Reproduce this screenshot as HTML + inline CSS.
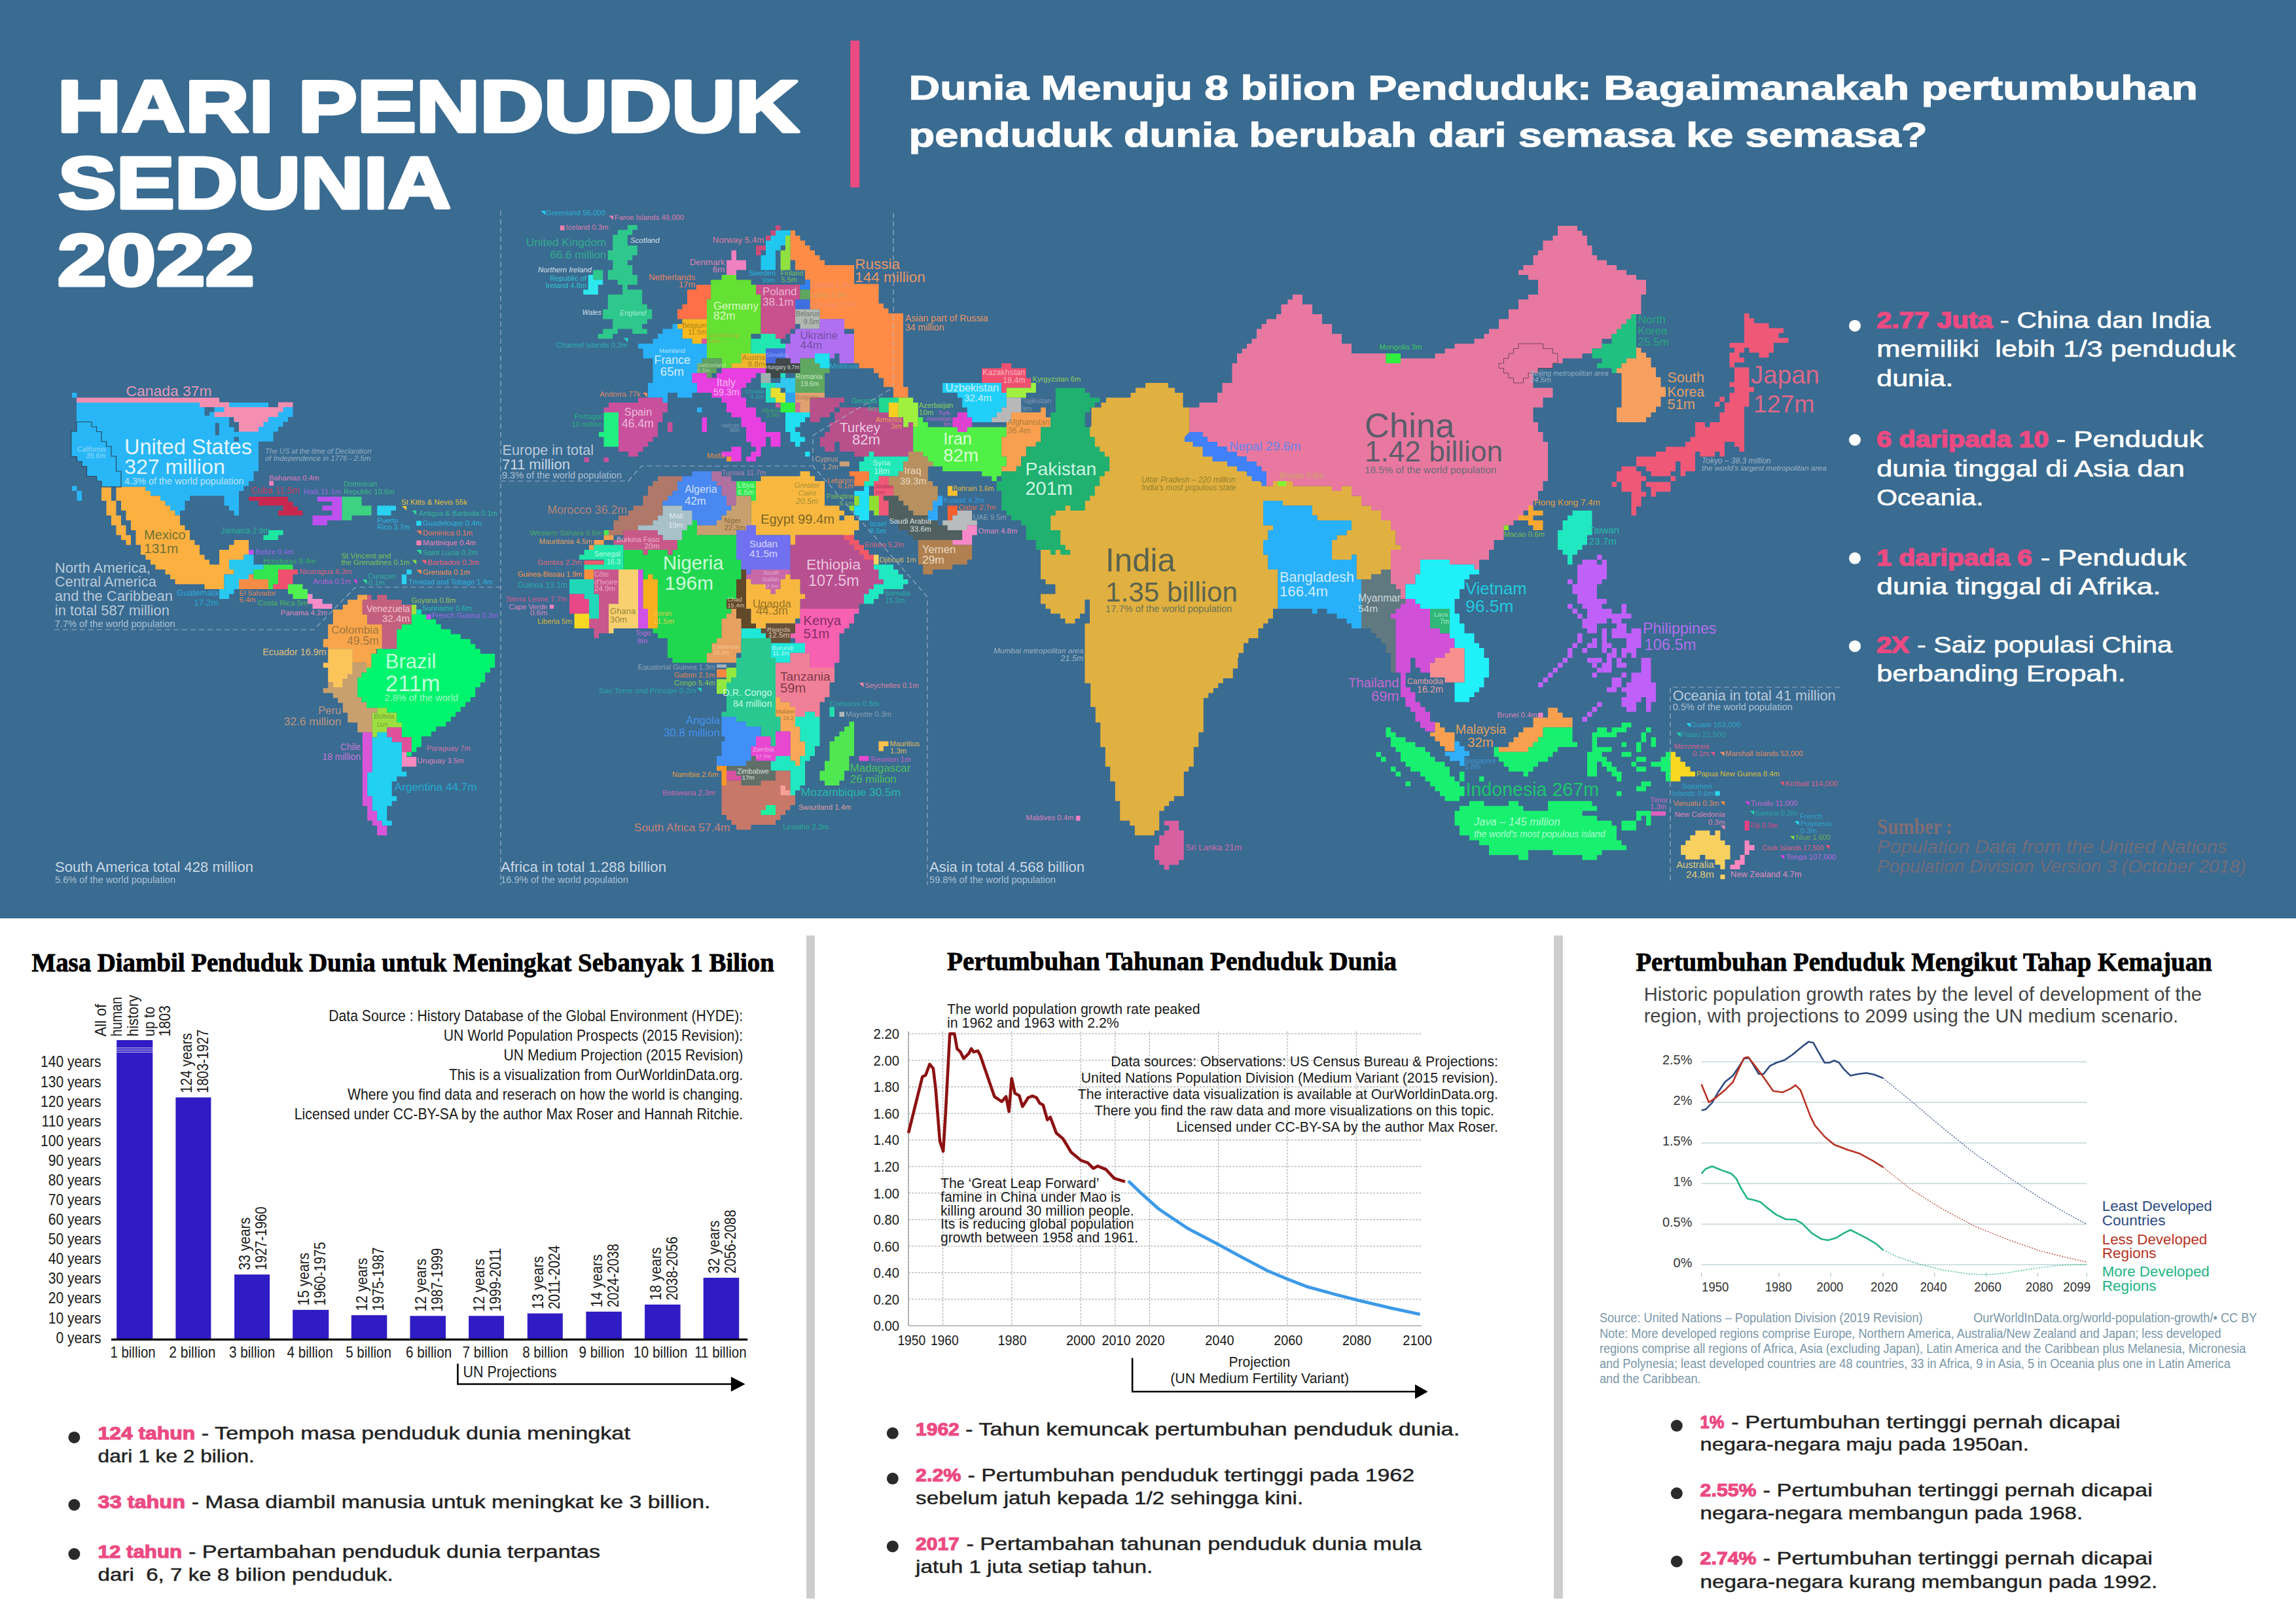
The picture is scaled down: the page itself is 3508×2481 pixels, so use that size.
<!DOCTYPE html>
<html><head><meta charset="utf-8"><title>Hari Penduduk Sedunia 2022</title>
<style>html,body{margin:0;padding:0;background:#fff}svg{display:block}text{white-space:pre}</style></head>
<body><svg width="3508" height="2481" viewBox="0 0 3508 2481">
<rect x="0" y="0" width="3508" height="2481" fill="#ffffff"/>
<rect x="0" y="0" width="3508" height="1403" fill="#3a6b91"/>
<polygon points="117.0,615.0 410.0,615.0 410.0,622.0 447.5,622.0 447.5,637.0 440.0,637.0 440.0,644.5 432.5,644.5 432.5,652.0 425.0,652.0 425.0,659.5 417.5,659.5 417.5,674.5 395.0,674.5 395.0,720.0 387.5,720.0 387.5,735.0 380.0,735.0 380.0,742.5 372.5,742.5 372.5,750.0 365.0,750.0 365.0,787.5 357.5,787.5 357.5,780.0 350.0,780.0 350.0,772.5 342.5,772.5 342.5,757.5 290.0,757.5 290.0,765.0 282.5,765.0 282.5,780.0 275.0,780.0 275.0,787.5 267.5,787.5 267.5,780.0 260.0,780.0 260.0,772.5 252.5,772.5 252.5,765.0 245.0,765.0 245.0,757.5 230.0,757.5 230.0,750.0 222.5,750.0 222.5,743.8 155.0,743.8 155.0,735.0 147.5,735.0 147.5,727.5 132.5,727.5 132.5,712.5 125.0,712.5 125.0,705.0 117.5,705.0 117.5,697.5 108.8,697.5 108.8,658.8 117.0,658.8" fill="#29b6f6"/>
<polygon points="328.8,646.2 335.0,646.2 335.0,665.0 328.8,665.0" fill="#3a6b91"/>
<polygon points="350.0,637.5 357.5,637.5 357.5,645.0 365.0,645.0 365.0,660.0 357.5,660.0 357.5,652.5 350.0,652.5" fill="#3a6b91"/>
<polygon points="357.5,667.5 365.0,667.5 365.0,674.5 357.5,674.5" fill="#3a6b91"/>
<polygon points="312.5,622.0 327.5,622.0 327.5,629.5 320.0,629.5 320.0,635.0 312.5,635.0" fill="#3a6b91"/>
<polygon points="110.0,600.0 117.5,600.0 117.5,607.5 110.0,607.5" fill="#29b6f6"/>
<polygon points="110.0,742.5 117.5,742.5 117.5,750.0 125.0,750.0 125.0,765.0 117.5,765.0 117.5,750.0 110.0,750.0" fill="#29b6f6"/>
<polygon points="117.0,607.5 335.0,607.5 335.0,614.5 350.0,614.5 350.0,622.0 402.5,622.0 425.0,622.0 425.0,614.5 447.5,614.5 447.5,622.0 432.5,622.0 432.5,629.5 425.0,629.5 425.0,637.0 410.0,637.0 410.0,644.5 402.5,644.5 402.5,652.0 395.0,652.0 395.0,659.5 365.0,659.5 365.0,644.5 357.5,644.5 357.5,637.0 327.5,637.0 327.5,629.5 342.5,629.5 342.5,622.0 305.0,622.0 305.0,615.0 117.0,615.0" fill="#f48fb1"/>
<polygon points="177.5,743.8 222.5,743.8 222.5,750.0 230.0,750.0 230.0,757.5 245.0,757.5 245.0,765.0 252.5,765.0 252.5,772.5 260.0,772.5 260.0,780.0 267.5,780.0 267.5,787.5 275.0,787.5 275.0,802.5 282.5,802.5 282.5,810.0 290.0,810.0 290.0,825.0 297.5,825.0 297.5,832.5 305.0,832.5 305.0,847.5 312.5,847.5 312.5,855.0 320.0,855.0 320.0,862.5 335.0,862.5 335.0,840.0 350.0,840.0 350.0,832.5 357.5,832.5 357.5,825.0 380.0,825.0 380.0,847.5 372.5,847.5 372.5,855.0 350.0,855.0 350.0,870.0 357.5,870.0 357.5,877.5 342.5,877.5 342.5,900.0 312.5,900.0 312.5,892.5 267.5,892.5 267.5,885.0 260.0,885.0 260.0,877.5 252.5,877.5 252.5,870.0 237.5,870.0 237.5,862.5 230.0,862.5 230.0,855.0 222.5,855.0 222.5,847.5 215.0,847.5 215.0,832.5 207.5,832.5 207.5,810.0 200.0,810.0 200.0,795.0 192.5,795.0 192.5,780.0 185.0,780.0 185.0,765.0 177.5,765.0" fill="#fbb040"/>
<polygon points="155.0,743.8 170.0,743.8 170.0,765.0 177.5,765.0 177.5,787.5 185.0,787.5 185.0,802.5 192.5,802.5 192.5,817.5 200.0,817.5 200.0,832.5 192.5,832.5 192.5,825.0 185.0,825.0 185.0,817.5 177.5,817.5 177.5,802.5 170.0,802.5 170.0,787.5 162.5,787.5 162.5,765.0 155.0,765.0" fill="#fbb040"/>
<polygon points="411.2,735.0 418.0,735.0 418.0,742.0 411.2,742.0" fill="#f080c0"/>
<polygon points="380.0,758.8 440.0,758.8 440.0,766.2 447.5,766.2 447.5,773.8 455.0,773.8 455.0,780.0 462.5,780.0 462.5,787.5 425.0,787.5 425.0,780.0 432.5,780.0 432.5,772.5 395.0,772.5 395.0,765.0 380.0,765.0" fill="#c8284e"/>
<polygon points="485.0,758.8 522.5,758.8 522.5,795.0 500.0,795.0 500.0,802.5 477.5,802.5 477.5,787.5 507.5,787.5 507.5,780.0 492.5,780.0 492.5,772.5 507.5,772.5 507.5,766.2 485.0,766.2" fill="#be50f0"/>
<polygon points="522.5,758.8 552.5,758.8 552.5,772.5 567.5,772.5 567.5,787.5 537.5,787.5 537.5,795.0 522.5,795.0" fill="#3cd282"/>
<polygon points="576.2,772.5 605.0,772.5 605.0,780.0 597.5,780.0 597.5,787.5 576.2,787.5" fill="#28d2f0"/>
<polygon points="410.0,810.0 432.5,810.0 432.5,817.5 425.0,817.5 425.0,825.0 402.5,825.0 402.5,817.5 410.0,817.5" fill="#1ee6a0"/>
<polygon points="380.0,840.0 387.5,840.0 387.5,847.5 380.0,847.5" fill="#be50f0"/>
<polygon points="372.5,847.5 387.5,847.5 387.5,862.5 402.5,862.5 402.5,870.0 387.5,870.0 387.5,877.5 380.0,877.5 380.0,885.0 365.0,885.0 365.0,900.0 357.5,900.0 357.5,907.5 350.0,907.5 350.0,915.0 335.0,915.0 335.0,900.0 342.5,900.0 342.5,877.5 357.5,877.5 357.5,870.0 350.0,870.0 350.0,855.0 372.5,855.0" fill="#28c8f0"/>
<polygon points="402.5,862.5 447.5,862.5 447.5,870.0 425.0,870.0 425.0,892.5 417.5,892.5 417.5,900.0 410.0,900.0 410.0,885.0 387.5,885.0 387.5,870.0 402.5,870.0" fill="#32e650"/>
<polygon points="380.0,877.5 387.5,877.5 387.5,885.0 410.0,885.0 410.0,900.0 365.0,900.0 365.0,885.0 380.0,885.0" fill="#f58c46"/>
<polygon points="425.0,870.0 455.0,870.0 455.0,877.5 447.5,877.5 447.5,892.5 440.0,892.5 440.0,900.0 417.5,900.0 417.5,892.5 425.0,892.5" fill="#f0506e"/>
<polygon points="440.0,892.5 462.5,892.5 462.5,900.0 470.0,900.0 470.0,915.0 447.5,915.0 447.5,907.5 440.0,907.5" fill="#50f050"/>
<polygon points="470.0,907.5 477.5,907.5 477.5,915.0 492.5,915.0 492.5,922.5 507.5,922.5 507.5,930.0 477.5,930.0 477.5,922.5 470.0,922.5" fill="#f58cc8"/>
<polygon points="613.8,877.5 621.2,877.5 621.2,892.5 613.8,892.5" fill="#28d2f0"/>
<polygon points="621.2,870.0 628.8,870.0 628.8,877.5 621.2,877.5" fill="#28d2f0"/>
<polygon points="546.2,908.8 561.2,908.8 561.2,916.2 553.8,916.2 553.8,938.8 561.2,938.8 561.2,953.8 583.8,953.8 583.8,991.2 575.0,991.2 575.0,998.8 567.5,998.8 567.5,1020.0 560.0,1020.0 560.0,1012.5 538.8,1012.5 538.8,991.2 501.2,991.2 501.2,988.8 493.8,988.8 493.8,976.2 501.2,976.2 501.2,953.8 508.8,953.8 508.8,931.2 523.8,931.2 523.8,923.8 531.2,923.8 531.2,916.2 546.2,916.2" fill="#f9a54b"/>
<polygon points="501.2,991.2 538.8,991.2 538.8,1030.0 531.2,1030.0 531.2,1037.5 523.8,1037.5 523.8,1050.0 508.8,1050.0 508.8,1042.5 501.2,1042.5 501.2,1020.0 493.8,1020.0 493.8,1012.5 501.2,1012.5" fill="#fcc55a"/>
<polygon points="538.8,1012.5 560.0,1012.5 560.0,1027.5 552.5,1027.5 552.5,1035.0 546.2,1035.0 546.2,1065.0 552.5,1065.0 552.5,1072.5 560.0,1072.5 560.0,1081.2 576.2,1081.2 576.2,1088.8 568.8,1088.8 568.8,1118.8 546.2,1118.8 546.2,1103.8 531.2,1103.8 531.2,1088.8 523.8,1088.8 523.8,1073.8 516.2,1073.8 516.2,1066.2 508.8,1066.2 508.8,1058.8 493.8,1058.8 493.8,1051.2 501.2,1051.2 501.2,1042.5 508.8,1042.5 508.8,1050.0 523.8,1050.0 523.8,1037.5 531.2,1037.5 531.2,1030.0 538.8,1030.0" fill="#c8a06e"/>
<polygon points="628.8,938.8 651.2,938.8 651.2,946.2 666.2,946.2 666.2,953.8 673.8,953.8 673.8,961.2 688.8,961.2 688.8,968.8 703.8,968.8 703.8,976.2 718.8,976.2 718.8,983.8 726.2,983.8 726.2,991.2 733.8,991.2 733.8,998.8 756.2,998.8 756.2,1020.0 748.8,1020.0 748.8,1027.5 741.2,1027.5 741.2,1042.5 733.8,1042.5 733.8,1050.0 726.2,1050.0 726.2,1065.0 718.8,1065.0 718.8,1072.5 711.2,1072.5 711.2,1080.0 703.8,1080.0 703.8,1087.5 696.2,1087.5 696.2,1095.0 688.8,1095.0 688.8,1102.5 681.2,1102.5 681.2,1110.0 666.2,1110.0 666.2,1117.5 658.8,1117.5 658.8,1125.0 643.8,1125.0 643.8,1141.2 636.2,1141.2 636.2,1148.8 628.8,1148.8 628.8,1155.0 621.2,1155.0 621.2,1148.8 628.8,1148.8 628.8,1126.2 613.8,1126.2 613.8,1111.2 606.2,1111.2 606.2,1088.8 591.2,1088.8 591.2,1081.2 560.0,1081.2 560.0,1072.5 552.5,1072.5 552.5,1065.0 546.2,1065.0 546.2,1035.0 552.5,1035.0 552.5,1027.5 560.0,1027.5 560.0,1020.0 567.5,1020.0 567.5,998.8 576.2,998.8 576.2,991.2 606.2,991.2 606.2,961.2 613.8,961.2 613.8,953.8 628.8,953.8" fill="#00f56e"/>
<polygon points="561.2,908.8 567.5,908.8 567.5,916.2 576.2,916.2 576.2,908.8 591.2,908.8 591.2,916.2 613.8,916.2 613.8,923.8 628.8,923.8 628.8,953.8 613.8,953.8 613.8,961.2 606.2,961.2 606.2,991.2 583.8,991.2 583.8,953.8 561.2,953.8 561.2,938.8 553.8,938.8 553.8,916.2 561.2,916.2" fill="#c4607f"/>
<polygon points="628.8,923.8 636.2,923.8 636.2,938.8 628.8,938.8" fill="#a0e040"/>
<polygon points="636.2,931.2 643.8,931.2 643.8,938.8 636.2,938.8" fill="#00e6b4"/>
<polygon points="651.2,938.8 658.8,938.8 658.8,946.2 651.2,946.2" fill="#be50f0"/>
<polygon points="576.2,1081.2 591.2,1081.2 591.2,1088.8 606.2,1088.8 606.2,1103.8 613.8,1103.8 613.8,1111.2 591.2,1111.2 591.2,1118.8 576.2,1118.8 576.2,1126.2 568.8,1126.2 568.8,1088.8 576.2,1088.8" fill="#9be040"/>
<polygon points="591.2,1111.2 613.8,1111.2 613.8,1126.2 628.8,1126.2 628.8,1148.8 613.8,1148.8 613.8,1133.8 598.8,1133.8 598.8,1126.2 591.2,1126.2" fill="#e0509a"/>
<polygon points="613.8,1148.8 621.2,1148.8 621.2,1156.2 636.2,1156.2 636.2,1171.2 613.8,1171.2" fill="#f48ac0"/>
<polygon points="553.8,1118.8 568.8,1118.8 568.8,1180.0 561.2,1180.0 561.2,1216.2 568.8,1216.2 568.8,1238.8 576.2,1238.8 576.2,1253.8 583.8,1253.8 583.8,1261.2 591.2,1261.2 591.2,1276.2 576.2,1276.2 576.2,1261.2 568.8,1261.2 568.8,1253.8 561.2,1253.8 561.2,1231.2 553.8,1231.2" fill="#d855d8"/>
<polygon points="568.8,1126.2 576.2,1126.2 576.2,1118.8 591.2,1118.8 591.2,1126.2 598.8,1126.2 598.8,1133.8 613.8,1133.8 613.8,1178.8 621.2,1178.8 621.2,1186.2 606.2,1186.2 606.2,1193.8 598.8,1193.8 598.8,1216.2 606.2,1216.2 606.2,1223.8 598.8,1223.8 598.8,1231.2 591.2,1231.2 591.2,1253.8 598.8,1253.8 598.8,1261.2 583.8,1261.2 583.8,1253.8 576.2,1253.8 576.2,1238.8 568.8,1238.8 568.8,1216.2 561.2,1216.2 561.2,1180.0 568.8,1180.0" fill="#22d0f0"/>
<polygon points="1207.5,352.0 1215.0,352.0 1215.0,360.0 1222.5,360.0 1222.5,367.5 1230.0,367.5 1230.0,375.0 1237.5,375.0 1237.5,382.5 1245.0,382.5 1245.0,390.0 1252.5,390.0 1252.5,397.5 1260.0,397.5 1260.0,405.0 1305.0,405.0 1305.0,433.8 1342.5,433.8 1342.5,463.8 1350.0,463.8 1350.0,471.2 1357.5,471.2 1357.5,478.8 1380.0,478.8 1380.0,591.2 1387.5,591.2 1387.5,607.5 1365.0,607.5 1365.0,591.2 1350.0,591.2 1350.0,577.5 1342.5,577.5 1342.5,570.0 1335.0,570.0 1335.0,562.5 1312.5,562.5 1312.5,555.0 1305.0,555.0 1305.0,502.5 1290.0,502.5 1290.0,487.5 1252.5,487.5 1252.5,472.5 1237.5,472.5 1237.5,427.5 1230.0,427.5 1230.0,412.5 1215.0,412.5 1215.0,397.5 1207.5,397.5" fill="#ff8c46"/>
<polygon points="958.8,343.8 973.8,343.8 973.8,351.2 966.2,351.2 966.2,358.8 958.8,358.8 958.8,375.0 973.8,375.0 973.8,390.0 966.2,390.0 966.2,397.5 958.8,397.5 958.8,405.0 966.2,405.0 966.2,420.0 973.8,420.0 973.8,435.0 958.8,435.0 958.8,442.5 981.2,442.5 981.2,465.0 988.8,465.0 988.8,472.5 996.2,472.5 996.2,487.5 988.8,487.5 988.8,495.0 981.2,495.0 981.2,502.5 988.8,502.5 988.8,510.0 966.2,510.0 966.2,502.5 943.8,502.5 943.8,510.0 936.2,510.0 936.2,517.5 913.8,517.5 913.8,510.0 921.2,510.0 921.2,502.5 936.2,502.5 936.2,487.5 921.2,487.5 921.2,472.5 928.8,472.5 928.8,450.0 951.2,450.0 951.2,435.0 943.8,435.0 943.8,427.5 928.8,427.5 928.8,412.5 936.2,412.5 936.2,397.5 928.8,397.5 928.8,382.5 936.2,382.5 936.2,358.8 943.8,358.8 943.8,351.2 958.8,351.2" fill="#2ec88c"/>
<polygon points="906.2,412.5 921.2,412.5 921.2,427.5 906.2,427.5" fill="#2ec88c"/>
<polygon points="898.8,420.0 906.2,420.0 906.2,427.5 921.2,427.5 921.2,435.0 913.8,435.0 913.8,450.0 891.2,450.0 891.2,442.5 898.8,442.5" fill="#2ee8f0"/>
<polygon points="855.8,344.5 862.5,344.5 862.5,351.8 855.8,351.8" fill="#f080b0"/>
<polygon points="1185.0,344.5 1192.5,344.5 1192.5,352.0 1185.0,352.0 1185.0,360.0 1177.5,360.0 1177.5,367.5 1170.0,367.5 1170.0,382.5 1162.5,382.5 1162.5,390.0 1155.0,390.0 1155.0,375.0 1170.0,375.0 1170.0,360.0 1177.5,360.0 1177.5,352.0 1185.0,352.0" fill="#cc4a78"/>
<polygon points="1192.5,352.0 1207.5,352.0 1207.5,360.0 1200.0,360.0 1200.0,375.0 1192.5,375.0 1192.5,382.5 1185.0,382.5 1185.0,412.5 1162.5,412.5 1162.5,390.0 1170.0,390.0 1170.0,367.5 1177.5,367.5 1177.5,360.0 1185.0,360.0 1185.0,352.0" fill="#20c8f0"/>
<polygon points="1200.0,360.0 1207.5,360.0 1207.5,412.5 1192.5,412.5 1192.5,382.5 1200.0,382.5" fill="#90e040"/>
<polygon points="1117.5,382.5 1125.0,382.5 1125.0,397.5 1140.0,397.5 1140.0,412.5 1125.0,412.5 1125.0,420.0 1110.0,420.0 1110.0,397.5 1117.5,397.5" fill="#f080c0"/>
<polygon points="1063.8,435.0 1086.2,435.0 1086.2,457.5 1080.0,457.5 1080.0,487.5 1035.0,487.5 1035.0,472.5 1042.5,472.5 1042.5,465.0 1050.0,465.0 1050.0,442.5 1063.8,442.5" fill="#ff7048"/>
<polygon points="1042.5,487.5 1080.0,487.5 1080.0,517.5 1072.5,517.5 1072.5,525.0 1057.5,525.0 1057.5,517.5 1042.5,517.5 1042.5,502.5 1035.0,502.5 1035.0,495.0 1042.5,495.0" fill="#f8b820"/>
<polygon points="1102.5,420.0 1125.0,420.0 1125.0,427.5 1147.5,427.5 1147.5,435.0 1155.0,435.0 1155.0,450.0 1162.5,450.0 1162.5,510.0 1147.5,510.0 1147.5,540.0 1132.5,540.0 1132.5,555.0 1117.5,555.0 1117.5,562.5 1102.5,562.5 1102.5,547.5 1080.0,547.5 1080.0,457.5 1086.2,457.5 1086.2,427.5 1102.5,427.5" fill="#64e132"/>
<polygon points="1072.5,517.5 1080.0,517.5 1080.0,525.0 1072.5,525.0" fill="#e0509a"/>
<polygon points="1155.0,435.0 1222.5,435.0 1222.5,472.5 1215.0,472.5 1215.0,502.5 1207.5,502.5 1207.5,510.0 1200.0,510.0 1200.0,517.5 1185.0,517.5 1185.0,510.0 1162.5,510.0 1162.5,450.0 1155.0,450.0" fill="#c8508c"/>
<polygon points="1230.0,427.5 1237.5,427.5 1237.5,442.5 1222.5,442.5 1222.5,435.0 1230.0,435.0" fill="#3080f0"/>
<polygon points="1222.5,442.5 1237.5,442.5 1237.5,457.5 1222.5,457.5" fill="#60a860"/>
<polygon points="1215.0,457.5 1237.5,457.5 1237.5,472.5 1215.0,472.5" fill="#4070e0"/>
<polygon points="1215.0,472.5 1252.5,472.5 1252.5,487.5 1260.0,487.5 1260.0,495.0 1252.5,495.0 1252.5,502.5 1222.5,502.5 1222.5,495.0 1215.0,495.0" fill="#b0b8b0"/>
<polygon points="1252.5,487.5 1290.0,487.5 1290.0,510.0 1305.0,510.0 1305.0,555.0 1282.5,555.0 1282.5,540.0 1275.0,540.0 1275.0,547.5 1267.5,547.5 1267.5,540.0 1245.0,540.0 1245.0,547.5 1222.5,547.5 1222.5,555.0 1207.5,555.0 1207.5,547.5 1200.0,547.5 1200.0,525.0 1207.5,525.0 1207.5,510.0 1215.0,510.0 1215.0,502.5 1252.5,502.5" fill="#b070f0"/>
<polygon points="1162.5,510.0 1185.0,510.0 1185.0,517.5 1192.5,517.5 1192.5,525.0 1200.0,525.0 1200.0,532.5 1170.0,532.5 1170.0,540.0 1147.5,540.0 1147.5,517.5 1162.5,517.5" fill="#20e8b0"/>
<polygon points="1170.0,532.5 1200.0,532.5 1200.0,547.5 1185.0,547.5 1185.0,555.0 1170.0,555.0" fill="#4868e0"/>
<polygon points="1132.5,540.0 1170.0,540.0 1170.0,562.5 1117.5,562.5 1117.5,555.0 1132.5,555.0" fill="#f0b830"/>
<polygon points="1185.0,547.5 1207.5,547.5 1207.5,555.0 1222.5,555.0 1222.5,570.0 1192.5,570.0 1192.5,577.5 1177.5,577.5 1177.5,570.0 1170.0,570.0 1170.0,555.0 1185.0,555.0" fill="#404848"/>
<polygon points="1072.5,547.5 1102.5,547.5 1102.5,562.5 1095.0,562.5 1095.0,570.0 1087.5,570.0 1087.5,577.5 1080.0,577.5 1080.0,570.0 1065.0,570.0 1065.0,555.0 1072.5,555.0" fill="#60a060"/>
<polygon points="1027.5,495.0 1035.0,495.0 1035.0,502.5 1042.5,502.5 1042.5,517.5 1057.5,517.5 1057.5,525.0 1080.0,525.0 1080.0,547.5 1072.5,547.5 1072.5,555.0 1065.0,555.0 1065.0,570.0 1057.5,570.0 1057.5,585.0 1065.0,585.0 1065.0,600.0 1057.5,600.0 1057.5,607.5 1035.0,607.5 1035.0,600.0 1020.0,600.0 1020.0,615.0 1012.5,615.0 1012.5,607.5 990.0,607.5 990.0,585.0 997.5,585.0 997.5,547.5 982.5,547.5 982.5,532.5 975.0,532.5 975.0,525.0 997.5,525.0 997.5,517.5 1005.0,517.5 1005.0,510.0 1012.5,510.0 1012.5,502.5 1027.5,502.5" fill="#28b0f8"/>
<polygon points="1102.5,562.5 1170.0,562.5 1170.0,570.0 1155.0,570.0 1155.0,577.5 1147.5,577.5 1147.5,585.0 1140.0,585.0 1140.0,592.5 1132.5,592.5 1132.5,607.5 1140.0,607.5 1140.0,622.5 1155.0,622.5 1155.0,637.5 1162.5,637.5 1162.5,645.0 1170.0,645.0 1170.0,660.0 1192.5,660.0 1192.5,682.5 1177.5,682.5 1177.5,667.5 1170.0,667.5 1170.0,682.5 1162.5,682.5 1162.5,697.5 1155.0,697.5 1155.0,705.0 1140.0,705.0 1140.0,697.5 1147.5,697.5 1147.5,690.0 1155.0,690.0 1155.0,682.5 1147.5,682.5 1147.5,675.0 1140.0,675.0 1140.0,652.5 1132.5,652.5 1132.5,637.5 1117.5,637.5 1117.5,630.0 1110.0,630.0 1110.0,615.0 1102.5,615.0 1102.5,607.5 1087.5,607.5 1087.5,600.0 1065.0,600.0 1065.0,585.0 1057.5,585.0 1057.5,570.0 1080.0,570.0 1080.0,577.5 1095.0,577.5 1095.0,570.0 1102.5,570.0" fill="#e840e0"/>
<polygon points="1117.5,682.5 1132.5,682.5 1132.5,705.0 1117.5,705.0 1117.5,697.5 1102.5,697.5 1102.5,690.0 1117.5,690.0" fill="#e840e0"/>
<polygon points="1072.5,637.5 1080.0,637.5 1080.0,660.0 1072.5,660.0" fill="#e840e0"/>
<polygon points="1065.0,622.5 1072.5,622.5 1072.5,630.0 1065.0,630.0" fill="#28b0f8"/>
<polygon points="975.0,607.5 1012.5,607.5 1012.5,615.0 1020.0,615.0 1020.0,630.0 1012.5,630.0 1012.5,645.0 1005.0,645.0 1005.0,667.5 997.5,667.5 997.5,675.0 990.0,675.0 990.0,682.5 982.5,682.5 982.5,690.0 975.0,690.0 975.0,697.5 960.0,697.5 960.0,690.0 945.0,690.0 945.0,630.0 922.5,630.0 922.5,622.5 930.0,622.5 930.0,615.0 975.0,615.0" fill="#c8509c"/>
<polygon points="1020.0,645.0 1027.5,645.0 1027.5,660.0 1020.0,660.0" fill="#c8509c"/>
<polygon points="892.5,698.8 900.0,698.8 900.0,706.0 892.5,706.0" fill="#c8509c"/>
<polygon points="922.5,698.8 930.0,698.8 930.0,706.0 922.5,706.0" fill="#c8509c"/>
<polygon points="922.5,630.0 945.0,630.0 945.0,682.5 922.5,682.5 922.5,667.5 915.0,667.5 915.0,660.0 922.5,660.0" fill="#20f080"/>
<polygon points="1222.5,547.5 1245.0,547.5 1245.0,555.0 1252.5,555.0 1252.5,562.5 1267.5,562.5 1267.5,570.0 1260.0,570.0 1260.0,600.0 1215.0,600.0 1215.0,570.0 1222.5,570.0" fill="#60a860"/>
<polygon points="1245.0,540.0 1267.5,540.0 1267.5,562.5 1252.5,562.5 1252.5,555.0 1245.0,555.0" fill="#20e0f0"/>
<polygon points="1215.0,600.0 1260.0,600.0 1260.0,607.5 1237.5,607.5 1237.5,630.0 1215.0,630.0" fill="#e0a070"/>
<polygon points="1162.5,570.0 1177.5,570.0 1177.5,585.0 1162.5,585.0" fill="#a0b0b0"/>
<polygon points="1162.5,585.0 1185.0,585.0 1185.0,592.5 1177.5,592.5 1177.5,607.5 1185.0,607.5 1185.0,615.0 1170.0,615.0 1170.0,592.5 1162.5,592.5" fill="#20e0c0"/>
<polygon points="1192.5,570.0 1200.0,570.0 1200.0,577.5 1192.5,577.5" fill="#20e0c0"/>
<polygon points="1192.5,577.5 1215.0,577.5 1215.0,600.0 1200.0,600.0 1200.0,592.5 1185.0,592.5 1185.0,585.0 1192.5,585.0" fill="#30c8f0"/>
<polygon points="1177.5,592.5 1192.5,592.5 1192.5,600.0 1200.0,600.0 1200.0,615.0 1185.0,615.0 1185.0,607.5 1177.5,607.5" fill="#e8e030"/>
<polygon points="1200.0,600.0 1215.0,600.0 1215.0,615.0 1200.0,615.0" fill="#30a0f0"/>
<polygon points="1192.5,615.0 1215.0,615.0 1215.0,630.0 1192.5,630.0" fill="#30f040"/>
<polygon points="1185.0,616.2 1192.5,616.2 1192.5,622.5 1185.0,622.5" fill="#d05898"/>
<polygon points="1215.0,615.0 1222.5,615.0 1222.5,630.0 1215.0,630.0" fill="#d06898"/>
<polygon points="1200.0,630.0 1237.5,630.0 1237.5,637.5 1230.0,637.5 1230.0,645.0 1222.5,645.0 1222.5,652.5 1215.0,652.5 1215.0,660.0 1222.5,660.0 1222.5,667.5 1230.0,667.5 1230.0,675.0 1222.5,675.0 1222.5,682.5 1215.0,682.5 1215.0,675.0 1207.5,675.0 1207.5,660.0 1200.0,660.0" fill="#20e0f0"/>
<polygon points="1230.0,690.0 1237.5,690.0 1237.5,697.5 1230.0,697.5" fill="#20e0f0"/>
<polygon points="1110.0,697.5 1117.5,697.5 1117.5,705.0 1110.0,705.0" fill="#f89040"/>
<polygon points="1237.8,607.5 1290.2,607.5 1290.2,615.0 1282.8,615.0 1282.8,622.5 1275.2,622.5 1275.2,630.0 1267.8,630.0 1267.8,637.5 1252.8,637.5 1252.8,645.0 1237.8,645.0" fill="#b8508c"/>
<polygon points="1282.8,622.5 1357.8,622.5 1357.8,637.5 1380.2,637.5 1380.2,652.5 1387.8,652.5 1387.8,645.0 1395.2,645.0 1395.2,690.0 1387.8,690.0 1387.8,697.5 1335.2,697.5 1335.2,690.0 1327.8,690.0 1327.8,697.5 1305.2,697.5 1305.2,690.0 1282.8,690.0 1282.8,675.0 1275.2,675.0 1275.2,690.0 1260.2,690.0 1260.2,682.5 1252.8,682.5 1252.8,667.5 1260.2,667.5 1260.2,660.0 1267.8,660.0 1267.8,645.0 1275.2,645.0 1275.2,630.0 1282.8,630.0" fill="#b8508c"/>
<polygon points="1342.8,607.5 1372.8,607.5 1372.8,615.0 1357.8,615.0 1357.8,630.0 1342.8,630.0" fill="#20d890"/>
<polygon points="1357.8,615.0 1372.8,615.0 1372.8,637.5 1357.8,637.5" fill="#f8d020"/>
<polygon points="1372.8,607.5 1395.2,607.5 1395.2,615.0 1402.8,615.0 1402.8,652.5 1395.2,652.5 1395.2,645.0 1387.8,645.0 1387.8,652.5 1380.2,652.5 1380.2,637.5 1372.8,637.5" fill="#a0f040"/>
<polygon points="1395.2,652.5 1402.8,652.5 1402.8,637.5 1410.2,637.5 1410.2,645.0 1417.8,645.0 1417.8,652.5 1537.8,652.5 1537.8,667.5 1530.2,667.5 1530.2,697.5 1537.8,697.5 1537.8,712.5 1530.2,712.5 1530.2,727.5 1522.8,727.5 1522.8,735.0 1515.2,735.0 1515.2,727.5 1500.2,727.5 1500.2,720.0 1440.2,720.0 1440.2,712.5 1425.2,712.5 1425.2,705.0 1417.8,705.0 1417.8,697.5 1410.2,697.5 1410.2,690.0 1395.2,690.0" fill="#50f046"/>
<polygon points="1462.8,630.0 1477.8,630.0 1477.8,637.5 1485.2,637.5 1485.2,652.5 1477.8,652.5 1477.8,660.0 1462.8,660.0 1462.8,652.5 1455.2,652.5 1455.2,637.5 1462.8,637.5" fill="#e040d0"/>
<polygon points="1440.2,585.0 1530.2,585.0 1530.2,600.0 1537.8,600.0 1537.8,622.5 1530.2,622.5 1530.2,630.0 1522.8,630.0 1522.8,637.5 1515.2,637.5 1515.2,645.0 1485.2,645.0 1485.2,637.5 1477.8,637.5 1477.8,622.5 1470.2,622.5 1470.2,607.5 1462.8,607.5 1462.8,600.0 1440.2,600.0" fill="#20d0f8"/>
<polygon points="1530.2,555.0 1545.2,555.0 1545.2,562.5 1567.8,562.5 1567.8,577.5 1575.2,577.5 1575.2,592.5 1537.8,592.5 1537.8,600.0 1530.2,600.0 1530.2,585.0 1500.2,585.0 1500.2,562.5 1530.2,562.5" fill="#f05070"/>
<polygon points="1575.2,585.0 1582.8,585.0 1582.8,600.0 1567.8,600.0 1567.8,607.5 1537.8,607.5 1537.8,592.5 1575.2,592.5" fill="#a0f040"/>
<polygon points="1537.8,607.5 1560.2,607.5 1560.2,630.0 1545.2,630.0 1545.2,645.0 1515.2,645.0 1515.2,637.5 1522.8,637.5 1522.8,630.0 1530.2,630.0 1530.2,622.5 1537.8,622.5" fill="#b8b8b8"/>
<polygon points="1545.2,630.0 1590.2,630.0 1590.2,622.5 1597.8,622.5 1597.8,637.5 1605.2,637.5 1605.2,652.5 1590.2,652.5 1590.2,675.0 1582.8,675.0 1582.8,682.5 1567.8,682.5 1567.8,697.5 1560.2,697.5 1560.2,712.5 1552.8,712.5 1552.8,720.0 1530.2,720.0 1530.2,712.5 1537.8,712.5 1537.8,697.5 1530.2,697.5 1530.2,667.5 1537.8,667.5 1537.8,645.0 1545.2,645.0" fill="#f8a050"/>
<polygon points="1327.8,690.0 1335.2,690.0 1335.2,697.5 1387.8,697.5 1387.8,705.0 1380.2,705.0 1380.2,720.0 1372.8,720.0 1372.8,727.5 1342.8,727.5 1342.8,735.0 1335.2,735.0 1335.2,742.5 1320.2,742.5 1320.2,735.0 1327.8,735.0 1327.8,720.0 1312.8,720.0 1312.8,705.0 1320.2,705.0 1320.2,697.5 1327.8,697.5" fill="#20e8b8"/>
<polygon points="1387.8,690.0 1410.2,690.0 1410.2,697.5 1417.8,697.5 1417.8,705.0 1425.2,705.0 1425.2,712.5 1417.8,712.5 1417.8,735.0 1425.2,735.0 1425.2,742.5 1432.8,742.5 1432.8,765.0 1425.2,765.0 1425.2,780.0 1417.8,780.0 1417.8,787.5 1395.2,787.5 1395.2,780.0 1387.8,780.0 1387.8,772.5 1380.2,772.5 1380.2,765.0 1372.8,765.0 1372.8,757.5 1365.2,757.5 1365.2,742.5 1357.8,742.5 1357.8,727.5 1372.8,727.5 1372.8,720.0 1380.2,720.0 1380.2,705.0 1387.8,705.0" fill="#b89060"/>
<polygon points="1297.8,720.0 1327.8,720.0 1327.8,735.0 1320.2,735.0 1320.2,742.5 1305.2,742.5 1305.2,727.5 1297.8,727.5" fill="#f88040"/>
<polygon points="1342.8,727.5 1357.8,727.5 1357.8,742.5 1365.2,742.5 1365.2,757.5 1350.2,757.5 1350.2,765.0 1357.8,765.0 1357.8,787.5 1342.8,787.5 1342.8,765.0 1335.2,765.0 1335.2,735.0 1342.8,735.0" fill="#f05878"/>
<polygon points="1327.8,757.5 1342.8,757.5 1342.8,787.5 1335.2,787.5 1335.2,780.0 1327.8,780.0" fill="#90e030"/>
<polygon points="1305.2,757.5 1312.8,757.5 1312.8,772.5 1305.2,772.5 1305.2,780.0 1297.8,780.0 1297.8,772.5 1305.2,772.5" fill="#90e030"/>
<polygon points="1305.2,750.0 1320.2,750.0 1320.2,742.5 1327.8,742.5 1327.8,795.0 1312.8,795.0 1312.8,787.5 1305.2,787.5 1305.2,772.5 1312.8,772.5 1312.8,757.5 1305.2,757.5" fill="#20e0f8"/>
<polygon points="1350.2,757.5 1372.8,757.5 1372.8,765.0 1380.2,765.0 1380.2,772.5 1387.8,772.5 1387.8,780.0 1395.2,780.0 1395.2,787.5 1417.8,787.5 1417.8,795.0 1432.8,795.0 1432.8,802.5 1447.8,802.5 1447.8,810.0 1470.2,810.0 1470.2,825.0 1395.2,825.0 1395.2,817.5 1387.8,817.5 1387.8,810.0 1372.8,810.0 1372.8,795.0 1357.8,795.0 1357.8,765.0 1350.2,765.0" fill="#506060"/>
<polygon points="1432.8,757.5 1440.2,757.5 1440.2,772.5 1432.8,772.5 1432.8,795.0 1417.8,795.0 1417.8,780.0 1425.2,780.0 1425.2,765.0 1432.8,765.0" fill="#30a8f8"/>
<polygon points="1447.8,742.5 1455.2,742.5 1455.2,750.0 1462.8,750.0 1462.8,757.5 1447.8,757.5" fill="#f8c030"/>
<polygon points="1447.8,772.5 1462.8,772.5 1462.8,787.5 1455.2,787.5 1455.2,795.0 1447.8,795.0" fill="#f86030"/>
<polygon points="1462.8,780.0 1485.2,780.0 1485.2,795.0 1492.8,795.0 1492.8,802.5 1477.8,802.5 1477.8,810.0 1447.8,810.0 1447.8,802.5 1440.2,802.5 1440.2,795.0 1455.2,795.0 1455.2,787.5 1462.8,787.5" fill="#b8bcbc"/>
<polygon points="1477.8,802.5 1492.8,802.5 1492.8,817.5 1485.2,817.5 1485.2,832.5 1455.2,832.5 1455.2,825.0 1470.2,825.0 1470.2,810.0 1477.8,810.0" fill="#f888c8"/>
<polygon points="1402.8,825.0 1455.2,825.0 1455.2,832.5 1485.2,832.5 1485.2,855.0 1477.8,855.0 1477.8,862.5 1455.2,862.5 1455.2,870.0 1425.2,870.0 1425.2,877.5 1410.2,877.5 1410.2,862.5 1402.8,862.5" fill="#b08050"/>
<polygon points="1282.8,705.0 1297.8,705.0 1297.8,712.5 1282.8,712.5" fill="#c8a078"/>
<polygon points="1005.0,727.5 1042.5,727.5 1042.5,735.0 1035.0,735.0 1035.0,750.0 1027.5,750.0 1027.5,757.5 1020.0,757.5 1020.0,765.0 1012.5,765.0 1012.5,787.5 1005.0,787.5 1005.0,795.0 997.5,795.0 997.5,802.5 975.0,802.5 975.0,810.0 952.5,810.0 952.5,817.5 930.0,817.5 930.0,810.0 937.5,810.0 937.5,795.0 945.0,795.0 945.0,787.5 960.0,787.5 960.0,780.0 967.5,780.0 967.5,772.5 982.5,772.5 982.5,757.5 990.0,757.5 990.0,742.5 997.5,742.5 997.5,735.0 1005.0,735.0" fill="#b07868"/>
<polygon points="1057.5,720.0 1087.5,720.0 1087.5,735.0 1095.0,735.0 1095.0,742.5 1102.5,742.5 1102.5,757.5 1110.0,757.5 1110.0,772.5 1117.5,772.5 1117.5,780.0 1110.0,780.0 1110.0,787.5 1102.5,787.5 1102.5,795.0 1095.0,795.0 1095.0,802.5 1065.0,802.5 1065.0,795.0 1057.5,795.0 1057.5,780.0 1042.5,780.0 1042.5,772.5 1012.5,772.5 1012.5,765.0 1020.0,765.0 1020.0,757.5 1027.5,757.5 1027.5,750.0 1035.0,750.0 1035.0,735.0 1042.5,735.0 1042.5,727.5 1057.5,727.5" fill="#4888f0"/>
<polygon points="1087.5,720.0 1102.5,720.0 1102.5,727.5 1117.5,727.5 1117.5,735.0 1125.0,735.0 1125.0,772.5 1110.0,772.5 1110.0,757.5 1102.5,757.5 1102.5,742.5 1095.0,742.5 1095.0,735.0 1087.5,735.0" fill="#b070a0"/>
<polygon points="1125.0,735.0 1155.0,735.0 1155.0,765.0 1147.5,765.0 1147.5,757.5 1125.0,757.5" fill="#30e850"/>
<polygon points="1162.5,727.5 1222.5,727.5 1222.5,720.0 1237.5,720.0 1237.5,727.5 1245.0,727.5 1245.0,735.0 1260.0,735.0 1260.0,772.5 1282.5,772.5 1282.5,780.0 1290.0,780.0 1290.0,787.5 1305.0,787.5 1305.0,795.0 1312.5,795.0 1312.5,810.0 1305.0,810.0 1305.0,817.5 1297.5,817.5 1297.5,825.0 1290.0,825.0 1290.0,817.5 1215.0,817.5 1215.0,832.5 1207.5,832.5 1207.5,817.5 1155.0,817.5 1155.0,802.5 1147.5,802.5 1147.5,765.0 1155.0,765.0 1155.0,735.0 1162.5,735.0" fill="#f8b840"/>
<polygon points="1282.5,787.5 1290.0,787.5 1290.0,795.0 1282.5,795.0" fill="#3a6b91"/>
<polygon points="1012.5,772.5 1042.5,772.5 1042.5,780.0 1057.5,780.0 1057.5,795.0 1065.0,795.0 1065.0,802.5 1050.0,802.5 1050.0,810.0 1042.5,810.0 1042.5,825.0 1012.5,825.0 1012.5,817.5 1005.0,817.5 1005.0,810.0 975.0,810.0 975.0,802.5 997.5,802.5 997.5,795.0 1005.0,795.0 1005.0,787.5 1012.5,787.5" fill="#a8c0c8"/>
<polygon points="1125.0,757.5 1147.5,757.5 1147.5,802.5 1155.0,802.5 1155.0,810.0 1125.0,810.0 1125.0,817.5 1065.0,817.5 1065.0,802.5 1095.0,802.5 1095.0,795.0 1102.5,795.0 1102.5,787.5 1110.0,787.5 1110.0,780.0 1117.5,780.0 1117.5,772.5 1125.0,772.5" fill="#c8a070"/>
<polygon points="1050.0,802.5 1057.5,802.5 1057.5,795.0 1065.0,795.0 1065.0,817.5 1125.0,817.5 1125.0,855.0 1132.5,855.0 1132.5,885.0 1125.0,885.0 1125.0,915.0 1110.0,915.0 1110.0,930.0 1117.5,930.0 1117.5,937.5 1110.0,937.5 1110.0,945.0 1102.5,945.0 1102.5,975.0 1095.0,975.0 1095.0,982.5 1087.5,982.5 1087.5,997.5 1080.0,997.5 1080.0,1012.5 1027.5,1012.5 1027.5,1005.0 1020.0,1005.0 1020.0,975.0 1005.0,975.0 1005.0,967.5 997.5,967.5 997.5,960.0 1005.0,960.0 1005.0,885.0 997.5,885.0 997.5,877.5 990.0,877.5 990.0,885.0 982.5,885.0 982.5,870.0 952.5,870.0 952.5,840.0 982.5,840.0 982.5,847.5 990.0,847.5 990.0,840.0 1020.0,840.0 1020.0,847.5 1027.5,847.5 1027.5,840.0 1035.0,840.0 1035.0,825.0 1042.5,825.0 1042.5,810.0 1050.0,810.0" fill="#20d850"/>
<polygon points="952.5,810.0 1005.0,810.0 1005.0,817.5 1012.5,817.5 1012.5,825.0 1035.0,825.0 1035.0,840.0 1027.5,840.0 1027.5,847.5 1020.0,847.5 1020.0,840.0 990.0,840.0 990.0,847.5 982.5,847.5 982.5,840.0 952.5,840.0 952.5,832.5 937.5,832.5 937.5,825.0 952.5,825.0" fill="#c85888"/>
<polygon points="930.0,817.5 937.5,817.5 937.5,825.0 922.5,825.0 922.5,832.5 907.5,832.5 907.5,840.0 900.0,840.0 900.0,832.5 907.5,832.5 907.5,825.0 922.5,825.0 922.5,817.5" fill="#f8a050"/>
<polygon points="922.5,810.0 930.0,810.0 930.0,817.5 922.5,817.5" fill="#50e850"/>
<polygon points="922.5,832.5 952.5,832.5 952.5,870.0 892.5,870.0 892.5,862.5 922.5,862.5 922.5,855.0 885.0,855.0 885.0,847.5 892.5,847.5 892.5,840.0 907.5,840.0 907.5,832.5" fill="#20e8a8"/>
<polygon points="892.5,856.2 922.5,856.2 922.5,862.5 892.5,862.5" fill="#f05868"/>
<polygon points="892.5,870.0 907.5,870.0 907.5,885.0 892.5,885.0" fill="#f89040"/>
<polygon points="870.0,885.0 907.5,885.0 907.5,907.5 915.0,907.5 915.0,945.0 900.0,945.0 900.0,915.0 892.5,915.0 892.5,907.5 870.0,907.5" fill="#20d8b8"/>
<polygon points="907.5,870.0 945.0,870.0 945.0,922.5 930.0,922.5 930.0,967.5 915.0,967.5 915.0,975.0 907.5,975.0 907.5,960.0 900.0,960.0 900.0,945.0 915.0,945.0 915.0,907.5 907.5,907.5" fill="#c8588c"/>
<polygon points="870.0,907.5 892.5,907.5 892.5,915.0 900.0,915.0 900.0,937.5 870.0,937.5" fill="#e84888"/>
<polygon points="877.5,937.5 900.0,937.5 900.0,960.0 877.5,960.0" fill="#f8d820"/>
<polygon points="945.0,870.0 975.0,870.0 975.0,960.0 937.5,960.0 937.5,967.5 930.0,967.5 930.0,922.5 945.0,922.5" fill="#f8d070"/>
<polygon points="975.0,870.0 982.5,870.0 982.5,930.0 990.0,930.0 990.0,960.0 975.0,960.0" fill="#d050e8"/>
<polygon points="990.0,877.5 997.5,877.5 997.5,885.0 1005.0,885.0 1005.0,960.0 990.0,960.0 990.0,930.0 982.5,930.0 982.5,885.0 990.0,885.0" fill="#f8b020"/>
<polygon points="840.0,923.8 846.2,923.8 846.2,930.0 840.0,930.0" fill="#f080c0"/>
<polygon points="1140.0,802.5 1155.0,802.5 1155.0,817.5 1207.5,817.5 1207.5,870.0 1147.5,870.0 1147.5,877.5 1140.0,877.5 1140.0,870.0 1132.5,870.0 1132.5,855.0 1125.0,855.0 1125.0,810.0 1140.0,810.0" fill="#7070f0"/>
<polygon points="1132.5,870.0 1140.0,870.0 1140.0,930.0 1147.5,930.0 1147.5,952.5 1155.0,952.5 1155.0,960.0 1132.5,960.0 1132.5,945.0 1125.0,945.0 1125.0,930.0 1110.0,930.0 1110.0,915.0 1125.0,915.0 1125.0,885.0 1132.5,885.0" fill="#604828"/>
<polygon points="1147.5,870.0 1207.5,870.0 1207.5,877.5 1200.0,877.5 1200.0,885.0 1192.5,885.0 1192.5,900.0 1185.0,900.0 1185.0,907.5 1177.5,907.5 1177.5,900.0 1170.0,900.0 1170.0,892.5 1147.5,892.5 1147.5,885.0 1140.0,885.0 1140.0,877.5 1147.5,877.5" fill="#c868a8"/>
<polygon points="1215.0,817.5 1290.0,817.5 1290.0,825.0 1297.5,825.0 1297.5,832.5 1305.0,832.5 1305.0,840.0 1312.5,840.0 1312.5,847.5 1320.0,847.5 1320.0,855.0 1335.0,855.0 1335.0,870.0 1342.5,870.0 1342.5,877.5 1350.0,877.5 1350.0,892.5 1342.5,892.5 1342.5,900.0 1335.0,900.0 1335.0,907.5 1327.5,907.5 1327.5,915.0 1320.0,915.0 1320.0,922.5 1312.5,922.5 1312.5,930.0 1222.5,930.0 1222.5,915.0 1230.0,915.0 1230.0,907.5 1222.5,907.5 1222.5,885.0 1207.5,885.0 1207.5,832.5 1215.0,832.5" fill="#b85090"/>
<polygon points="1290.0,817.5 1305.0,817.5 1305.0,825.0 1312.5,825.0 1312.5,832.5 1320.0,832.5 1320.0,840.0 1327.5,840.0 1327.5,847.5 1335.0,847.5 1335.0,855.0 1320.0,855.0 1320.0,847.5 1312.5,847.5 1312.5,840.0 1305.0,840.0 1305.0,832.5 1297.5,832.5 1297.5,825.0 1290.0,825.0" fill="#f05868"/>
<polygon points="1335.0,847.5 1342.5,847.5 1342.5,862.5 1335.0,862.5" fill="#f8d060"/>
<polygon points="1140.0,885.0 1147.5,885.0 1147.5,892.5 1170.0,892.5 1170.0,900.0 1177.5,900.0 1177.5,907.5 1185.0,907.5 1185.0,900.0 1192.5,900.0 1192.5,885.0 1200.0,885.0 1200.0,877.5 1207.5,877.5 1207.5,885.0 1222.5,885.0 1222.5,907.5 1230.0,907.5 1230.0,915.0 1222.5,915.0 1222.5,945.0 1215.0,945.0 1215.0,952.5 1170.0,952.5 1170.0,960.0 1155.0,960.0 1155.0,952.5 1147.5,952.5 1147.5,930.0 1140.0,930.0" fill="#f8b840"/>
<polygon points="1222.5,930.0 1312.5,930.0 1312.5,937.5 1305.0,937.5 1305.0,952.5 1297.5,952.5 1297.5,960.0 1290.0,960.0 1290.0,967.5 1282.5,967.5 1282.5,1012.5 1275.0,1012.5 1275.0,1020.0 1237.5,1020.0 1237.5,997.5 1230.0,997.5 1230.0,982.5 1215.0,982.5 1215.0,975.0 1207.5,975.0 1207.5,967.5 1215.0,967.5 1215.0,952.5 1222.5,952.5" fill="#f860b0"/>
<polygon points="1170.0,952.5 1215.0,952.5 1215.0,967.5 1207.5,967.5 1207.5,982.5 1170.0,982.5 1170.0,967.5 1162.5,967.5 1162.5,960.0 1170.0,960.0" fill="#685038"/>
<polygon points="1132.5,960.0 1162.5,960.0 1162.5,967.5 1170.0,967.5 1170.0,982.5 1230.0,982.5 1230.0,997.5 1207.5,997.5 1207.5,1012.5 1185.0,1012.5 1185.0,1005.0 1177.5,1005.0 1177.5,975.0 1132.5,975.0" fill="#20e8d8"/>
<polygon points="1117.5,930.0 1125.0,930.0 1125.0,945.0 1132.5,945.0 1132.5,997.5 1125.0,997.5 1125.0,1012.5 1080.0,1012.5 1080.0,997.5 1087.5,997.5 1087.5,982.5 1095.0,982.5 1095.0,975.0 1102.5,975.0 1102.5,945.0 1110.0,945.0 1110.0,937.5 1117.5,937.5" fill="#e8a060"/>
<polygon points="1095.0,1015.0 1110.0,1015.0 1110.0,1020.0 1095.0,1020.0" fill="#a0b0b8"/>
<polygon points="1095.0,1022.5 1110.0,1022.5 1110.0,1035.0 1095.0,1035.0" fill="#f88840"/>
<polygon points="1110.0,1020.0 1125.0,1020.0 1125.0,1035.0 1117.5,1035.0 1117.5,1045.0 1110.0,1045.0 1110.0,1060.0 1095.0,1060.0 1095.0,1037.5 1110.0,1037.5" fill="#90e840"/>
<polygon points="1132.5,975.0 1177.5,975.0 1177.5,1005.0 1185.0,1005.0 1185.0,1095.0 1192.5,1095.0 1192.5,1117.5 1185.0,1117.5 1185.0,1140.0 1177.5,1140.0 1177.5,1125.0 1162.5,1125.0 1162.5,1110.0 1140.0,1110.0 1140.0,1102.5 1125.0,1102.5 1125.0,1095.0 1102.5,1095.0 1102.5,1087.5 1110.0,1087.5 1110.0,1042.5 1117.5,1042.5 1117.5,1035.0 1125.0,1035.0 1125.0,1005.0 1132.5,1005.0" fill="#28c890"/>
<polygon points="1185.0,1012.5 1207.5,1012.5 1207.5,997.5 1237.5,997.5 1237.5,1020.0 1275.0,1020.0 1275.0,1042.5 1267.5,1042.5 1267.5,1065.0 1260.0,1065.0 1260.0,1072.5 1252.5,1072.5 1252.5,1095.0 1245.0,1095.0 1245.0,1087.5 1230.0,1087.5 1230.0,1095.0 1215.0,1095.0 1215.0,1080.0 1207.5,1080.0 1207.5,1072.5 1192.5,1072.5 1192.5,1065.0 1185.0,1065.0" fill="#f08098"/>
<polygon points="1185.0,1065.0 1192.5,1065.0 1192.5,1072.5 1207.5,1072.5 1207.5,1080.0 1215.0,1080.0 1215.0,1110.0 1222.5,1110.0 1222.5,1132.5 1230.0,1132.5 1230.0,1155.0 1222.5,1155.0 1222.5,1170.0 1215.0,1170.0 1215.0,1162.5 1207.5,1162.5 1207.5,1117.5 1192.5,1117.5 1192.5,1095.0 1185.0,1095.0" fill="#f8a858"/>
<polygon points="1230.0,1087.5 1245.0,1087.5 1245.0,1095.0 1252.5,1095.0 1252.5,1140.0 1245.0,1140.0 1245.0,1155.0 1237.5,1155.0 1237.5,1162.5 1230.0,1162.5 1230.0,1200.0 1222.5,1200.0 1222.5,1207.5 1215.0,1207.5 1215.0,1215.0 1207.5,1215.0 1207.5,1177.5 1177.5,1177.5 1177.5,1162.5 1185.0,1162.5 1185.0,1155.0 1207.5,1155.0 1207.5,1162.5 1215.0,1162.5 1215.0,1170.0 1222.5,1170.0 1222.5,1155.0 1230.0,1155.0 1230.0,1132.5 1222.5,1132.5 1222.5,1110.0 1215.0,1110.0 1215.0,1095.0 1230.0,1095.0" fill="#20e8c0"/>
<polygon points="1102.5,1095.0 1125.0,1095.0 1125.0,1102.5 1140.0,1102.5 1140.0,1110.0 1162.5,1110.0 1162.5,1125.0 1155.0,1125.0 1155.0,1140.0 1147.5,1140.0 1147.5,1155.0 1155.0,1155.0 1155.0,1162.5 1140.0,1162.5 1140.0,1170.0 1095.0,1170.0 1095.0,1155.0 1102.5,1155.0 1102.5,1132.5 1107.5,1132.5 1107.5,1125.0 1102.5,1125.0" fill="#4090f8"/>
<polygon points="1155.0,1125.0 1177.5,1125.0 1177.5,1140.0 1185.0,1140.0 1185.0,1117.5 1207.5,1117.5 1207.5,1155.0 1185.0,1155.0 1185.0,1162.5 1155.0,1162.5 1155.0,1155.0 1147.5,1155.0 1147.5,1140.0 1155.0,1140.0" fill="#e848d0"/>
<polygon points="1147.5,1155.0 1155.0,1155.0 1155.0,1162.5 1177.5,1162.5 1177.5,1177.5 1185.0,1177.5 1185.0,1192.5 1162.5,1192.5 1162.5,1200.0 1132.5,1200.0 1132.5,1185.0 1125.0,1185.0 1125.0,1177.5 1110.0,1177.5 1110.0,1170.0 1140.0,1170.0 1140.0,1162.5 1147.5,1162.5" fill="#607068"/>
<polygon points="1095.0,1170.0 1110.0,1170.0 1110.0,1200.0 1102.5,1200.0 1102.5,1177.5 1095.0,1177.5" fill="#f89828"/>
<polygon points="1110.0,1177.5 1125.0,1177.5 1125.0,1185.0 1132.5,1185.0 1132.5,1192.5 1110.0,1192.5" fill="#d850a0"/>
<polygon points="1102.5,1200.0 1110.0,1200.0 1110.0,1192.5 1132.5,1192.5 1132.5,1200.0 1162.5,1200.0 1162.5,1192.5 1185.0,1192.5 1185.0,1177.5 1207.5,1177.5 1207.5,1215.0 1215.0,1215.0 1215.0,1230.0 1207.5,1230.0 1207.5,1237.5 1200.0,1237.5 1200.0,1245.0 1192.5,1245.0 1192.5,1252.5 1185.0,1252.5 1185.0,1260.0 1147.5,1260.0 1147.5,1267.5 1125.0,1267.5 1125.0,1260.0 1117.5,1260.0 1117.5,1252.5 1110.0,1252.5 1110.0,1245.0 1102.5,1245.0" fill="#c87868"/>
<polygon points="1192.5,1200.0 1200.0,1200.0 1200.0,1207.5 1207.5,1207.5 1207.5,1215.0 1192.5,1215.0" fill="#f8a098"/>
<polygon points="1170.0,1230.0 1185.0,1230.0 1185.0,1245.0 1162.5,1245.0 1162.5,1237.5 1170.0,1237.5" fill="#20f0a0"/>
<polygon points="1297.5,1102.5 1305.0,1102.5 1305.0,1155.0 1297.5,1155.0 1297.5,1177.5 1290.0,1177.5 1290.0,1192.5 1282.5,1192.5 1282.5,1200.0 1260.0,1200.0 1260.0,1192.5 1252.5,1192.5 1252.5,1177.5 1260.0,1177.5 1260.0,1162.5 1267.5,1162.5 1267.5,1132.5 1275.0,1132.5 1275.0,1125.0 1282.5,1125.0 1282.5,1117.5 1290.0,1117.5 1290.0,1110.0 1297.5,1110.0" fill="#50e850"/>
<polygon points="1342.5,1132.5 1357.5,1132.5 1357.5,1140.0 1350.0,1140.0 1350.0,1147.5 1342.5,1147.5" fill="#f8c050"/>
<polygon points="1312.5,1155.0 1327.5,1155.0 1327.5,1162.5 1312.5,1162.5" fill="#e848d0"/>
<polygon points="1267.5,1080.0 1275.0,1080.0 1275.0,1095.0 1267.5,1095.0" fill="#20e0b0"/>
<polygon points="1282.5,1087.5 1290.0,1087.5 1290.0,1095.0 1282.5,1095.0" fill="#b0b8b8"/>
<polygon points="1335.0,862.5 1365.0,862.5 1365.0,870.0 1372.5,870.0 1372.5,877.5 1380.0,877.5 1380.0,885.0 1387.5,885.0 1387.5,892.5 1380.0,892.5 1380.0,900.0 1350.0,900.0 1350.0,907.5 1342.5,907.5 1342.5,915.0 1335.0,915.0 1335.0,922.5 1320.0,922.5 1320.0,907.5 1327.5,907.5 1327.5,900.0 1335.0,900.0 1335.0,892.5 1350.0,892.5 1350.0,885.0 1342.5,885.0 1342.5,870.0 1335.0,870.0" fill="#20e8c0"/>
<polygon points="1750.0,585.0 1785.0,585.0 1785.0,592.5 1795.0,592.5 1795.0,600.0 1807.5,600.0 1807.5,622.5 1817.5,622.5 1817.5,660.0 1935.0,742.5 1945.0,742.5 1945.0,735.0 1975.0,735.0 1975.0,742.5 2035.0,742.5 2035.0,750.0 2050.0,750.0 2050.0,742.5 2065.0,742.5 2065.0,757.5 2080.0,757.5 2080.0,772.5 2095.0,772.5 2095.0,780.0 2110.0,780.0 2110.0,795.0 2125.0,795.0 2125.0,810.0 2132.5,810.0 2132.5,832.5 2140.0,832.5 2140.0,840.0 2125.0,840.0 2125.0,870.0 2110.0,870.0 2110.0,877.5 2095.0,877.5 2095.0,885.0 2072.5,885.0 2072.5,847.5 2065.0,847.5 2065.0,855.0 2035.0,855.0 2035.0,825.0 2042.5,825.0 2042.5,817.5 2057.5,817.5 2057.5,810.0 2065.0,810.0 2065.0,795.0 2012.5,795.0 2012.5,787.5 2005.0,787.5 2005.0,772.5 1960.0,772.5 1960.0,765.0 1930.0,765.0 1930.0,802.5 1945.0,802.5 1945.0,810.0 1937.5,810.0 1937.5,825.0 1930.0,825.0 1930.0,847.5 1937.5,847.5 1937.5,870.0 1952.5,870.0 1952.5,930.0 1945.0,930.0 1945.0,945.0 1937.5,945.0 1937.5,952.5 1930.0,952.5 1930.0,960.0 1922.5,960.0 1922.5,975.0 1907.5,975.0 1907.5,982.5 1900.0,982.5 1900.0,997.5 1892.5,997.5 1892.5,1005.0 1657.5,1005.0 1657.5,952.5 1665.0,952.5 1665.0,916.0 1657.5,916.0 1657.5,937.5 1650.0,937.5 1650.0,945.0 1642.5,945.0 1642.5,952.5 1627.5,952.5 1627.5,945.0 1620.0,945.0 1620.0,937.5 1605.0,937.5 1605.0,930.0 1597.5,930.0 1597.5,922.5 1590.0,922.5 1590.0,907.5 1612.5,907.5 1612.5,892.5 1597.5,892.5 1597.5,885.0 1590.0,885.0 1590.0,840.0 1590.0,800.0 1635.0,700.0 1667.5,650.0 1667.5,622.5 1682.5,622.5 1682.5,615.0 1690.0,615.0 1690.0,607.5 1727.5,607.5 1727.5,600.0 1735.0,600.0 1735.0,592.5 1750.0,592.5" fill="#e0b040"/>
<polygon points="1657.5,998.0 1657.5,1043.8 1666.2,1043.8 1666.2,1080.0 1673.8,1080.0 1673.8,1103.8 1681.2,1103.8 1681.2,1141.2 1688.8,1141.2 1688.8,1171.2 1696.2,1171.2 1696.2,1193.8 1703.8,1193.8 1703.8,1223.8 1711.2,1223.8 1711.2,1253.8 1726.2,1253.8 1726.2,1261.2 1733.8,1261.2 1733.8,1276.2 1763.8,1276.2 1763.8,1268.8 1771.2,1268.8 1771.2,1238.8 1778.8,1238.8 1778.8,1231.2 1786.2,1231.2 1786.2,1223.8 1793.8,1223.8 1793.8,1216.2 1808.8,1216.2 1808.8,1178.8 1816.2,1178.8 1816.2,1171.2 1823.8,1171.2 1823.8,1141.2 1831.2,1141.2 1831.2,1118.8 1838.8,1118.8 1838.8,1066.2 1846.2,1066.2 1846.2,1058.8 1853.8,1058.8 1853.8,1051.2 1861.2,1051.2 1861.2,1043.8 1868.8,1043.8 1868.8,1036.2 1883.8,1036.2 1883.8,1021.2 1891.2,1021.2 1891.2,998.0" fill="#e0b040"/>
<polygon points="1778.8,1253.8 1801.2,1253.8 1801.2,1268.8 1808.8,1268.8 1808.8,1313.8 1801.2,1313.8 1801.2,1321.2 1786.2,1321.2 1786.2,1328.8 1778.8,1328.8 1778.8,1321.2 1771.2,1321.2 1771.2,1313.8 1763.8,1313.8 1763.8,1291.2 1771.2,1291.2 1771.2,1276.2 1778.8,1276.2 1778.8,1268.8 1786.2,1268.8 1786.2,1261.2 1778.8,1261.2" fill="#d860a0"/>
<polygon points="1643.8,1246.2 1650.5,1246.2 1650.5,1253.8 1643.8,1253.8" fill="#f080c0"/>
<polygon points="1612.8,592.5 1657.8,592.5 1657.8,600.0 1665.2,600.0 1665.2,607.5 1680.2,607.5 1680.2,615.0 1672.8,615.0 1672.8,622.5 1665.2,622.5 1665.2,630.0 1657.8,630.0 1657.8,652.5 1665.2,652.5 1665.2,667.5 1672.8,667.5 1672.8,682.5 1680.2,682.5 1680.2,690.0 1687.8,690.0 1687.8,697.5 1695.2,697.5 1695.2,720.0 1687.8,720.0 1687.8,727.5 1680.2,727.5 1680.2,742.5 1672.8,742.5 1672.8,757.5 1665.2,757.5 1665.2,765.0 1657.8,765.0 1657.8,780.0 1635.2,780.0 1635.2,772.5 1627.8,772.5 1627.8,780.0 1612.8,780.0 1612.8,787.5 1605.2,787.5 1605.2,810.0 1620.2,810.0 1620.2,832.5 1627.8,832.5 1627.8,840.0 1635.2,840.0 1635.2,847.5 1620.2,847.5 1620.2,840.0 1612.8,840.0 1612.8,847.5 1605.2,847.5 1605.2,840.0 1582.8,840.0 1582.8,825.0 1567.8,825.0 1567.8,802.5 1560.2,802.5 1560.2,795.0 1545.2,795.0 1545.2,787.5 1537.8,787.5 1537.8,780.0 1530.2,780.0 1530.2,750.0 1522.8,750.0 1522.8,735.0 1530.2,735.0 1530.2,720.0 1552.8,720.0 1552.8,712.5 1560.2,712.5 1560.2,697.5 1567.8,697.5 1567.8,682.5 1582.8,682.5 1582.8,675.0 1590.2,675.0 1590.2,652.5 1605.2,652.5 1605.2,630.0 1612.8,630.0" fill="#20b070"/>
<polygon points="1975.0,450.0 1990.0,450.0 1990.0,465.0 2005.0,465.0 2005.0,480.0 2020.0,480.0 2020.0,495.0 2035.0,495.0 2035.0,510.0 2050.0,510.0 2050.0,525.0 2065.0,525.0 2065.0,540.0 2117.5,540.0 2117.5,555.0 2140.0,555.0 2140.0,547.5 2192.5,547.5 2192.5,540.0 2207.5,540.0 2207.5,532.5 2222.5,532.5 2222.5,525.0 2252.5,525.0 2252.5,517.5 2267.5,517.5 2267.5,510.0 2275.0,510.0 2275.0,502.5 2290.0,502.5 2290.0,487.5 2305.0,487.5 2305.0,472.5 2320.0,472.5 2320.0,457.5 2335.0,457.5 2335.0,450.0 2350.0,450.0 2350.0,427.5 2335.0,427.5 2335.0,420.0 2320.0,420.0 2320.0,412.5 2327.5,412.5 2327.5,405.0 2342.5,405.0 2342.5,390.0 2350.0,390.0 2350.0,382.5 2357.5,382.5 2357.5,367.5 2372.5,367.5 2372.5,360.0 2380.0,360.0 2380.0,345.0 2410.0,345.0 2410.0,352.5 2417.5,352.5 2417.5,360.0 2425.0,360.0 2425.0,375.0 2432.5,375.0 2432.5,390.0 2440.0,390.0 2440.0,397.5 2455.0,397.5 2455.0,405.0 2470.0,405.0 2470.0,412.5 2485.0,412.5 2485.0,420.0 2500.0,420.0 2500.0,427.5 2515.0,427.5 2515.0,450.0 2507.5,450.0 2507.5,480.0 2492.5,480.0 2492.5,495.0 2477.5,495.0 2477.5,510.0 2462.5,510.0 2462.5,517.5 2447.5,517.5 2447.5,532.5 2432.5,532.5 2432.5,540.0 2417.5,540.0 2417.5,547.5 2387.5,547.5 2387.5,555.0 2372.5,555.0 2372.5,562.5 2350.0,562.5 2350.0,570.0 2342.5,570.0 2342.5,592.5 2372.5,592.5 2372.5,607.5 2357.5,607.5 2357.5,622.5 2342.5,622.5 2342.5,645.0 2350.0,645.0 2350.0,660.0 2357.5,660.0 2357.5,675.0 2365.0,675.0 2365.0,735.0 2357.5,735.0 2357.5,750.0 2350.0,750.0 2350.0,765.0 2342.5,765.0 2342.5,780.0 2327.5,780.0 2327.5,795.0 2312.5,795.0 2312.5,802.5 2297.5,802.5 2297.5,825.0 2282.5,825.0 2282.5,840.0 2275.0,840.0 2275.0,855.0 2260.0,855.0 2260.0,870.0 2252.5,870.0 2252.5,862.5 2215.0,862.5 2215.0,855.0 2170.0,855.0 2170.0,877.5 2162.5,877.5 2162.5,892.5 2147.5,892.5 2147.5,915.0 2140.0,915.0 2140.0,900.0 2132.5,900.0 2132.5,892.5 2125.0,892.5 2125.0,840.0 2140.0,840.0 2140.0,832.5 2132.5,832.5 2132.5,810.0 2125.0,810.0 2125.0,795.0 2110.0,795.0 2110.0,780.0 2095.0,780.0 2095.0,772.5 2080.0,772.5 2080.0,757.5 2065.0,757.5 2065.0,742.5 2050.0,742.5 2050.0,750.0 2035.0,750.0 2035.0,742.5 1975.0,742.5 1975.0,735.0 1945.0,735.0 1945.0,742.5 1935.0,742.5 1935.0,720.0 1927.5,720.0 1927.5,712.5 1920.0,712.5 1920.0,705.0 1905.0,705.0 1905.0,697.5 1890.0,697.5 1890.0,690.0 1875.0,690.0 1875.0,682.5 1860.0,682.5 1860.0,675.0 1845.0,675.0 1845.0,667.5 1837.5,667.5 1837.5,660.0 1817.5,660.0 1817.5,622.5 1832.5,622.5 1832.5,615.0 1860.0,615.0 1860.0,600.0 1867.5,600.0 1867.5,585.0 1882.5,585.0 1882.5,555.0 1890.0,555.0 1890.0,540.0 1897.5,540.0 1897.5,532.5 1905.0,532.5 1905.0,525.0 1912.5,525.0 1912.5,517.5 1920.0,517.5 1920.0,502.5 1927.5,502.5 1927.5,495.0 1935.0,495.0 1935.0,487.5 1950.0,487.5 1950.0,480.0 1957.5,480.0 1957.5,465.0 1967.5,465.0 1967.5,457.5 1975.0,457.5" fill="#e878a0"/>
<polygon points="2117.5,540.0 2140.0,540.0 2140.0,555.0 2117.5,555.0" fill="#30f040"/>
<polygon points="1952.5,735.0 1965.0,735.0 1965.0,742.5 1952.5,742.5" fill="#80f830"/>
<polygon points="1810.0,667.5 1817.5,660.0 1837.5,660.0 1837.5,667.5 1845.0,667.5 1845.0,675.0 1860.0,675.0 1860.0,682.5 1875.0,682.5 1875.0,690.0 1890.0,690.0 1890.0,697.5 1905.0,697.5 1905.0,705.0 1920.0,705.0 1920.0,712.5 1927.5,712.5 1927.5,720.0 1935.0,720.0 1935.0,742.5 1927.5,742.5 1927.5,735.0 1912.5,735.0 1912.5,727.5 1905.0,727.5 1905.0,720.0 1890.0,720.0 1890.0,712.5 1875.0,712.5 1875.0,705.0 1852.5,705.0 1852.5,697.5 1837.5,697.5 1837.5,682.5 1822.5,682.5 1822.5,675.0 1810.0,675.0" fill="#4080f8"/>
<polygon points="1930.0,765.0 1960.0,765.0 1960.0,772.5 2005.0,772.5 2005.0,787.5 2012.5,787.5 2012.5,795.0 2065.0,795.0 2065.0,810.0 2057.5,810.0 2057.5,817.5 2042.5,817.5 2042.5,825.0 2035.0,825.0 2035.0,855.0 2065.0,855.0 2065.0,847.5 2072.5,847.5 2072.5,885.0 2080.0,885.0 2080.0,960.0 2065.0,960.0 2065.0,952.5 2057.5,952.5 2057.5,945.0 2042.5,945.0 2042.5,937.5 2027.5,937.5 2027.5,930.0 2012.5,930.0 2012.5,937.5 2005.0,937.5 2005.0,930.0 1952.5,930.0 1952.5,870.0 1937.5,870.0 1937.5,847.5 1930.0,847.5 1930.0,825.0 1937.5,825.0 1937.5,810.0 1945.0,810.0 1945.0,802.5 1930.0,802.5" fill="#28b0f8"/>
<polygon points="2072.5,885.0 2095.0,885.0 2095.0,877.5 2110.0,877.5 2110.0,870.0 2125.0,870.0 2125.0,892.5 2132.5,892.5 2132.5,900.0 2140.0,900.0 2140.0,915.0 2147.5,915.0 2147.5,922.5 2140.0,922.5 2140.0,930.0 2132.5,930.0 2132.5,937.5 2125.0,937.5 2125.0,945.0 2132.5,945.0 2132.5,1027.5 2125.0,1027.5 2125.0,997.5 2117.5,997.5 2117.5,982.5 2110.0,982.5 2110.0,975.0 2102.5,975.0 2102.5,967.5 2095.0,967.5 2095.0,960.0 2080.0,960.0 2080.0,885.0" fill="#607880"/>
<polygon points="2147.5,915.0 2162.5,915.0 2162.5,922.5 2170.0,922.5 2170.0,930.0 2185.0,930.0 2185.0,960.0 2200.0,960.0 2200.0,967.5 2215.0,967.5 2215.0,975.0 2222.5,975.0 2222.5,990.0 2215.0,990.0 2215.0,997.5 2207.5,997.5 2207.5,1005.0 2192.5,1005.0 2192.5,1012.5 2185.0,1012.5 2185.0,1027.5 2170.0,1027.5 2170.0,1020.0 2162.5,1020.0 2162.5,1005.0 2155.0,1005.0 2155.0,1027.5 2147.5,1027.5 2147.5,1057.5 2155.0,1057.5 2155.0,1072.5 2162.5,1072.5 2162.5,1080.0 2170.0,1080.0 2170.0,1095.0 2177.5,1095.0 2177.5,1102.5 2185.0,1102.5 2185.0,1112.0 2170.0,1112.0 2170.0,1102.5 2162.5,1102.5 2162.5,1087.5 2155.0,1087.5 2155.0,1080.0 2147.5,1080.0 2147.5,1065.0 2140.0,1065.0 2140.0,1027.5 2132.5,1027.5 2132.5,945.0 2125.0,945.0 2125.0,937.5 2132.5,937.5 2132.5,930.0 2140.0,930.0 2140.0,922.5 2147.5,922.5" fill="#d050d8"/>
<polygon points="2185.0,930.0 2215.0,930.0 2215.0,967.5 2200.0,967.5 2200.0,960.0 2185.0,960.0" fill="#30b878"/>
<polygon points="2170.0,855.0 2215.0,855.0 2215.0,862.5 2252.5,862.5 2252.5,870.0 2260.0,870.0 2260.0,877.5 2245.0,877.5 2245.0,885.0 2237.5,885.0 2237.5,900.0 2230.0,900.0 2230.0,915.0 2222.5,915.0 2222.5,937.5 2230.0,937.5 2230.0,952.5 2237.5,952.5 2237.5,967.5 2252.5,967.5 2252.5,982.5 2260.0,982.5 2260.0,990.0 2267.5,990.0 2267.5,1005.0 2275.0,1005.0 2275.0,1035.0 2267.5,1035.0 2267.5,1050.0 2260.0,1050.0 2260.0,1057.5 2252.5,1057.5 2252.5,1065.0 2245.0,1065.0 2245.0,1072.5 2222.5,1072.5 2222.5,1042.5 2237.5,1042.5 2237.5,990.0 2222.5,990.0 2222.5,975.0 2215.0,975.0 2215.0,930.0 2170.0,930.0 2170.0,922.5 2162.5,922.5 2162.5,915.0 2147.5,915.0 2147.5,892.5 2162.5,892.5 2162.5,877.5 2170.0,877.5" fill="#20f0f8"/>
<polygon points="2215.0,990.0 2237.5,990.0 2237.5,1042.5 2207.5,1042.5 2207.5,1035.0 2185.0,1035.0 2185.0,1012.5 2192.5,1012.5 2192.5,1005.0 2207.5,1005.0 2207.5,997.5 2215.0,997.5" fill="#f89090"/>
<polygon points="2335.0,772.5 2342.5,772.5 2342.5,780.0 2357.5,780.0 2357.5,787.5 2342.5,787.5 2342.5,795.0 2357.5,795.0 2357.5,810.0 2342.5,810.0 2342.5,802.5 2335.0,802.5 2335.0,795.0 2320.0,795.0 2320.0,787.5 2335.0,787.5" fill="#f8a830"/>
<polygon points="2297.5,802.5 2305.0,802.5 2305.0,810.0 2297.5,810.0" fill="#90e030"/>
<polygon points="2402.5,780.0 2432.5,780.0 2432.5,817.5 2425.0,817.5 2425.0,832.5 2417.5,832.5 2417.5,840.0 2410.0,840.0 2410.0,847.5 2402.5,847.5 2402.5,862.5 2395.0,862.5 2395.0,847.5 2387.5,847.5 2387.5,840.0 2380.0,840.0 2380.0,810.0 2387.5,810.0 2387.5,795.0 2395.0,795.0 2395.0,787.5 2402.5,787.5" fill="#20e8c0"/>
<polygon points="2492.5,480.0 2500.0,480.0 2500.0,547.5 2485.0,547.5 2485.0,555.0 2477.5,555.0 2477.5,562.5 2470.0,562.5 2470.0,570.0 2462.5,570.0 2462.5,562.5 2440.0,562.5 2440.0,555.0 2447.5,555.0 2447.5,547.5 2432.5,547.5 2432.5,532.5 2447.5,532.5 2447.5,525.0 2462.5,525.0 2462.5,510.0 2470.0,510.0 2470.0,502.5 2477.5,502.5 2477.5,495.0 2485.0,495.0 2485.0,487.5 2492.5,487.5" fill="#20c080"/>
<polygon points="2500.0,531.2 2507.5,531.2 2507.5,538.8 2515.0,538.8 2515.0,546.2 2522.5,546.2 2522.5,561.2 2530.0,561.2 2530.0,576.2 2537.5,576.2 2537.5,591.2 2545.0,591.2 2545.0,606.2 2537.5,606.2 2537.5,621.2 2530.0,621.2 2530.0,630.0 2522.5,630.0 2522.5,637.5 2515.0,637.5 2515.0,645.0 2470.0,645.0 2470.0,622.5 2477.5,622.5 2477.5,570.0 2470.0,570.0 2470.0,562.5 2477.5,562.5 2477.5,555.0 2485.0,555.0 2485.0,547.5 2500.0,547.5" fill="#f8a060"/>
<polygon points="2665.0,478.8 2672.5,478.8 2672.5,486.2 2680.0,486.2 2680.0,493.8 2702.5,493.8 2702.5,501.2 2725.0,501.2 2725.0,508.8 2717.5,508.8 2717.5,516.2 2732.5,516.2 2732.5,523.8 2710.0,523.8 2710.0,538.8 2702.5,538.8 2702.5,546.2 2687.5,546.2 2687.5,538.8 2672.5,538.8 2672.5,531.2 2665.0,531.2 2665.0,538.8 2657.5,538.8 2657.5,546.2 2665.0,546.2 2665.0,553.8 2650.0,553.8 2650.0,561.2 2642.5,561.2 2642.5,538.8 2650.0,538.8 2650.0,531.2 2642.5,531.2 2642.5,523.8 2665.0,523.8" fill="#f05878"/>
<polygon points="2650.0,561.2 2672.5,561.2 2672.5,591.2 2680.0,591.2 2680.0,598.8 2672.5,598.8 2672.5,621.2 2665.0,621.2 2665.0,690.0 2657.5,690.0 2657.5,682.5 2650.0,682.5 2650.0,675.0 2635.0,675.0 2635.0,697.5 2627.5,697.5 2627.5,690.0 2620.0,690.0 2620.0,697.5 2597.5,697.5 2597.5,690.0 2590.0,690.0 2590.0,720.0 2575.0,720.0 2575.0,727.5 2567.5,727.5 2567.5,705.0 2560.0,705.0 2560.0,720.0 2552.5,720.0 2552.5,727.5 2522.5,727.5 2522.5,720.0 2515.0,720.0 2515.0,712.5 2500.0,712.5 2500.0,697.5 2530.0,697.5 2530.0,690.0 2545.0,690.0 2545.0,682.5 2575.0,682.5 2575.0,675.0 2582.5,675.0 2582.5,667.5 2590.0,667.5 2590.0,645.0 2605.0,645.0 2605.0,652.5 2612.5,652.5 2612.5,645.0 2627.5,645.0 2627.5,630.0 2635.0,630.0 2635.0,615.0 2642.5,615.0 2642.5,600.0 2650.0,600.0 2650.0,591.2 2642.5,591.2 2642.5,583.8 2650.0,583.8" fill="#f05878"/>
<polygon points="2627.5,606.2 2635.0,606.2 2635.0,613.8 2627.5,613.8" fill="#f05878"/>
<polygon points="2620.0,613.8 2627.5,613.8 2627.5,621.2 2620.0,621.2" fill="#f05878"/>
<polygon points="2515.0,736.2 2552.5,736.2 2552.5,727.5 2560.0,727.5 2560.0,735.0 2552.5,735.0 2552.5,751.2 2530.0,751.2 2530.0,758.8 2522.5,758.8 2522.5,743.8 2515.0,743.8" fill="#f05878"/>
<polygon points="2477.5,712.5 2500.0,712.5 2500.0,720.0 2507.5,720.0 2507.5,727.5 2515.0,727.5 2515.0,735.0 2507.5,735.0 2507.5,751.2 2515.0,751.2 2515.0,758.8 2507.5,758.8 2507.5,773.8 2500.0,773.8 2500.0,787.5 2492.5,787.5 2492.5,751.2 2477.5,751.2 2477.5,736.2 2470.0,736.2 2470.0,720.0 2477.5,720.0" fill="#f05878"/>
<polygon points="2462.5,736.2 2470.0,736.2 2470.0,743.8 2462.5,743.8" fill="#f05878"/>
<polygon points="2140.0,992.5 2155.0,992.5 2155.0,1027.5 2147.5,1027.5 2147.5,1050.0 2155.0,1050.0 2155.0,1057.5 2162.5,1057.5 2162.5,1072.5 2170.0,1072.5 2170.0,1080.0 2177.5,1080.0 2177.5,1087.5 2185.0,1087.5 2185.0,1102.5 2192.5,1102.5 2192.5,1117.5 2177.5,1117.5 2177.5,1110.0 2170.0,1110.0 2170.0,1087.5 2162.5,1087.5 2162.5,1080.0 2155.0,1080.0 2155.0,1072.5 2147.5,1072.5 2147.5,1065.0 2140.0,1065.0" fill="#d050d8"/>
<polygon points="2192.5,1103.8 2200.0,1103.8 2200.0,1111.2 2207.5,1111.2 2207.5,1118.8 2222.5,1118.8 2222.5,1147.5 2207.5,1147.5 2207.5,1140.0 2200.0,1140.0 2200.0,1132.5 2192.5,1132.5 2192.5,1125.0 2185.0,1125.0 2185.0,1118.8 2192.5,1118.8" fill="#f8a050"/>
<polygon points="2222.5,1132.5 2230.0,1132.5 2230.0,1140.0 2237.5,1140.0 2237.5,1147.5 2245.0,1147.5 2245.0,1155.0 2237.5,1155.0 2237.5,1170.0 2230.0,1170.0 2230.0,1162.5 2215.0,1162.5 2215.0,1155.0 2207.5,1155.0 2207.5,1148.8 2222.5,1148.8" fill="#30b0f8"/>
<polygon points="2365.0,1081.2 2380.0,1081.2 2380.0,1088.8 2387.5,1088.8 2387.5,1096.2 2402.5,1096.2 2402.5,1111.2 2357.5,1111.2 2357.5,1126.2 2350.0,1126.2 2350.0,1133.8 2342.5,1133.8 2342.5,1141.2 2335.0,1141.2 2335.0,1148.8 2290.0,1148.8 2290.0,1141.2 2305.0,1141.2 2305.0,1133.8 2312.5,1133.8 2312.5,1126.2 2320.0,1126.2 2320.0,1118.8 2327.5,1118.8 2327.5,1111.2 2342.5,1111.2 2342.5,1096.2 2365.0,1096.2" fill="#f8a050"/>
<polygon points="2350.0,1088.8 2357.5,1088.8 2357.5,1096.2 2350.0,1096.2" fill="#f080c0"/>
<polygon points="2117.5,1111.2 2125.0,1111.2 2125.0,1118.8 2132.5,1118.8 2132.5,1126.2 2147.5,1126.2 2147.5,1133.8 2162.5,1133.8 2162.5,1141.2 2177.5,1141.2 2177.5,1148.8 2185.0,1148.8 2185.0,1156.2 2192.5,1156.2 2192.5,1163.8 2207.5,1163.8 2207.5,1171.2 2215.0,1171.2 2215.0,1186.2 2222.5,1186.2 2222.5,1193.8 2230.0,1193.8 2230.0,1201.2 2237.5,1201.2 2237.5,1216.2 2230.0,1216.2 2230.0,1223.8 2207.5,1223.8 2207.5,1216.2 2200.0,1216.2 2200.0,1208.8 2192.5,1208.8 2192.5,1201.2 2185.0,1201.2 2185.0,1193.8 2177.5,1193.8 2177.5,1186.2 2170.0,1186.2 2170.0,1178.8 2155.0,1178.8 2155.0,1171.2 2147.5,1171.2 2147.5,1163.8 2140.0,1163.8 2140.0,1148.8 2132.5,1148.8 2132.5,1141.2 2125.0,1141.2 2125.0,1126.2 2117.5,1126.2" fill="#18f070"/>
<polygon points="2102.5,1148.8 2110.0,1148.8 2110.0,1156.2 2102.5,1156.2" fill="#18f070"/>
<polygon points="2110.0,1156.2 2117.5,1156.2 2117.5,1163.8 2110.0,1163.8" fill="#18f070"/>
<polygon points="2125.0,1171.2 2132.5,1171.2 2132.5,1178.8 2125.0,1178.8" fill="#18f070"/>
<polygon points="2132.5,1178.8 2140.0,1178.8 2140.0,1186.2 2132.5,1186.2" fill="#18f070"/>
<polygon points="2147.5,1193.8 2155.0,1193.8 2155.0,1201.2 2147.5,1201.2" fill="#18f070"/>
<polygon points="2230.0,1178.8 2237.5,1178.8 2237.5,1193.8 2230.0,1193.8" fill="#18f070"/>
<polygon points="2260.0,1186.2 2267.5,1186.2 2267.5,1193.8 2260.0,1193.8" fill="#18f070"/>
<polygon points="2357.5,1111.2 2402.5,1111.2 2402.5,1133.8 2410.0,1133.8 2410.0,1141.2 2380.0,1141.2 2380.0,1148.8 2372.5,1148.8 2372.5,1156.2 2365.0,1156.2 2365.0,1163.8 2350.0,1163.8 2350.0,1171.2 2342.5,1171.2 2342.5,1178.8 2335.0,1178.8 2335.0,1186.2 2327.5,1186.2 2327.5,1178.8 2305.0,1178.8 2305.0,1171.2 2297.5,1171.2 2297.5,1163.8 2290.0,1163.8 2290.0,1156.2 2282.5,1156.2 2282.5,1141.2 2290.0,1141.2 2290.0,1148.8 2335.0,1148.8 2335.0,1141.2 2342.5,1141.2 2342.5,1133.8 2350.0,1133.8 2350.0,1126.2 2357.5,1126.2" fill="#18f070"/>
<polygon points="2245.0,1223.8 2267.5,1223.8 2267.5,1231.2 2305.0,1231.2 2305.0,1223.8 2320.0,1223.8 2320.0,1231.2 2327.5,1231.2 2327.5,1238.8 2365.0,1238.8 2365.0,1223.8 2432.5,1223.8 2432.5,1231.2 2440.0,1231.2 2440.0,1238.8 2417.5,1238.8 2417.5,1246.2 2440.0,1246.2 2440.0,1253.8 2462.5,1253.8 2462.5,1261.2 2470.0,1261.2 2470.0,1283.8 2477.5,1283.8 2477.5,1291.2 2485.0,1291.2 2485.0,1298.8 2447.5,1298.8 2447.5,1306.2 2440.0,1306.2 2440.0,1313.8 2417.5,1313.8 2417.5,1306.2 2372.5,1306.2 2372.5,1298.8 2335.0,1298.8 2335.0,1313.8 2320.0,1313.8 2320.0,1306.2 2275.0,1306.2 2275.0,1291.2 2260.0,1291.2 2260.0,1283.8 2245.0,1283.8 2245.0,1276.2 2230.0,1276.2 2230.0,1261.2 2222.5,1261.2 2222.5,1238.8 2230.0,1238.8 2230.0,1231.2 2245.0,1231.2" fill="#18f070"/>
<polygon points="2440.0,1111.2 2455.0,1111.2 2455.0,1118.8 2462.5,1118.8 2462.5,1111.2 2477.5,1111.2 2477.5,1103.8 2492.5,1103.8 2492.5,1111.2 2485.0,1111.2 2485.0,1118.8 2470.0,1118.8 2470.0,1126.2 2440.0,1126.2 2440.0,1141.2 2462.5,1141.2 2462.5,1148.8 2447.5,1148.8 2447.5,1156.2 2455.0,1156.2 2455.0,1163.8 2462.5,1163.8 2462.5,1171.2 2470.0,1171.2 2470.0,1178.8 2477.5,1178.8 2477.5,1193.8 2470.0,1193.8 2470.0,1186.2 2462.5,1186.2 2462.5,1178.8 2455.0,1178.8 2455.0,1171.2 2447.5,1171.2 2447.5,1163.8 2440.0,1163.8 2440.0,1186.2 2425.0,1186.2 2425.0,1148.8 2432.5,1148.8 2432.5,1118.8 2440.0,1118.8" fill="#18f070"/>
<polygon points="2515.0,1111.2 2522.5,1111.2 2522.5,1118.8 2515.0,1118.8" fill="#18f070"/>
<polygon points="2507.5,1118.8 2515.0,1118.8 2515.0,1133.8 2507.5,1133.8" fill="#18f070"/>
<polygon points="2522.5,1126.2 2530.0,1126.2 2530.0,1141.2 2522.5,1141.2" fill="#18f070"/>
<polygon points="2477.5,1133.8 2485.0,1133.8 2485.0,1141.2 2477.5,1141.2" fill="#18f070"/>
<polygon points="2500.0,1133.8 2507.5,1133.8 2507.5,1148.8 2500.0,1148.8" fill="#18f070"/>
<polygon points="2477.5,1148.8 2492.5,1148.8 2492.5,1156.2 2477.5,1156.2" fill="#18f070"/>
<polygon points="2500.0,1156.2 2515.0,1156.2 2515.0,1163.8 2500.0,1163.8" fill="#18f070"/>
<polygon points="2492.5,1163.8 2500.0,1163.8 2500.0,1171.2 2492.5,1171.2" fill="#18f070"/>
<polygon points="2500.0,1171.2 2515.0,1171.2 2515.0,1178.8 2500.0,1178.8" fill="#18f070"/>
<polygon points="2507.5,1193.8 2522.5,1193.8 2522.5,1201.2 2507.5,1201.2" fill="#18f070"/>
<polygon points="2500.0,1201.2 2515.0,1201.2 2515.0,1208.8 2500.0,1208.8" fill="#18f070"/>
<polygon points="2470.0,1208.8 2477.5,1208.8 2477.5,1216.2 2470.0,1216.2" fill="#18f070"/>
<polygon points="2522.5,1163.8 2537.5,1163.8 2537.5,1156.2 2545.0,1156.2 2545.0,1148.8 2552.5,1148.8 2552.5,1193.8 2545.0,1193.8 2545.0,1178.8 2537.5,1178.8 2537.5,1171.2 2522.5,1171.2" fill="#18f070"/>
<polygon points="2477.5,1253.8 2500.0,1253.8 2500.0,1238.8 2522.5,1238.8 2522.5,1261.2 2515.0,1261.2 2515.0,1246.2 2507.5,1246.2 2507.5,1253.8 2500.0,1253.8 2500.0,1268.8 2477.5,1268.8" fill="#18f070"/>
<polygon points="2522.5,1239.5 2545.0,1239.5 2545.0,1246.2 2522.5,1246.2" fill="#e060c0"/>
<polygon points="2552.5,1148.8 2560.0,1148.8 2560.0,1156.2 2567.5,1156.2 2567.5,1163.8 2575.0,1163.8 2575.0,1171.2 2582.5,1171.2 2582.5,1178.8 2590.0,1178.8 2590.0,1186.2 2567.5,1186.2 2567.5,1193.8 2552.5,1193.8" fill="#f8d820"/>
<polygon points="2417.5,855.0 2440.0,855.0 2440.0,847.5 2447.5,847.5 2447.5,855.0 2455.0,855.0 2455.0,885.0 2447.5,885.0 2447.5,892.5 2440.0,892.5 2440.0,915.0 2455.0,915.0 2455.0,922.5 2447.5,922.5 2447.5,930.0 2462.5,930.0 2462.5,937.5 2477.5,937.5 2477.5,922.5 2485.0,922.5 2485.0,937.5 2492.5,937.5 2492.5,945.0 2477.5,945.0 2477.5,952.5 2485.0,952.5 2485.0,967.5 2492.5,967.5 2492.5,960.0 2507.5,960.0 2507.5,990.0 2500.0,990.0 2500.0,1005.0 2492.5,1005.0 2492.5,997.5 2485.0,997.5 2485.0,1005.0 2477.5,1005.0 2477.5,990.0 2485.0,990.0 2485.0,975.0 2462.5,975.0 2462.5,960.0 2470.0,960.0 2470.0,952.5 2462.5,952.5 2462.5,945.0 2455.0,945.0 2455.0,952.5 2440.0,952.5 2440.0,967.5 2425.0,967.5 2425.0,960.0 2417.5,960.0 2417.5,945.0 2425.0,945.0 2425.0,922.5 2410.0,922.5 2410.0,907.5 2402.5,907.5 2402.5,892.5 2410.0,892.5 2410.0,862.5 2417.5,862.5" fill="#c060f8"/>
<polygon points="2440.0,855.0 2447.5,855.0 2447.5,862.5 2440.0,862.5" fill="#3a6b91"/>
<polygon points="2395.0,885.0 2402.5,885.0 2402.5,892.5 2395.0,892.5" fill="#c060f8"/>
<polygon points="2395.0,922.5 2402.5,922.5 2402.5,930.0 2395.0,930.0" fill="#c060f8"/>
<polygon points="2402.5,930.0 2410.0,930.0 2410.0,937.5 2402.5,937.5" fill="#c060f8"/>
<polygon points="2410.0,937.5 2417.5,937.5 2417.5,945.0 2410.0,945.0" fill="#c060f8"/>
<polygon points="2417.5,922.5 2425.0,922.5 2425.0,930.0 2417.5,930.0" fill="#c060f8"/>
<polygon points="2447.5,960.0 2455.0,960.0 2455.0,975.0 2447.5,975.0" fill="#c060f8"/>
<polygon points="2432.5,975.0 2440.0,975.0 2440.0,990.0 2432.5,990.0" fill="#c060f8"/>
<polygon points="2447.5,975.0 2455.0,975.0 2455.0,997.5 2447.5,997.5" fill="#c060f8"/>
<polygon points="2455.0,982.5 2462.5,982.5 2462.5,990.0 2455.0,990.0" fill="#c060f8"/>
<polygon points="2462.5,990.0 2470.0,990.0 2470.0,1005.0 2462.5,1005.0" fill="#c060f8"/>
<polygon points="2455.0,997.5 2462.5,997.5 2462.5,1020.0 2455.0,1020.0" fill="#c060f8"/>
<polygon points="2440.0,1005.0 2447.5,1005.0 2447.5,1012.5 2440.0,1012.5" fill="#c060f8"/>
<polygon points="2425.0,1005.0 2440.0,1005.0 2440.0,1012.5 2425.0,1012.5" fill="#c060f8"/>
<polygon points="2432.5,1012.5 2440.0,1012.5 2440.0,1020.0 2432.5,1020.0" fill="#c060f8"/>
<polygon points="2447.5,1012.5 2462.5,1012.5 2462.5,1027.5 2447.5,1027.5" fill="#c060f8"/>
<polygon points="2440.0,1020.0 2447.5,1020.0 2447.5,1027.5 2440.0,1027.5" fill="#c060f8"/>
<polygon points="2470.0,1005.0 2477.5,1005.0 2477.5,1012.5 2470.0,1012.5" fill="#c060f8"/>
<polygon points="2470.0,1012.5 2485.0,1012.5 2485.0,1020.0 2470.0,1020.0" fill="#c060f8"/>
<polygon points="2432.5,1027.5 2440.0,1027.5 2440.0,1035.0 2432.5,1035.0" fill="#c060f8"/>
<polygon points="2477.5,1027.5 2485.0,1027.5 2485.0,1035.0 2477.5,1035.0" fill="#c060f8"/>
<polygon points="2417.5,990.0 2425.0,990.0 2425.0,997.5 2417.5,997.5" fill="#c060f8"/>
<polygon points="2425.0,982.5 2432.5,982.5 2432.5,990.0 2425.0,990.0" fill="#c060f8"/>
<polygon points="2410.0,967.5 2417.5,967.5 2417.5,982.5 2410.0,982.5" fill="#c060f8"/>
<polygon points="2402.5,982.5 2410.0,982.5 2410.0,990.0 2402.5,990.0" fill="#c060f8"/>
<polygon points="2395.0,990.0 2402.5,990.0 2402.5,1005.0 2395.0,1005.0" fill="#c060f8"/>
<polygon points="2387.5,1005.0 2395.0,1005.0 2395.0,1012.5 2387.5,1012.5" fill="#c060f8"/>
<polygon points="2380.0,1012.5 2387.5,1012.5 2387.5,1020.0 2380.0,1020.0" fill="#c060f8"/>
<polygon points="2372.5,1020.0 2380.0,1020.0 2380.0,1027.5 2372.5,1027.5" fill="#c060f8"/>
<polygon points="2365.0,1027.5 2372.5,1027.5 2372.5,1035.0 2365.0,1035.0" fill="#c060f8"/>
<polygon points="2357.5,1035.0 2365.0,1035.0 2365.0,1042.5 2357.5,1042.5" fill="#c060f8"/>
<polygon points="2350.0,1042.5 2357.5,1042.5 2357.5,1050.0 2350.0,1050.0" fill="#c060f8"/>
<polygon points="2507.5,1005.0 2522.5,1005.0 2522.5,1042.5 2530.0,1042.5 2530.0,1072.5 2522.5,1072.5 2522.5,1087.5 2515.0,1087.5 2515.0,1065.0 2507.5,1065.0 2507.5,1072.5 2500.0,1072.5 2500.0,1087.5 2485.0,1087.5 2485.0,1080.0 2477.5,1080.0 2477.5,1065.0 2485.0,1065.0 2485.0,1057.5 2477.5,1057.5 2477.5,1050.0 2485.0,1050.0 2485.0,1042.5 2492.5,1042.5 2492.5,1027.5 2507.5,1027.5" fill="#c060f8"/>
<polygon points="2462.5,1035.0 2477.5,1035.0 2477.5,1050.0 2470.0,1050.0 2470.0,1057.5 2455.0,1057.5 2455.0,1065.0 2447.5,1065.0 2447.5,1072.5 2440.0,1072.5 2440.0,1080.0 2432.5,1080.0 2432.5,1087.5 2425.0,1087.5 2425.0,1095.0 2417.5,1095.0 2417.5,1102.5 2425.0,1102.5 2425.0,1095.0 2432.5,1095.0 2432.5,1087.5 2440.0,1087.5 2440.0,1080.0 2447.5,1080.0 2447.5,1065.0 2455.0,1065.0 2455.0,1050.0 2462.5,1050.0" fill="#c060f8"/>
<polygon points="2590.3,1268.8 2612.4,1268.8 2612.4,1275.9 2620.4,1275.9 2620.4,1268.8 2628.4,1268.8 2628.4,1283.9 2635.5,1283.9 2635.5,1290.9 2643.5,1290.9 2643.5,1313.0 2635.5,1313.0 2635.5,1328.0 2628.4,1328.0 2628.4,1321.0 2620.4,1321.0 2620.4,1313.0 2605.4,1313.0 2605.4,1306.0 2597.3,1306.0 2597.3,1313.0 2575.3,1313.0 2575.3,1306.0 2568.2,1306.0 2568.2,1290.9 2575.3,1290.9 2575.3,1283.9 2582.3,1283.9 2582.3,1275.9 2590.3,1275.9" fill="#f8d060"/>
<polygon points="2628.4,1336.1 2635.5,1336.1 2635.5,1343.1 2628.4,1343.1" fill="#f8d060"/>
<polygon points="2665.6,1283.9 2672.6,1283.9 2672.6,1290.9 2680.6,1290.9 2680.6,1298.9 2672.6,1298.9 2672.6,1306.0 2665.6,1306.0 2665.6,1321.0 2658.6,1321.0 2658.6,1328.0 2643.5,1328.0 2643.5,1321.0 2650.5,1321.0 2650.5,1314.0 2658.6,1314.0 2658.6,1306.0 2665.6,1306.0" fill="#f888c0"/>
<polygon points="2665.6,1253.8 2672.6,1253.8 2672.6,1268.8 2665.6,1268.8" fill="#e84080"/>
<polygon points="2620.4,1208.6 2627.8,1208.6 2627.8,1215.6 2620.4,1215.6" fill="#28d8f0"/>
<path d="M765,322 V1352" stroke="#a8bac9" stroke-width="1.2" fill="none" stroke-dasharray="8 5" stroke-opacity="0.85"/>
<path d="M83,962 H480 L543,897 H765" stroke="#a8bac9" stroke-width="1.2" fill="none" stroke-dasharray="8 5" stroke-opacity="0.85"/>
<path d="M765,735 H960 L980,712 H1240" stroke="#a8bac9" stroke-width="1.2" fill="none" stroke-dasharray="8 5" stroke-opacity="0.85"/>
<path d="M1365,325 V592 L1242,665 V712 L1417,912 V1352" stroke="#a8bac9" stroke-width="1.2" fill="none" stroke-dasharray="8 5" stroke-opacity="0.85"/>
<path d="M2552,1345 V1050 H2812" stroke="#a8bac9" stroke-width="1.2" fill="none" stroke-dasharray="8 5" stroke-opacity="0.85"/>
<polyline points="117.0,644.5 140.0,644.5 140.0,652.0 147.5,652.0 147.5,659.5 155.0,659.5 155.0,674.5 162.5,674.5 162.5,682.0 170.0,682.0 170.0,697.0 177.5,697.0 177.5,720.0 185.0,720.0 185.0,743.8 155.0,743.8 155.0,735.0 147.5,735.0 147.5,727.5 132.5,727.5 132.5,712.5 125.0,712.5 125.0,705.0 117.5,705.0 117.5,697.5 108.8,697.5 108.8,658.8 117.0,658.8 117.0,644.5" stroke="#2a4a5e" stroke-width="1.2" fill="none"/>
<polyline points="2290.0,555.0 2297.5,555.0 2297.5,547.5 2305.0,547.5 2305.0,540.0 2312.5,540.0 2312.5,532.5 2320.0,532.5 2320.0,525.0 2357.5,525.0 2357.5,532.5 2372.5,532.5 2372.5,540.0 2380.0,540.0 2380.0,555.0 2372.5,555.0 2372.5,562.5 2350.0,562.5 2350.0,570.0 2335.0,570.0 2335.0,577.5 2327.5,577.5 2327.5,585.0 2312.5,585.0 2312.5,577.5 2305.0,577.5 2305.0,570.0 2297.5,570.0 2297.5,562.5 2290.0,562.5 2290.0,555.0" stroke="#5a3a4a" stroke-width="1" fill="none" stroke-opacity="0.8"/>
<polygon points="613.8,773.1 621.2,773.1 621.2,780.0" fill="#e8c040"/>
<polygon points="629.4,780.0 636.2,780.0 636.2,786.9" fill="#30d8a0"/>
<polygon points="636.2,810.6 643.8,810.6 643.8,817.5" fill="#f07860"/>
<polygon points="636.2,840.0 643.8,840.0 643.8,847.5" fill="#30d8a0"/>
<polygon points="629.4,855.6 636.2,855.6 636.2,862.5" fill="#88d848"/>
<polygon points="643.8,855.6 651.2,855.6 651.2,862.5" fill="#f0607e"/>
<polygon points="636.2,870.6 643.8,870.6 643.8,877.5" fill="#f59050"/>
<polygon points="540.0,885.6 545.6,885.6 545.6,892.5" fill="#e040e0"/>
<polygon points="553.8,885.6 560.6,885.6 560.6,892.5" fill="#30e0a0"/>
<rect x="636.2" y="795.6" width="7.5" height="7.5" fill="#28d8f0"/>
<rect x="636.2" y="825.6" width="7.5" height="7.5" fill="#f080b0"/>
<polygon points="826.2,322.0 833.2,322.0 833.2,328.8" fill="#28c8f0"/>
<polygon points="930.5,329.5 937.0,329.5 937.0,336.2" fill="#f080b0"/>
<polygon points="982.0,600.0 988.8,600.0 988.8,607.0" fill="#f58c60"/>
<polygon points="952.5,516.2 959.5,516.2 959.5,523.2" fill="#28d0c0"/>
<polygon points="2576.3,1104.7 2582.7,1104.7 2582.7,1111.3" fill="#28d8f0"/>
<polygon points="2561.2,1119.3 2567.8,1119.3 2567.8,1125.9" fill="#20d8a8"/>
<polygon points="2613.4,1148.8 2619.8,1148.8 2619.8,1155.4" fill="#e8508c"/>
<polygon points="2627.8,1148.8 2634.5,1148.8 2634.5,1155.4" fill="#f59060"/>
<polygon points="2719.4,1194.2 2725.8,1194.2 2725.8,1200.6" fill="#f0506e"/>
<polygon points="2628.4,1224.3 2635.1,1224.3 2635.1,1230.7" fill="#f59040"/>
<polygon points="2666.0,1224.3 2672.6,1224.3 2672.6,1230.7" fill="#e040e0"/>
<polygon points="2673.6,1238.7 2680.2,1238.7 2680.2,1245.1" fill="#20d8a8"/>
<polygon points="2741.8,1254.4 2748.5,1254.4 2748.5,1260.8" fill="#20e0f0"/>
<polygon points="2734.8,1276.9 2741.4,1276.9 2741.4,1283.3" fill="#80e040"/>
<polygon points="2789.0,1291.3 2795.4,1291.3 2795.4,1297.9" fill="#f0506e"/>
<polygon points="2719.8,1306.6 2726.2,1306.6 2726.2,1313.0" fill="#e040e0"/>
<polygon points="2628.8,1261.2 2635.5,1261.2 2635.5,1267.8" fill="#f088b8"/>
<polygon points="1312.5,1043.0 1319.5,1043.0 1319.5,1050.0" fill="#f088a8"/>
<polygon points="1065.0,1050.8 1072.0,1050.8 1072.0,1057.5" fill="#20d0b0"/>
<text x="192.5" y="605.0" font-family='"Liberation Sans", sans-serif' font-size="22.92" fill="#f8a0c0" textLength="131.2" lengthAdjust="spacingAndGlyphs" fill-opacity="0.9">Canada 37m</text>
<text x="190.0" y="693.8" font-family='"Liberation Sans", sans-serif' font-size="32.48" fill="#ffffff" textLength="195.0" lengthAdjust="spacingAndGlyphs" fill-opacity="0.9">United States</text>
<text x="190.0" y="723.8" font-family='"Liberation Sans", sans-serif' font-size="32.16" fill="#ffffff" textLength="153.8" lengthAdjust="spacingAndGlyphs" fill-opacity="0.9">327 million</text>
<text x="190.0" y="739.5" font-family='"Liberation Sans", sans-serif' font-size="14.46" fill="#cfeafa" textLength="182.5" lengthAdjust="spacingAndGlyphs" fill-opacity="0.9">4.3% of the world population</text>
<text x="118.0" y="689.5" font-family='"Liberation Sans", sans-serif' font-size="10.24" fill="#a8e0fa" font-style="italic" textLength="43.2" lengthAdjust="spacingAndGlyphs" fill-opacity="0.9">California</text>
<text x="131.2" y="700.0" font-family='"Liberation Sans", sans-serif' font-size="10.79" fill="#a8e0fa" font-style="italic" textLength="30.0" lengthAdjust="spacingAndGlyphs" fill-opacity="0.9">39.6m</text>
<text x="405.0" y="692.5" font-family='"Liberation Sans", sans-serif' font-size="10.99" fill="#9fb8cc" font-style="italic" textLength="162.5" lengthAdjust="spacingAndGlyphs" fill-opacity="0.9">The US at the time of Declaration</text>
<text x="405.0" y="703.8" font-family='"Liberation Sans", sans-serif' font-size="11.42" fill="#9fb8cc" font-style="italic" textLength="161.2" lengthAdjust="spacingAndGlyphs" fill-opacity="0.9">of Independence in 1776 - 2.5m</text>
<text x="411.2" y="733.8" font-family='"Liberation Sans", sans-serif' font-size="11.34" fill="#f080c0" textLength="76.2" lengthAdjust="spacingAndGlyphs" fill-opacity="0.9">Bahamas 0.4m</text>
<text x="383.8" y="753.8" font-family='"Liberation Sans", sans-serif' font-size="13.72" fill="#d83858" textLength="73.8" lengthAdjust="spacingAndGlyphs" fill-opacity="0.9">Cuba 11.5m</text>
<text x="463.8" y="754.5" font-family='"Liberation Sans", sans-serif' font-size="11.54" fill="#a868f0" textLength="57.5" lengthAdjust="spacingAndGlyphs" fill-opacity="0.9">Haiti 11.1m</text>
<text x="525.0" y="743.0" font-family='"Liberation Sans", sans-serif' font-size="10.85" fill="#3cd282" textLength="51.2" lengthAdjust="spacingAndGlyphs" fill-opacity="0.8">Dominican</text>
<text x="525.0" y="754.5" font-family='"Liberation Sans", sans-serif' font-size="11.15" fill="#3cd282" textLength="77.5" lengthAdjust="spacingAndGlyphs" fill-opacity="0.8">Republic 10.6m</text>
<text x="576.2" y="798.8" font-family='"Liberation Sans", sans-serif' font-size="11.03" fill="#28c8f0" textLength="32.5" lengthAdjust="spacingAndGlyphs" fill-opacity="0.85">Puerto</text>
<text x="576.2" y="808.8" font-family='"Liberation Sans", sans-serif' font-size="11.11" fill="#28c8f0" textLength="50.0" lengthAdjust="spacingAndGlyphs" fill-opacity="0.85">Rico 3.7m</text>
<text x="220.0" y="823.8" font-family='"Liberation Sans", sans-serif' font-size="20.13" fill="#5c6a34" textLength="63.8" lengthAdjust="spacingAndGlyphs" fill-opacity="0.9">Mexico</text>
<text x="220.0" y="845.0" font-family='"Liberation Sans", sans-serif' font-size="20.99" fill="#5c6a34" textLength="52.5" lengthAdjust="spacingAndGlyphs" fill-opacity="0.9">131m</text>
<text x="337.5" y="815.0" font-family='"Liberation Sans", sans-serif' font-size="12.05" fill="#1ec8a0" textLength="75.0" lengthAdjust="spacingAndGlyphs" fill-opacity="0.8">Jamaica 2.9m</text>
<text x="390.5" y="847.0" font-family='"Liberation Sans", sans-serif' font-size="11.15" fill="#a868f0" textLength="58.2" lengthAdjust="spacingAndGlyphs" fill-opacity="0.9">Belize 0.4m</text>
<text x="402.5" y="860.8" font-family='"Liberation Sans", sans-serif' font-size="11.70" fill="#32c850" textLength="80.0" lengthAdjust="spacingAndGlyphs" fill-opacity="0.8">Honduras 9.4m</text>
<text x="457.5" y="877.0" font-family='"Liberation Sans", sans-serif' font-size="11.33" fill="#f0607e" textLength="80.0" lengthAdjust="spacingAndGlyphs" fill-opacity="0.9">Nicaragua 6.3m</text>
<text x="478.0" y="892.0" font-family='"Liberation Sans", sans-serif' font-size="11.27" fill="#c860e0" textLength="58.2" lengthAdjust="spacingAndGlyphs" fill-opacity="0.9">Aruba 0.1m</text>
<text x="270.0" y="910.0" font-family='"Liberation Sans", sans-serif' font-size="13.03" fill="#28b8e8" textLength="63.8" lengthAdjust="spacingAndGlyphs" fill-opacity="0.85">Guatemala</text>
<text x="296.2" y="925.0" font-family='"Liberation Sans", sans-serif' font-size="13.49" fill="#28b8e8" textLength="37.5" lengthAdjust="spacingAndGlyphs" fill-opacity="0.85">17.2m</text>
<text x="365.5" y="909.5" font-family='"Liberation Sans", sans-serif' font-size="10.90" fill="#f58c56" textLength="55.8" lengthAdjust="spacingAndGlyphs" fill-opacity="0.9">El Salvador</text>
<text x="365.5" y="919.5" font-family='"Liberation Sans", sans-serif' font-size="11.25" fill="#f58c56" textLength="25.0" lengthAdjust="spacingAndGlyphs" fill-opacity="0.9">6.4m</text>
<text x="393.8" y="924.5" font-family='"Liberation Sans", sans-serif' font-size="11.63" fill="#50d050" textLength="76.2" lengthAdjust="spacingAndGlyphs" fill-opacity="0.8">Costa Rica 5m</text>
<text x="428.8" y="939.5" font-family='"Liberation Sans", sans-serif' font-size="11.44" fill="#f58cc8" textLength="71.2" lengthAdjust="spacingAndGlyphs" fill-opacity="0.9">Panama 4.2m</text>
<text x="521.2" y="853.0" font-family='"Liberation Sans", sans-serif' font-size="11.76" fill="#88d848" textLength="76.2" lengthAdjust="spacingAndGlyphs" fill-opacity="0.85">St Vincent and</text>
<text x="521.2" y="862.5" font-family='"Liberation Sans", sans-serif' font-size="11.24" fill="#88d848" textLength="105.0" lengthAdjust="spacingAndGlyphs" fill-opacity="0.85">the Grenadines 0.1m</text>
<text x="83.8" y="875.0" font-family='"Liberation Sans", sans-serif' font-size="22.11" fill="#c8d8e4" textLength="146.2" lengthAdjust="spacingAndGlyphs" fill-opacity="0.9">North America,</text>
<text x="83.8" y="896.2" font-family='"Liberation Sans", sans-serif' font-size="21.79" fill="#c8d8e4" textLength="155.0" lengthAdjust="spacingAndGlyphs" fill-opacity="0.9">Central America</text>
<text x="83.8" y="918.0" font-family='"Liberation Sans", sans-serif' font-size="21.87" fill="#c8d8e4" textLength="180.0" lengthAdjust="spacingAndGlyphs" fill-opacity="0.9">and the Caribbean</text>
<text x="83.8" y="940.0" font-family='"Liberation Sans", sans-serif' font-size="21.86" fill="#c8d8e4" textLength="175.0" lengthAdjust="spacingAndGlyphs" fill-opacity="0.9">in total 587 million</text>
<text x="83.8" y="957.5" font-family='"Liberation Sans", sans-serif' font-size="14.56" fill="#c8d8e4" textLength="183.8" lengthAdjust="spacingAndGlyphs" fill-opacity="0.8">7.7% of the world population</text>
<text x="613.0" y="771.0" font-family='"Liberation Sans", sans-serif' font-size="11.50" fill="#e8c040" textLength="101.0" lengthAdjust="spacingAndGlyphs">St Kitts &amp; Nevis 55k</text>
<text x="640.0" y="788.0" font-family='"Liberation Sans", sans-serif' font-size="11.01" fill="#30d8a0" textLength="120.0" lengthAdjust="spacingAndGlyphs" fill-opacity="0.7">Antigua &amp; Barbuda 0.1m</text>
<text x="646.0" y="803.0" font-family='"Liberation Sans", sans-serif' font-size="11.32" fill="#28c8f0" textLength="90.0" lengthAdjust="spacingAndGlyphs" fill-opacity="0.8">Guadeloupe 0.4m</text>
<text x="646.0" y="818.0" font-family='"Liberation Sans", sans-serif' font-size="11.40" fill="#f07860" textLength="76.0" lengthAdjust="spacingAndGlyphs">Dominica 0.1m</text>
<text x="646.0" y="833.0" font-family='"Liberation Sans", sans-serif' font-size="11.30" fill="#f080b8" textLength="81.0" lengthAdjust="spacingAndGlyphs">Martinique 0.4m</text>
<text x="646.0" y="848.0" font-family='"Liberation Sans", sans-serif' font-size="11.28" fill="#30d8a0" textLength="84.0" lengthAdjust="spacingAndGlyphs" fill-opacity="0.7">Saint Lucia 0.2m</text>
<text x="653.0" y="863.0" font-family='"Liberation Sans", sans-serif' font-size="11.65" fill="#f0607e" textLength="79.0" lengthAdjust="spacingAndGlyphs">Barbados 0.3m</text>
<text x="646.0" y="878.0" font-family='"Liberation Sans", sans-serif' font-size="11.26" fill="#f59050" textLength="72.0" lengthAdjust="spacingAndGlyphs">Grenada 0.1m</text>
<text x="624.0" y="893.0" font-family='"Liberation Sans", sans-serif' font-size="11.16" fill="#28c8f0" textLength="129.0" lengthAdjust="spacingAndGlyphs" fill-opacity="0.8">Trinidad and Tobago 1.4m</text>
<text x="562.0" y="884.0" font-family='"Liberation Sans", sans-serif' font-size="11.38" fill="#30d0a0" textLength="43.0" lengthAdjust="spacingAndGlyphs" fill-opacity="0.7">Curaçao</text>
<text x="563.0" y="894.0" font-family='"Liberation Sans", sans-serif' font-size="11.25" fill="#30d0a0" textLength="25.0" lengthAdjust="spacingAndGlyphs" fill-opacity="0.7">0.1m</text>
<text x="560.0" y="935.0" font-family='"Liberation Sans", sans-serif' font-size="14.18" fill="#f4d0dc" textLength="66.2" lengthAdjust="spacingAndGlyphs" fill-opacity="0.9">Venezuela</text>
<text x="583.8" y="950.0" font-family='"Liberation Sans", sans-serif' font-size="15.29" fill="#f4d0dc" textLength="42.5" lengthAdjust="spacingAndGlyphs" fill-opacity="0.9">32.4m</text>
<text x="628.8" y="921.2" font-family='"Liberation Sans", sans-serif' font-size="11.24" fill="#a8d848" textLength="67.5" lengthAdjust="spacingAndGlyphs" fill-opacity="0.85">Guyana 0.8m</text>
<text x="645.0" y="932.5" font-family='"Liberation Sans", sans-serif' font-size="11.24" fill="#20d0b8" textLength="76.2" lengthAdjust="spacingAndGlyphs" fill-opacity="0.8">Suriname 0.6m</text>
<text x="660.0" y="943.8" font-family='"Liberation Sans", sans-serif' font-size="11.11" fill="#a868f0" textLength="101.2" lengthAdjust="spacingAndGlyphs" fill-opacity="0.9">French Guiana 0.3m</text>
<text x="506.2" y="967.5" font-family='"Liberation Sans", sans-serif' font-size="17.16" fill="#94703a" textLength="72.5" lengthAdjust="spacingAndGlyphs" fill-opacity="0.9">Colombia</text>
<text x="530.0" y="985.0" font-family='"Liberation Sans", sans-serif' font-size="17.54" fill="#94703a" textLength="48.8" lengthAdjust="spacingAndGlyphs" fill-opacity="0.9">49.5m</text>
<text x="401.2" y="1001.2" font-family='"Liberation Sans", sans-serif' font-size="14.38" fill="#f8cc80" textLength="97.5" lengthAdjust="spacingAndGlyphs" fill-opacity="0.9">Ecuador 16.9m</text>
<text x="588.8" y="1021.2" font-family='"Liberation Sans", sans-serif' font-size="30.99" fill="#dcffe8" textLength="77.5" lengthAdjust="spacingAndGlyphs" fill-opacity="0.9">Brazil</text>
<text x="588.8" y="1056.2" font-family='"Liberation Sans", sans-serif' font-size="34.50" fill="#dcffe8" textLength="83.8" lengthAdjust="spacingAndGlyphs" fill-opacity="0.9">211m</text>
<text x="587.5" y="1070.5" font-family='"Liberation Sans", sans-serif' font-size="14.56" fill="#b8f8d0" textLength="112.5" lengthAdjust="spacingAndGlyphs" fill-opacity="0.9">2.8% of the world</text>
<text x="486.2" y="1091.2" font-family='"Liberation Sans", sans-serif' font-size="16.57" fill="#cc9c80" textLength="35.0" lengthAdjust="spacingAndGlyphs" fill-opacity="0.9">Peru</text>
<text x="433.8" y="1107.5" font-family='"Liberation Sans", sans-serif' font-size="17.30" fill="#cc9c80" textLength="87.5" lengthAdjust="spacingAndGlyphs" fill-opacity="0.9">32.6 million</text>
<text x="571.2" y="1098.2" font-family='"Liberation Sans", sans-serif' font-size="10.61" fill="#688838" textLength="31.2" lengthAdjust="spacingAndGlyphs" fill-opacity="0.8">Bolivia</text>
<text x="575.0" y="1110.0" font-family='"Liberation Sans", sans-serif' font-size="9.35" fill="#688838" textLength="17.5" lengthAdjust="spacingAndGlyphs" fill-opacity="0.8">11m</text>
<text x="520.0" y="1146.2" font-family='"Liberation Sans", sans-serif' font-size="13.71" fill="#d878e0" textLength="31.2" lengthAdjust="spacingAndGlyphs" fill-opacity="0.9">Chile</text>
<text x="492.5" y="1161.2" font-family='"Liberation Sans", sans-serif' font-size="13.91" fill="#d878e0" textLength="58.8" lengthAdjust="spacingAndGlyphs" fill-opacity="0.9">18 million</text>
<text x="652.0" y="1147.0" font-family='"Liberation Sans", sans-serif' font-size="11.22" fill="#e078b0" textLength="66.8" lengthAdjust="spacingAndGlyphs" fill-opacity="0.9">Paraguay 7m</text>
<text x="637.5" y="1165.5" font-family='"Liberation Sans", sans-serif' font-size="11.34" fill="#f48ac0" textLength="71.2" lengthAdjust="spacingAndGlyphs" fill-opacity="0.9">Uruguay 3.5m</text>
<text x="602.5" y="1207.5" font-family='"Liberation Sans", sans-serif' font-size="17.20" fill="#22b8e0" textLength="126.2" lengthAdjust="spacingAndGlyphs" fill-opacity="0.85">Argentina 44.7m</text>
<text x="773.2" y="918.8" font-family='"Liberation Sans", sans-serif' font-size="11.30" fill="#e85890" textLength="93.0" lengthAdjust="spacingAndGlyphs" fill-opacity="0.9">Sierra Leone 7.7m</text>
<text x="777.5" y="930.5" font-family='"Liberation Sans", sans-serif' font-size="11.12" fill="#f088c8" textLength="58.8" lengthAdjust="spacingAndGlyphs" fill-opacity="0.9">Cape Verde</text>
<text x="810.0" y="940.0" font-family='"Liberation Sans", sans-serif' font-size="11.81" fill="#f088c8" textLength="26.2" lengthAdjust="spacingAndGlyphs" fill-opacity="0.9">0.6m</text>
<text x="821.2" y="953.0" font-family='"Liberation Sans", sans-serif' font-size="11.24" fill="#e8c030" textLength="52.5" lengthAdjust="spacingAndGlyphs" fill-opacity="0.9">Liberia 5m</text>
<text x="84.0" y="1332.0" font-family='"Liberation Sans", sans-serif' font-size="22.07" fill="#c8d8e4" textLength="303.0" lengthAdjust="spacingAndGlyphs">South America total 428 million</text>
<text x="84.0" y="1349.0" font-family='"Liberation Sans", sans-serif' font-size="14.58" fill="#c8d8e4" textLength="184.0" lengthAdjust="spacingAndGlyphs" fill-opacity="0.8">5.6% of the world population</text>
<text x="765.0" y="1332.0" font-family='"Liberation Sans", sans-serif' font-size="22.20" fill="#c8d8e4" textLength="253.0" lengthAdjust="spacingAndGlyphs">Africa in total 1.288 billion</text>
<text x="765.0" y="1349.0" font-family='"Liberation Sans", sans-serif' font-size="14.80" fill="#c8d8e4" textLength="195.0" lengthAdjust="spacingAndGlyphs" fill-opacity="0.8">16.9% of the world population</text>
<text x="1420.0" y="1332.0" font-family='"Liberation Sans", sans-serif' font-size="21.98" fill="#c8d8e4" textLength="237.0" lengthAdjust="spacingAndGlyphs">Asia in total 4.568 billion</text>
<text x="1420.0" y="1349.0" font-family='"Liberation Sans", sans-serif' font-size="14.65" fill="#c8d8e4" textLength="193.0" lengthAdjust="spacingAndGlyphs" fill-opacity="0.8">59.8% of the world population</text>
<text x="833.8" y="328.8" font-family='"Liberation Sans", sans-serif' font-size="11.40" fill="#28c8f0" textLength="91.2" lengthAdjust="spacingAndGlyphs" fill-opacity="0.75">Greenland 56,000</text>
<text x="938.8" y="336.2" font-family='"Liberation Sans", sans-serif' font-size="11.31" fill="#f080b0" textLength="106.2" lengthAdjust="spacingAndGlyphs" fill-opacity="0.9">Faroe Islands 49,000</text>
<text x="864.5" y="351.2" font-family='"Liberation Sans", sans-serif' font-size="11.35" fill="#f080b0" textLength="65.0" lengthAdjust="spacingAndGlyphs" fill-opacity="0.9">Iceland 0.3m</text>
<text x="803.8" y="376.2" font-family='"Liberation Sans", sans-serif' font-size="17.22" fill="#2ec88c" textLength="122.5" lengthAdjust="spacingAndGlyphs" fill-opacity="0.7">United Kingdom</text>
<text x="840.5" y="394.5" font-family='"Liberation Sans", sans-serif' font-size="16.95" fill="#2ec88c" textLength="85.8" lengthAdjust="spacingAndGlyphs" fill-opacity="0.7">66.6 million</text>
<text x="963.0" y="370.5" font-family='"Liberation Sans", sans-serif' font-size="11.43" fill="#e4f0f0" font-style="italic" textLength="44.5" lengthAdjust="spacingAndGlyphs" fill-opacity="0.9">Scotland</text>
<text x="822.0" y="416.2" font-family='"Liberation Sans", sans-serif' font-size="11.31" fill="#e8f0f4" font-style="italic" textLength="81.8" lengthAdjust="spacingAndGlyphs" fill-opacity="0.9">Northern Ireland</text>
<text x="840.0" y="428.8" font-family='"Liberation Sans", sans-serif' font-size="11.24" fill="#2ee8f0" textLength="56.2" lengthAdjust="spacingAndGlyphs" fill-opacity="0.7">Republic of</text>
<text x="833.8" y="440.0" font-family='"Liberation Sans", sans-serif' font-size="11.24" fill="#2ee8f0" textLength="62.5" lengthAdjust="spacingAndGlyphs" fill-opacity="0.7">Ireland 4.8m</text>
<text x="889.5" y="481.2" font-family='"Liberation Sans", sans-serif' font-size="10.60" fill="#e8f0f4" font-style="italic" textLength="29.2" lengthAdjust="spacingAndGlyphs" fill-opacity="0.9">Wales</text>
<text x="947.0" y="482.0" font-family='"Liberation Sans", sans-serif' font-size="10.90" fill="#b8f0d8" font-style="italic" textLength="40.0" lengthAdjust="spacingAndGlyphs" fill-opacity="0.9">England</text>
<text x="850.0" y="531.2" font-family='"Liberation Sans", sans-serif' font-size="11.24" fill="#28d0c0" textLength="108.8" lengthAdjust="spacingAndGlyphs" fill-opacity="0.7">Channel Islands 0.2m</text>
<text x="1088.8" y="371.2" font-family='"Liberation Sans", sans-serif' font-size="13.37" fill="#f080a0" textLength="78.8" lengthAdjust="spacingAndGlyphs" fill-opacity="0.9">Norway 5.4m</text>
<text x="1053.8" y="404.5" font-family='"Liberation Sans", sans-serif' font-size="13.25" fill="#f088b8" textLength="53.8" lengthAdjust="spacingAndGlyphs" fill-opacity="0.9">Denmark</text>
<text x="1088.8" y="416.2" font-family='"Liberation Sans", sans-serif' font-size="13.50" fill="#f088b8" textLength="18.8" lengthAdjust="spacingAndGlyphs" fill-opacity="0.9">6m</text>
<text x="1143.8" y="421.2" font-family='"Liberation Sans", sans-serif' font-size="11.41" fill="#20c8f0" textLength="41.2" lengthAdjust="spacingAndGlyphs" fill-opacity="0.8">Sweden</text>
<text x="1164.5" y="431.2" font-family='"Liberation Sans", sans-serif' font-size="9.90" fill="#20c8f0" textLength="19.2" lengthAdjust="spacingAndGlyphs" fill-opacity="0.8">10m</text>
<text x="1192.5" y="421.2" font-family='"Liberation Sans", sans-serif' font-size="10.67" fill="#90d848" textLength="35.0" lengthAdjust="spacingAndGlyphs" fill-opacity="0.8">Finland</text>
<text x="1193.8" y="431.2" font-family='"Liberation Sans", sans-serif' font-size="10.68" fill="#90d848" textLength="23.8" lengthAdjust="spacingAndGlyphs" fill-opacity="0.8">5.5m</text>
<text x="991.2" y="427.5" font-family='"Liberation Sans", sans-serif' font-size="13.21" fill="#ff8860" textLength="71.2" lengthAdjust="spacingAndGlyphs" fill-opacity="0.9">Netherlands</text>
<text x="1037.0" y="438.8" font-family='"Liberation Sans", sans-serif' font-size="13.11" fill="#ff8860" textLength="25.5" lengthAdjust="spacingAndGlyphs" fill-opacity="0.9">17m</text>
<text x="1090.0" y="472.5" font-family='"Liberation Sans", sans-serif' font-size="16.72" fill="#e8ffd8" textLength="68.8" lengthAdjust="spacingAndGlyphs" fill-opacity="0.9">Germany</text>
<text x="1090.0" y="487.5" font-family='"Liberation Sans", sans-serif' font-size="17.35" fill="#e8ffd8" textLength="33.8" lengthAdjust="spacingAndGlyphs" fill-opacity="0.9">82m</text>
<text x="1165.0" y="451.2" font-family='"Liberation Sans", sans-serif' font-size="16.86" fill="#f0c0dc" textLength="52.5" lengthAdjust="spacingAndGlyphs" fill-opacity="0.9">Poland</text>
<text x="1165.0" y="467.0" font-family='"Liberation Sans", sans-serif' font-size="17.09" fill="#f0c0dc" textLength="47.5" lengthAdjust="spacingAndGlyphs" fill-opacity="0.9">38.1m</text>
<text x="1042.5" y="501.2" font-family='"Liberation Sans", sans-serif' font-size="10.24" fill="#a07818" textLength="37.0" lengthAdjust="spacingAndGlyphs" fill-opacity="0.9">Belgium</text>
<text x="1051.2" y="511.2" font-family='"Liberation Sans", sans-serif' font-size="10.44" fill="#a07818" textLength="28.2" lengthAdjust="spacingAndGlyphs" fill-opacity="0.9">11.5m</text>
<text x="1081.2" y="515.0" font-family='"Liberation Sans", sans-serif' font-size="8.54" fill="#c8a040" textLength="47.5" lengthAdjust="spacingAndGlyphs" fill-opacity="0.8">Luxembourg</text>
<text x="1081.2" y="523.8" font-family='"Liberation Sans", sans-serif' font-size="8.43" fill="#c8a040" textLength="18.8" lengthAdjust="spacingAndGlyphs" fill-opacity="0.8">0.6m</text>
<text x="1007.0" y="538.8" font-family='"Liberation Sans", sans-serif' font-size="9.86" fill="#c8ecff" textLength="40.0" lengthAdjust="spacingAndGlyphs" fill-opacity="0.9">Mainland</text>
<text x="999.5" y="556.2" font-family='"Liberation Sans", sans-serif' font-size="17.83" fill="#e8f8ff" textLength="55.5" lengthAdjust="spacingAndGlyphs" fill-opacity="0.9">France</text>
<text x="1008.8" y="573.8" font-family='"Liberation Sans", sans-serif' font-size="18.63" fill="#e8f8ff" textLength="36.2" lengthAdjust="spacingAndGlyphs" fill-opacity="0.9">65m</text>
<text x="1133.8" y="550.0" font-family='"Liberation Sans", sans-serif' font-size="11.25" fill="#a07818" textLength="35.0" lengthAdjust="spacingAndGlyphs" fill-opacity="0.9">Austria</text>
<text x="1142.5" y="560.0" font-family='"Liberation Sans", sans-serif' font-size="11.81" fill="#a07818" textLength="26.2" lengthAdjust="spacingAndGlyphs" fill-opacity="0.9">8.8m</text>
<text x="1065.0" y="561.2" font-family='"Liberation Sans", sans-serif' font-size="8.46" fill="#c8e8c0" textLength="43.8" lengthAdjust="spacingAndGlyphs" fill-opacity="0.8">Switzerland</text>
<text x="1065.0" y="568.8" font-family='"Liberation Sans", sans-serif' font-size="9.00" fill="#c8e8c0" textLength="20.0" lengthAdjust="spacingAndGlyphs" fill-opacity="0.8">8.5m</text>
<text x="1170.0" y="545.0" font-family='"Liberation Sans", sans-serif' font-size="9.26" fill="#90b0ff" textLength="35.0" lengthAdjust="spacingAndGlyphs" fill-opacity="0.9">Slovakia</text>
<text x="1170.0" y="563.8" font-family='"Liberation Sans", sans-serif' font-size="8.16" fill="#e0e8e8" textLength="51.2" lengthAdjust="spacingAndGlyphs" fill-opacity="0.9">Hungary 9.7m</text>
<text x="1095.0" y="590.0" font-family='"Liberation Sans", sans-serif' font-size="15.68" fill="#f8c8f4" textLength="28.8" lengthAdjust="spacingAndGlyphs" fill-opacity="0.9">Italy</text>
<text x="1090.0" y="603.8" font-family='"Liberation Sans", sans-serif' font-size="14.21" fill="#f8c8f4" textLength="39.5" lengthAdjust="spacingAndGlyphs" fill-opacity="0.9">59.3m</text>
<text x="953.8" y="635.0" font-family='"Liberation Sans", sans-serif' font-size="16.62" fill="#f4c8e4" textLength="42.5" lengthAdjust="spacingAndGlyphs" fill-opacity="0.9">Spain</text>
<text x="950.0" y="652.5" font-family='"Liberation Sans", sans-serif' font-size="17.54" fill="#f4c8e4" textLength="48.8" lengthAdjust="spacingAndGlyphs" fill-opacity="0.9">46.4m</text>
<text x="877.5" y="640.0" font-family='"Liberation Sans", sans-serif' font-size="11.41" fill="#20d078" textLength="42.5" lengthAdjust="spacingAndGlyphs" fill-opacity="0.7">Portugal</text>
<text x="873.8" y="652.0" font-family='"Liberation Sans", sans-serif' font-size="10.95" fill="#20d078" textLength="46.2" lengthAdjust="spacingAndGlyphs" fill-opacity="0.7">10 million</text>
<text x="916.2" y="606.2" font-family='"Liberation Sans", sans-serif' font-size="11.47" fill="#f58c60" textLength="62.5" lengthAdjust="spacingAndGlyphs" fill-opacity="0.9">Andorra 77k</text>
<text x="1080.0" y="700.0" font-family='"Liberation Sans", sans-serif' font-size="11.25" fill="#f89040" textLength="27.5" lengthAdjust="spacingAndGlyphs" fill-opacity="0.9">Malta</text>
<text x="1102.0" y="652.5" font-family='"Liberation Sans", sans-serif' font-size="8.59" fill="#90a8c0" textLength="28.0" lengthAdjust="spacingAndGlyphs" fill-opacity="0.8">Vatican</text>
<text x="1115.0" y="660.0" font-family='"Liberation Sans", sans-serif' font-size="8.99" fill="#90a8c0" textLength="15.0" lengthAdjust="spacingAndGlyphs" fill-opacity="0.8">800</text>
<text x="1138.8" y="601.2" font-family='"Liberation Sans", sans-serif' font-size="8.92" fill="#20c8b0" textLength="28.8" lengthAdjust="spacingAndGlyphs" fill-opacity="0.7">Croatia</text>
<text x="1146.2" y="608.8" font-family='"Liberation Sans", sans-serif' font-size="9.56" fill="#20c8b0" textLength="21.2" lengthAdjust="spacingAndGlyphs" fill-opacity="0.7">4.2m</text>
<text x="1163.8" y="630.0" font-family='"Liberation Sans", sans-serif' font-size="8.24" fill="#40c850" textLength="27.5" lengthAdjust="spacingAndGlyphs" fill-opacity="0.7">Albania</text>
<text x="1171.2" y="637.0" font-family='"Liberation Sans", sans-serif' font-size="9.00" fill="#40c850" textLength="20.0" lengthAdjust="spacingAndGlyphs" fill-opacity="0.7">2.9m</text>
<text x="767.5" y="695.0" font-family='"Liberation Sans", sans-serif' font-size="21.63" fill="#c8d8e4" textLength="139.5" lengthAdjust="spacingAndGlyphs" fill-opacity="0.9">Europe in total</text>
<text x="767.0" y="717.0" font-family='"Liberation Sans", sans-serif' font-size="22.10" fill="#c8d8e4" textLength="104.0" lengthAdjust="spacingAndGlyphs">711 million</text>
<text x="767.0" y="730.5" font-family='"Liberation Sans", sans-serif' font-size="14.50" fill="#c8d8e4" textLength="183.0" lengthAdjust="spacingAndGlyphs" fill-opacity="0.8">9.3% of the world population</text>
<text x="1306.2" y="411.2" font-family='"Liberation Sans", sans-serif' font-size="22.49" fill="#ff9c60" textLength="68.8" lengthAdjust="spacingAndGlyphs" fill-opacity="0.9">Russia</text>
<text x="1306.2" y="431.2" font-family='"Liberation Sans", sans-serif' font-size="22.49" fill="#ff9c60" textLength="107.5" lengthAdjust="spacingAndGlyphs" fill-opacity="0.9">144 million</text>
<text x="1383.0" y="490.5" font-family='"Liberation Sans", sans-serif' font-size="14.14" fill="#ff9c60" textLength="126.5" lengthAdjust="spacingAndGlyphs" fill-opacity="0.9">Asian part of Russia</text>
<text x="1383.0" y="505.0" font-family='"Liberation Sans", sans-serif' font-size="14.09" fill="#ff9c60" textLength="59.5" lengthAdjust="spacingAndGlyphs" fill-opacity="0.9">34 million</text>
<text x="1222.5" y="518.0" font-family='"Liberation Sans", sans-serif' font-size="16.69" fill="#6c4c9c" textLength="57.5" lengthAdjust="spacingAndGlyphs" fill-opacity="0.9">Ukraine</text>
<text x="1222.5" y="533.0" font-family='"Liberation Sans", sans-serif' font-size="17.35" fill="#6c4c9c" textLength="33.8" lengthAdjust="spacingAndGlyphs" fill-opacity="0.9">44m</text>
<text x="1238.8" y="438.8" font-family='"Liberation Sans", sans-serif' font-size="10.49" fill="#f0907a" textLength="61.2" lengthAdjust="spacingAndGlyphs" fill-opacity="0.9">Estonia 1.3m</text>
<text x="1238.8" y="453.8" font-family='"Liberation Sans", sans-serif' font-size="10.49" fill="#c8a868" textLength="54.2" lengthAdjust="spacingAndGlyphs" fill-opacity="0.9">Latvia 1.9m</text>
<text x="1238.8" y="468.8" font-family='"Liberation Sans", sans-serif' font-size="10.40" fill="#f0907a" textLength="68.2" lengthAdjust="spacingAndGlyphs" fill-opacity="0.9">Lithuania 2.9m</text>
<text x="1444.5" y="598.0" font-family='"Liberation Sans", sans-serif' font-size="16.53" fill="#e4f8ff" textLength="81.8" lengthAdjust="spacingAndGlyphs" fill-opacity="0.9">Uzbekistan</text>
<text x="1473.0" y="612.5" font-family='"Liberation Sans", sans-serif' font-size="15.11" fill="#e4f8ff" textLength="42.0" lengthAdjust="spacingAndGlyphs" fill-opacity="0.9">32.4m</text>
<text x="1501.2" y="573.0" font-family='"Liberation Sans", sans-serif' font-size="12.44" fill="#fcc0cc" textLength="65.0" lengthAdjust="spacingAndGlyphs" fill-opacity="0.9">Kazakhstan</text>
<text x="1532.5" y="585.0" font-family='"Liberation Sans", sans-serif' font-size="12.14" fill="#fcc0cc" textLength="33.8" lengthAdjust="spacingAndGlyphs" fill-opacity="0.9">18.4m</text>
<text x="1577.5" y="582.5" font-family='"Liberation Sans", sans-serif' font-size="11.15" fill="#a0e050" textLength="73.8" lengthAdjust="spacingAndGlyphs" fill-opacity="0.85">Kyrgyzstan 6m</text>
<text x="1561.2" y="616.2" font-family='"Liberation Sans", sans-serif' font-size="10.94" fill="#8c9cb4" textLength="45.0" lengthAdjust="spacingAndGlyphs" fill-opacity="0.9">Tajikistan</text>
<text x="1561.2" y="627.5" font-family='"Liberation Sans", sans-serif' font-size="10.80" fill="#8c9cb4" textLength="15.0" lengthAdjust="spacingAndGlyphs" fill-opacity="0.9">9m</text>
<text x="1539.5" y="648.8" font-family='"Liberation Sans", sans-serif' font-size="12.16" fill="#a87838" textLength="64.2" lengthAdjust="spacingAndGlyphs" fill-opacity="0.9">Afghanistan</text>
<text x="1539.5" y="662.0" font-family='"Liberation Sans", sans-serif' font-size="12.59" fill="#a87838" textLength="35.0" lengthAdjust="spacingAndGlyphs" fill-opacity="0.9">36.4m</text>
<text x="1283.0" y="659.5" font-family='"Liberation Sans", sans-serif' font-size="20.54" fill="#f4dcec" textLength="62.0" lengthAdjust="spacingAndGlyphs" fill-opacity="0.9">Turkey</text>
<text x="1302.0" y="678.8" font-family='"Liberation Sans", sans-serif' font-size="22.10" fill="#f4dcec" textLength="43.0" lengthAdjust="spacingAndGlyphs" fill-opacity="0.9">82m</text>
<text x="1441.2" y="678.8" font-family='"Liberation Sans", sans-serif' font-size="25.39" fill="#ecffe4" textLength="43.8" lengthAdjust="spacingAndGlyphs" fill-opacity="0.9">Iran</text>
<text x="1441.2" y="705.0" font-family='"Liberation Sans", sans-serif' font-size="27.63" fill="#ecffe4" textLength="53.8" lengthAdjust="spacingAndGlyphs" fill-opacity="0.9">82m</text>
<text x="1403.8" y="622.5" font-family='"Liberation Sans", sans-serif' font-size="11.11" fill="#a0e050" textLength="52.5" lengthAdjust="spacingAndGlyphs" fill-opacity="0.85">Azerbaijan</text>
<text x="1403.8" y="633.8" font-family='"Liberation Sans", sans-serif' font-size="11.57" fill="#a0e050" textLength="22.5" lengthAdjust="spacingAndGlyphs" fill-opacity="0.85">10m</text>
<text x="1433.8" y="633.8" font-family='"Liberation Sans", sans-serif' font-size="8.71" fill="#d868dc" textLength="20.0" lengthAdjust="spacingAndGlyphs" fill-opacity="0.9">Turk-</text>
<text x="1416.2" y="643.0" font-family='"Liberation Sans", sans-serif' font-size="9.24" fill="#d868dc" textLength="37.5" lengthAdjust="spacingAndGlyphs" fill-opacity="0.9">menistan</text>
<text x="1441.2" y="651.2" font-family='"Liberation Sans", sans-serif' font-size="9.00" fill="#d868dc" textLength="12.5" lengthAdjust="spacingAndGlyphs" fill-opacity="0.9">6m</text>
<text x="1301.2" y="615.5" font-family='"Liberation Sans", sans-serif' font-size="10.89" fill="#20d890" textLength="38.8" lengthAdjust="spacingAndGlyphs" fill-opacity="0.75">Georgia</text>
<text x="1325.0" y="627.5" font-family='"Liberation Sans", sans-serif' font-size="10.80" fill="#20d890" textLength="15.0" lengthAdjust="spacingAndGlyphs" fill-opacity="0.75">4m</text>
<text x="1338.0" y="644.5" font-family='"Liberation Sans", sans-serif' font-size="10.61" fill="#f0a848" textLength="39.5" lengthAdjust="spacingAndGlyphs" fill-opacity="0.9">Armenia</text>
<text x="1361.2" y="654.5" font-family='"Liberation Sans", sans-serif' font-size="11.70" fill="#f0a848" textLength="16.2" lengthAdjust="spacingAndGlyphs" fill-opacity="0.9">3m</text>
<text x="1215.8" y="578.8" font-family='"Liberation Sans", sans-serif' font-size="10.12" fill="#d0f0d0" textLength="40.5" lengthAdjust="spacingAndGlyphs" fill-opacity="0.9">Romania</text>
<text x="1223.0" y="590.0" font-family='"Liberation Sans", sans-serif' font-size="10.16" fill="#d0f0d0" textLength="28.2" lengthAdjust="spacingAndGlyphs" fill-opacity="0.9">19.6m</text>
<text x="1267.5" y="562.5" font-family='"Liberation Sans", sans-serif' font-size="11.57" fill="#20c8e0" textLength="43.8" lengthAdjust="spacingAndGlyphs" fill-opacity="0.7">Moldova</text>
<text x="1215.8" y="482.5" font-family='"Liberation Sans", sans-serif' font-size="10.69" fill="#606c68" textLength="36.2" lengthAdjust="spacingAndGlyphs" fill-opacity="0.9">Belarus</text>
<text x="1227.5" y="494.5" font-family='"Liberation Sans", sans-serif' font-size="11.02" fill="#606c68" textLength="24.5" lengthAdjust="spacingAndGlyphs" fill-opacity="0.9">9.5m</text>
<text x="1215.8" y="610.0" font-family='"Liberation Sans", sans-serif' font-size="9.33" fill="#a07848" textLength="34.2" lengthAdjust="spacingAndGlyphs" fill-opacity="0.9">Bulgaria</text>
<text x="1333.5" y="711.2" font-family='"Liberation Sans", sans-serif' font-size="11.74" fill="#d8fff4" textLength="26.8" lengthAdjust="spacingAndGlyphs" fill-opacity="0.9">Syria</text>
<text x="1335.2" y="723.8" font-family='"Liberation Sans", sans-serif' font-size="12.21" fill="#d8fff4" textLength="23.8" lengthAdjust="spacingAndGlyphs" fill-opacity="0.9">18m</text>
<text x="1381.5" y="723.8" font-family='"Liberation Sans", sans-serif' font-size="15.23" fill="#f0e0c8" textLength="26.2" lengthAdjust="spacingAndGlyphs" fill-opacity="0.9">Iraq</text>
<text x="1375.2" y="739.5" font-family='"Liberation Sans", sans-serif' font-size="14.39" fill="#f0e0c8" textLength="40.0" lengthAdjust="spacingAndGlyphs" fill-opacity="0.9">39.3m</text>
<text x="1245.2" y="705.0" font-family='"Liberation Sans", sans-serif' font-size="11.05" fill="#d8a888" textLength="35.0" lengthAdjust="spacingAndGlyphs" fill-opacity="0.9">Cyprus</text>
<text x="1256.0" y="717.0" font-family='"Liberation Sans", sans-serif' font-size="10.91" fill="#d8a888" textLength="24.2" lengthAdjust="spacingAndGlyphs" fill-opacity="0.9">1.2m</text>
<text x="1264.0" y="737.5" font-family='"Liberation Sans", sans-serif' font-size="10.27" fill="#f89058" textLength="40.0" lengthAdjust="spacingAndGlyphs" fill-opacity="0.9">Lebanon</text>
<text x="1280.2" y="746.2" font-family='"Liberation Sans", sans-serif' font-size="10.68" fill="#f89058" textLength="23.8" lengthAdjust="spacingAndGlyphs" fill-opacity="0.9">6.1m</text>
<text x="1336.0" y="745.5" font-family='"Liberation Sans", sans-serif' font-size="9.16" fill="#a03050" textLength="28.0" lengthAdjust="spacingAndGlyphs" fill-opacity="0.9">Jordan</text>
<text x="1337.0" y="754.5" font-family='"Liberation Sans", sans-serif' font-size="7.45" fill="#a03050" textLength="14.5" lengthAdjust="spacingAndGlyphs" fill-opacity="0.9">10m</text>
<text x="1262.8" y="762.0" font-family='"Liberation Sans", sans-serif' font-size="10.03" fill="#90d040" textLength="41.2" lengthAdjust="spacingAndGlyphs" fill-opacity="0.8">Palestine</text>
<text x="1282.8" y="772.0" font-family='"Liberation Sans", sans-serif' font-size="9.56" fill="#90d040" textLength="21.2" lengthAdjust="spacingAndGlyphs" fill-opacity="0.8">5.1m</text>
<text x="1329.0" y="803.8" font-family='"Liberation Sans", sans-serif' font-size="10.22" fill="#20c8e8" textLength="25.0" lengthAdjust="spacingAndGlyphs" fill-opacity="0.8">Israel</text>
<text x="1329.0" y="814.5" font-family='"Liberation Sans", sans-serif' font-size="11.25" fill="#20c8e8" textLength="25.0" lengthAdjust="spacingAndGlyphs" fill-opacity="0.8">8.5m</text>
<text x="1358.5" y="800.0" font-family='"Liberation Sans", sans-serif' font-size="11.33" fill="#e8f0f0" textLength="64.2" lengthAdjust="spacingAndGlyphs" fill-opacity="0.9">Saudi Arabia</text>
<text x="1390.2" y="812.0" font-family='"Liberation Sans", sans-serif' font-size="11.69" fill="#e8f0f0" textLength="32.5" lengthAdjust="spacingAndGlyphs" fill-opacity="0.9">33.6m</text>
<text x="1456.5" y="750.0" font-family='"Liberation Sans", sans-serif' font-size="10.42" fill="#f8c030" textLength="62.0" lengthAdjust="spacingAndGlyphs" fill-opacity="0.9">Bahrain 1.6m</text>
<text x="1441.5" y="767.5" font-family='"Liberation Sans", sans-serif' font-size="11.36" fill="#30a8f8" textLength="62.5" lengthAdjust="spacingAndGlyphs" fill-opacity="0.8">Kuwait 4.2m</text>
<text x="1464.5" y="778.8" font-family='"Liberation Sans", sans-serif' font-size="11.40" fill="#f87048" textLength="57.0" lengthAdjust="spacingAndGlyphs" fill-opacity="0.9">Qatar 2.7m</text>
<text x="1487.0" y="793.8" font-family='"Liberation Sans", sans-serif' font-size="11.14" fill="#98a8b8" textLength="50.8" lengthAdjust="spacingAndGlyphs" fill-opacity="0.9">UAE 9.5m</text>
<text x="1494.5" y="814.5" font-family='"Liberation Sans", sans-serif' font-size="11.48" fill="#f890cc" textLength="60.0" lengthAdjust="spacingAndGlyphs" fill-opacity="0.9">Oman 4.8m</text>
<text x="1409.0" y="844.5" font-family='"Liberation Sans", sans-serif' font-size="16.66" fill="#f4e4d0" textLength="51.2" lengthAdjust="spacingAndGlyphs" fill-opacity="0.9">Yemen</text>
<text x="1409.0" y="861.2" font-family='"Liberation Sans", sans-serif' font-size="17.35" fill="#f4e4d0" textLength="33.8" lengthAdjust="spacingAndGlyphs" fill-opacity="0.9">29m</text>
<text x="1321.0" y="836.2" font-family='"Liberation Sans", sans-serif' font-size="11.11" fill="#f0687c" textLength="60.5" lengthAdjust="spacingAndGlyphs" fill-opacity="0.9">Eritrea 5.2m</text>
<text x="1343.5" y="858.8" font-family='"Liberation Sans", sans-serif' font-size="11.20" fill="#e8c860" textLength="56.0" lengthAdjust="spacingAndGlyphs" fill-opacity="0.9">Djibouti 1m</text>
<text x="1566.5" y="726.2" font-family='"Liberation Sans", sans-serif' font-size="28.35" fill="#e0fff0" textLength="108.8" lengthAdjust="spacingAndGlyphs" fill-opacity="0.9">Pakistan</text>
<text x="1566.5" y="756.2" font-family='"Liberation Sans", sans-serif' font-size="28.98" fill="#e0fff0" textLength="72.5" lengthAdjust="spacingAndGlyphs" fill-opacity="0.9">201m</text>
<text x="836.2" y="785.0" font-family='"Liberation Sans", sans-serif' font-size="17.67" fill="#c08878" textLength="121.8" lengthAdjust="spacingAndGlyphs" fill-opacity="0.9">Morocco 36.2m</text>
<text x="1046.2" y="753.2" font-family='"Liberation Sans", sans-serif' font-size="15.90" fill="#e0ecff" textLength="49.5" lengthAdjust="spacingAndGlyphs" fill-opacity="0.9">Algeria</text>
<text x="1046.2" y="771.2" font-family='"Liberation Sans", sans-serif' font-size="16.71" fill="#e0ecff" textLength="32.5" lengthAdjust="spacingAndGlyphs" fill-opacity="0.9">42m</text>
<text x="1102.5" y="726.2" font-family='"Liberation Sans", sans-serif' font-size="10.94" fill="#c488b4" textLength="67.5" lengthAdjust="spacingAndGlyphs" fill-opacity="0.9">Tunisia 11.7m</text>
<text x="1127.0" y="745.0" font-family='"Liberation Sans", sans-serif' font-size="10.67" fill="#c8ffd0" textLength="25.5" lengthAdjust="spacingAndGlyphs" fill-opacity="0.9">Libya</text>
<text x="1127.0" y="755.5" font-family='"Liberation Sans", sans-serif' font-size="11.25" fill="#c8ffd0" textLength="25.0" lengthAdjust="spacingAndGlyphs" fill-opacity="0.9">6.5m</text>
<text x="1162.0" y="800.0" font-family='"Liberation Sans", sans-serif' font-size="20.13" fill="#6a5a20" textLength="113.0" lengthAdjust="spacingAndGlyphs" fill-opacity="0.9">Egypt 99.4m</text>
<text x="1213.8" y="744.5" font-family='"Liberation Sans", sans-serif' font-size="11.43" fill="#a08830" font-style="italic" textLength="38.8" lengthAdjust="spacingAndGlyphs" fill-opacity="0.9">Greater</text>
<text x="1219.5" y="757.0" font-family='"Liberation Sans", sans-serif' font-size="11.51" fill="#a08830" font-style="italic" textLength="27.5" lengthAdjust="spacingAndGlyphs" fill-opacity="0.9">Cairo</text>
<text x="1216.2" y="770.0" font-family='"Liberation Sans", sans-serif' font-size="12.14" fill="#a08830" font-style="italic" textLength="33.8" lengthAdjust="spacingAndGlyphs" fill-opacity="0.9">20.5m</text>
<text x="1022.5" y="792.0" font-family='"Liberation Sans", sans-serif' font-size="11.59" fill="#ecf4f8" textLength="21.2" lengthAdjust="spacingAndGlyphs" fill-opacity="0.9">Mali</text>
<text x="1021.2" y="805.5" font-family='"Liberation Sans", sans-serif' font-size="11.57" fill="#ecf4f8" textLength="22.5" lengthAdjust="spacingAndGlyphs" fill-opacity="0.9">19m</text>
<text x="1106.2" y="798.8" font-family='"Liberation Sans", sans-serif' font-size="10.78" fill="#7a6030" textLength="25.8" lengthAdjust="spacingAndGlyphs" fill-opacity="0.9">Niger</text>
<text x="1106.2" y="810.0" font-family='"Liberation Sans", sans-serif' font-size="11.69" fill="#7a6030" textLength="32.5" lengthAdjust="spacingAndGlyphs" fill-opacity="0.9">22.3m</text>
<text x="810.0" y="817.5" font-family='"Liberation Sans", sans-serif' font-size="11.33" fill="#50c850" textLength="110.0" lengthAdjust="spacingAndGlyphs" fill-opacity="0.7">Western Sahara 0.6m</text>
<text x="823.8" y="830.5" font-family='"Liberation Sans", sans-serif' font-size="11.33" fill="#f8a858" textLength="81.2" lengthAdjust="spacingAndGlyphs" fill-opacity="0.9">Mauritania 4.5m</text>
<text x="942.0" y="827.5" font-family='"Liberation Sans", sans-serif' font-size="11.12" fill="#f4bcd4" textLength="65.5" lengthAdjust="spacingAndGlyphs" fill-opacity="0.9">Burkina Faso</text>
<text x="984.5" y="838.0" font-family='"Liberation Sans", sans-serif' font-size="11.82" fill="#f4bcd4" textLength="23.0" lengthAdjust="spacingAndGlyphs" fill-opacity="0.9">20m</text>
<text x="908.0" y="850.0" font-family='"Liberation Sans", sans-serif' font-size="10.90" fill="#d4fff0" textLength="40.0" lengthAdjust="spacingAndGlyphs" fill-opacity="0.9">Senegal</text>
<text x="927.0" y="862.0" font-family='"Liberation Sans", sans-serif' font-size="10.79" fill="#d4fff0" textLength="21.0" lengthAdjust="spacingAndGlyphs" fill-opacity="0.9">16.3</text>
<text x="821.2" y="862.5" font-family='"Liberation Sans", sans-serif' font-size="11.25" fill="#f0687c" textLength="67.5" lengthAdjust="spacingAndGlyphs" fill-opacity="0.9">Gambia 2.2m</text>
<text x="791.0" y="881.0" font-family='"Liberation Sans", sans-serif' font-size="10.87" fill="#f89848" textLength="98.5" lengthAdjust="spacingAndGlyphs">Guinea-Bissau 1.9m</text>
<text x="791.0" y="897.5" font-family='"Liberation Sans", sans-serif' font-size="12.10" fill="#20c8b0" textLength="76.0" lengthAdjust="spacingAndGlyphs" fill-opacity="0.7">Guinea 13.1m</text>
<text x="1013.0" y="870.0" font-family='"Liberation Sans", sans-serif' font-size="29.20" fill="#e4ffec" textLength="92.5" lengthAdjust="spacingAndGlyphs" fill-opacity="0.9">Nigeria</text>
<text x="1015.5" y="900.5" font-family='"Liberation Sans", sans-serif' font-size="29.78" fill="#e4ffec" textLength="74.5" lengthAdjust="spacingAndGlyphs" fill-opacity="0.9">196m</text>
<text x="1145.0" y="836.2" font-family='"Liberation Sans", sans-serif' font-size="14.87" fill="#e4e4ff" textLength="43.0" lengthAdjust="spacingAndGlyphs" fill-opacity="0.9">Sudan</text>
<text x="1145.0" y="850.5" font-family='"Liberation Sans", sans-serif' font-size="15.47" fill="#e4e4ff" textLength="43.0" lengthAdjust="spacingAndGlyphs" fill-opacity="0.9">41.5m</text>
<text x="1232.0" y="870.0" font-family='"Liberation Sans", sans-serif' font-size="22.97" fill="#f4d4e8" textLength="83.0" lengthAdjust="spacingAndGlyphs" fill-opacity="0.9">Ethiopia</text>
<text x="1235.0" y="894.5" font-family='"Liberation Sans", sans-serif' font-size="23.23" fill="#f4d4e8" textLength="77.5" lengthAdjust="spacingAndGlyphs" fill-opacity="0.9">107.5m</text>
<text x="1166.2" y="878.0" font-family='"Liberation Sans", sans-serif' font-size="9.09" fill="#ecc0dc" textLength="23.8" lengthAdjust="spacingAndGlyphs" fill-opacity="0.8">South</text>
<text x="1165.0" y="887.5" font-family='"Liberation Sans", sans-serif' font-size="8.65" fill="#ecc0dc" textLength="25.0" lengthAdjust="spacingAndGlyphs" fill-opacity="0.8">Sudan</text>
<text x="1167.0" y="897.5" font-family='"Liberation Sans", sans-serif' font-size="7.83" fill="#ecc0dc" textLength="21.8" lengthAdjust="spacingAndGlyphs" fill-opacity="0.8">12.9m</text>
<text x="1111.2" y="918.8" font-family='"Liberation Sans", sans-serif' font-size="9.41" fill="#e4d4bc" textLength="22.5" lengthAdjust="spacingAndGlyphs" fill-opacity="0.9">Chad</text>
<text x="1111.2" y="928.0" font-family='"Liberation Sans", sans-serif' font-size="9.44" fill="#e4d4bc" textLength="26.2" lengthAdjust="spacingAndGlyphs" fill-opacity="0.9">15.4m</text>
<text x="1150.0" y="928.0" font-family='"Liberation Sans", sans-serif' font-size="16.77" fill="#8a6a20" textLength="58.8" lengthAdjust="spacingAndGlyphs" fill-opacity="0.9">Uganda</text>
<text x="1155.0" y="938.8" font-family='"Liberation Sans", sans-serif' font-size="17.54" fill="#8a6a20" textLength="48.8" lengthAdjust="spacingAndGlyphs" fill-opacity="0.9">44.3m</text>
<text x="1227.5" y="955.0" font-family='"Liberation Sans", sans-serif' font-size="20.28" fill="#702858" textLength="57.5" lengthAdjust="spacingAndGlyphs" fill-opacity="0.9">Kenya</text>
<text x="1227.5" y="975.0" font-family='"Liberation Sans", sans-serif' font-size="20.56" fill="#702858" textLength="40.0" lengthAdjust="spacingAndGlyphs" fill-opacity="0.9">51m</text>
<text x="1172.0" y="965.0" font-family='"Liberation Sans", sans-serif' font-size="9.54" fill="#e4d4c4" textLength="35.0" lengthAdjust="spacingAndGlyphs" fill-opacity="0.9">Rwanda</text>
<text x="1173.8" y="973.8" font-family='"Liberation Sans", sans-serif' font-size="11.69" fill="#e4d4c4" textLength="32.5" lengthAdjust="spacingAndGlyphs" fill-opacity="0.9">12.5m</text>
<text x="1179.5" y="993.0" font-family='"Liberation Sans", sans-serif' font-size="9.43" fill="#d4fff8" textLength="32.5" lengthAdjust="spacingAndGlyphs" fill-opacity="0.9">Burundi</text>
<text x="1180.5" y="1001.2" font-family='"Liberation Sans", sans-serif' font-size="9.52" fill="#d4fff8" textLength="25.8" lengthAdjust="spacingAndGlyphs" fill-opacity="0.9">11.2m</text>
<text x="932.0" y="937.5" font-family='"Liberation Sans", sans-serif' font-size="13.07" fill="#8a7a30" textLength="39.2" lengthAdjust="spacingAndGlyphs" fill-opacity="0.9">Ghana</text>
<text x="932.0" y="950.5" font-family='"Liberation Sans", sans-serif' font-size="13.36" fill="#8a7a30" textLength="26.0" lengthAdjust="spacingAndGlyphs" fill-opacity="0.9">30m</text>
<text x="998.0" y="941.2" font-family='"Liberation Sans", sans-serif' font-size="11.04" fill="#f8c848" textLength="28.2" lengthAdjust="spacingAndGlyphs" fill-opacity="0.9">Benin</text>
<text x="998.0" y="953.0" font-family='"Liberation Sans", sans-serif' font-size="11.83" fill="#f8c848" textLength="32.0" lengthAdjust="spacingAndGlyphs" fill-opacity="0.9">11.5m</text>
<text x="970.5" y="971.2" font-family='"Liberation Sans", sans-serif' font-size="11.07" fill="#d468e8" textLength="24.0" lengthAdjust="spacingAndGlyphs" fill-opacity="0.9">Togo</text>
<text x="973.8" y="982.5" font-family='"Liberation Sans", sans-serif' font-size="11.34" fill="#d468e8" textLength="15.8" lengthAdjust="spacingAndGlyphs" fill-opacity="0.9">8m</text>
<text x="908.0" y="881.2" font-family='"Liberation Sans", sans-serif' font-size="10.41" fill="#f4bcd4" textLength="22.0" lengthAdjust="spacingAndGlyphs" fill-opacity="0.8">Côte</text>
<text x="908.0" y="892.5" font-family='"Liberation Sans", sans-serif' font-size="11.20" fill="#f4bcd4" textLength="35.8" lengthAdjust="spacingAndGlyphs" fill-opacity="0.8">d&#x27;Ivoire</text>
<text x="908.0" y="903.0" font-family='"Liberation Sans", sans-serif' font-size="11.51" fill="#f4bcd4" textLength="32.0" lengthAdjust="spacingAndGlyphs" fill-opacity="0.8">24.9m</text>
<text x="1088.8" y="991.2" font-family='"Liberation Sans", sans-serif' font-size="8.83" fill="#f8dcb4" textLength="41.2" lengthAdjust="spacingAndGlyphs" fill-opacity="0.7">Cameroon</text>
<text x="1090.0" y="1000.0" font-family='"Liberation Sans", sans-serif' font-size="8.55" fill="#f8dcb4" textLength="23.8" lengthAdjust="spacingAndGlyphs" fill-opacity="0.7">25.2m</text>
<text x="1192.0" y="1040.0" font-family='"Liberation Sans", sans-serif' font-size="19.17" fill="#703040" textLength="76.8" lengthAdjust="spacingAndGlyphs" fill-opacity="0.9">Tanzania</text>
<text x="1192.0" y="1058.0" font-family='"Liberation Sans", sans-serif' font-size="20.18" fill="#703040" textLength="39.2" lengthAdjust="spacingAndGlyphs" fill-opacity="0.9">59m</text>
<text x="1104.5" y="1063.0" font-family='"Liberation Sans", sans-serif' font-size="14.35" fill="#dcfff0" textLength="75.0" lengthAdjust="spacingAndGlyphs" fill-opacity="0.9">D.R. Congo</text>
<text x="1120.0" y="1079.5" font-family='"Liberation Sans", sans-serif' font-size="14.09" fill="#dcfff0" textLength="59.5" lengthAdjust="spacingAndGlyphs" fill-opacity="0.9">84 million</text>
<text x="974.5" y="1022.5" font-family='"Liberation Sans", sans-serif' font-size="11.23" fill="#98a8b8" textLength="118.0" lengthAdjust="spacingAndGlyphs" fill-opacity="0.9">Equatorial Guinea 1.3m</text>
<text x="1030.0" y="1035.0" font-family='"Liberation Sans", sans-serif' font-size="11.36" fill="#f88848" textLength="62.5" lengthAdjust="spacingAndGlyphs" fill-opacity="0.9">Gabon 2.1m</text>
<text x="1030.0" y="1047.0" font-family='"Liberation Sans", sans-serif' font-size="11.47" fill="#90d848" textLength="62.5" lengthAdjust="spacingAndGlyphs" fill-opacity="0.9">Congo 5.4m</text>
<text x="915.0" y="1058.8" font-family='"Liberation Sans", sans-serif' font-size="11.60" fill="#20c0b0" textLength="148.8" lengthAdjust="spacingAndGlyphs" fill-opacity="0.7">Sao Tome and Principe 0.2m</text>
<text x="1185.0" y="1090.0" font-family='"Liberation Sans", sans-serif' font-size="9.24" fill="#a07030" textLength="28.8" lengthAdjust="spacingAndGlyphs" fill-opacity="0.9">Malawi</text>
<text x="1196.2" y="1100.0" font-family='"Liberation Sans", sans-serif' font-size="8.35" fill="#a07030" textLength="16.2" lengthAdjust="spacingAndGlyphs" fill-opacity="0.9">19.2</text>
<text x="1351.2" y="910.0" font-family='"Liberation Sans", sans-serif' font-size="11.07" fill="#20d0b0" textLength="40.0" lengthAdjust="spacingAndGlyphs" fill-opacity="0.7">Somalia</text>
<text x="1352.5" y="920.5" font-family='"Liberation Sans", sans-serif' font-size="10.79" fill="#20d0b0" textLength="30.0" lengthAdjust="spacingAndGlyphs" fill-opacity="0.7">15.2m</text>
<text x="1518.0" y="998.0" font-family='"Liberation Sans", sans-serif' font-size="11.84" fill="#a8bccc" font-style="italic" textLength="137.5" lengthAdjust="spacingAndGlyphs" fill-opacity="0.9">Mumbai metropolitan area</text>
<text x="1620.5" y="1009.5" font-family='"Liberation Sans", sans-serif' font-size="12.59" fill="#a8bccc" font-style="italic" textLength="35.0" lengthAdjust="spacingAndGlyphs" fill-opacity="0.9">21.5m</text>
<text x="1048.0" y="1106.2" font-family='"Liberation Sans", sans-serif' font-size="16.70" fill="#4898f8" textLength="52.0" lengthAdjust="spacingAndGlyphs" fill-opacity="0.9">Angola</text>
<text x="1013.8" y="1124.5" font-family='"Liberation Sans", sans-serif' font-size="17.05" fill="#4898f8" textLength="86.2" lengthAdjust="spacingAndGlyphs" fill-opacity="0.9">30.8 million</text>
<text x="1126.2" y="1182.0" font-family='"Liberation Sans", sans-serif' font-size="10.57" fill="#e4ece8" textLength="48.8" lengthAdjust="spacingAndGlyphs" fill-opacity="0.9">Zimbabwe</text>
<text x="1133.8" y="1190.5" font-family='"Liberation Sans", sans-serif' font-size="9.64" fill="#e4ece8" textLength="18.8" lengthAdjust="spacingAndGlyphs" fill-opacity="0.9">17m</text>
<text x="1150.0" y="1148.0" font-family='"Liberation Sans", sans-serif' font-size="9.75" fill="#f8ccf0" textLength="32.5" lengthAdjust="spacingAndGlyphs" fill-opacity="0.8">Zambia</text>
<text x="1155.0" y="1158.0" font-family='"Liberation Sans", sans-serif' font-size="8.10" fill="#f8ccf0" textLength="22.5" lengthAdjust="spacingAndGlyphs" fill-opacity="0.8">17.7m</text>
<text x="1027.0" y="1187.0" font-family='"Liberation Sans", sans-serif' font-size="11.43" fill="#f8a038" textLength="70.5" lengthAdjust="spacingAndGlyphs" fill-opacity="0.9">Namibia 2.6m</text>
<text x="1012.0" y="1214.5" font-family='"Liberation Sans", sans-serif' font-size="11.68" fill="#e068b0" textLength="80.5" lengthAdjust="spacingAndGlyphs" fill-opacity="0.9">Botswana 2.3m</text>
<text x="968.8" y="1269.5" font-family='"Liberation Sans", sans-serif' font-size="17.37" fill="#d88878" textLength="146.8" lengthAdjust="spacingAndGlyphs" fill-opacity="0.9">South Africa 57.4m</text>
<text x="1220.0" y="1237.0" font-family='"Liberation Sans", sans-serif' font-size="11.40" fill="#f8a8a0" textLength="80.5" lengthAdjust="spacingAndGlyphs" fill-opacity="0.9">Swaziland 1.4m</text>
<text x="1196.2" y="1267.0" font-family='"Liberation Sans", sans-serif' font-size="11.55" fill="#20d098" textLength="70.0" lengthAdjust="spacingAndGlyphs" fill-opacity="0.7">Lesotho 2.3m</text>
<text x="1223.8" y="1216.2" font-family='"Liberation Sans", sans-serif' font-size="17.36" fill="#20d0b0" textLength="152.5" lengthAdjust="spacingAndGlyphs" fill-opacity="0.8">Mozambique 30.5m</text>
<text x="1298.8" y="1178.8" font-family='"Liberation Sans", sans-serif' font-size="16.81" fill="#50d850" textLength="92.5" lengthAdjust="spacingAndGlyphs" fill-opacity="0.8">Madagascar</text>
<text x="1298.8" y="1196.2" font-family='"Liberation Sans", sans-serif' font-size="16.87" fill="#50d850" textLength="71.2" lengthAdjust="spacingAndGlyphs" fill-opacity="0.8">26 million</text>
<text x="1359.5" y="1140.0" font-family='"Liberation Sans", sans-serif' font-size="11.22" fill="#f8c858" textLength="45.5" lengthAdjust="spacingAndGlyphs" fill-opacity="0.9">Mauritius</text>
<text x="1360.0" y="1151.2" font-family='"Liberation Sans", sans-serif' font-size="11.25" fill="#f8c858" textLength="25.0" lengthAdjust="spacingAndGlyphs" fill-opacity="0.9">1.3m</text>
<text x="1330.5" y="1163.8" font-family='"Liberation Sans", sans-serif' font-size="11.27" fill="#d860d0" textLength="60.8" lengthAdjust="spacingAndGlyphs" fill-opacity="0.9">Reunion 1m</text>
<text x="1321.2" y="1050.5" font-family='"Liberation Sans", sans-serif' font-size="11.24" fill="#f088a8" textLength="82.5" lengthAdjust="spacingAndGlyphs" fill-opacity="0.9">Seychelles 0.1m</text>
<text x="1267.5" y="1078.8" font-family='"Liberation Sans", sans-serif' font-size="11.63" fill="#20c8b0" textLength="76.2" lengthAdjust="spacingAndGlyphs" fill-opacity="0.7">Comoros 0.8m</text>
<text x="1292.0" y="1095.0" font-family='"Liberation Sans", sans-serif' font-size="11.55" fill="#98a8b8" textLength="70.0" lengthAdjust="spacingAndGlyphs" fill-opacity="0.9">Mayotte 0.3m</text>
<text x="2085.0" y="667.5" font-family='"Liberation Sans", sans-serif' font-size="52.62" fill="#4a5a64" textLength="137.5" lengthAdjust="spacingAndGlyphs" fill-opacity="0.9">China</text>
<text x="2085.0" y="705.0" font-family='"Liberation Sans", sans-serif' font-size="44.13" fill="#4a5a64" textLength="211.0" lengthAdjust="spacingAndGlyphs" fill-opacity="0.9">1.42 billion</text>
<text x="2085.0" y="722.5" font-family='"Liberation Sans", sans-serif' font-size="15.29" fill="#5a6a74" textLength="201.5" lengthAdjust="spacingAndGlyphs" fill-opacity="0.9">18.5% of the world population</text>
<text x="1689.0" y="872.5" font-family='"Liberation Sans", sans-serif' font-size="49.34" fill="#4a5a50" textLength="107.0" lengthAdjust="spacingAndGlyphs" fill-opacity="0.9">India</text>
<text x="1689.0" y="919.0" font-family='"Liberation Sans", sans-serif' font-size="42.25" fill="#4a5a50" textLength="202.0" lengthAdjust="spacingAndGlyphs" fill-opacity="0.9">1.35 billion</text>
<text x="1689.0" y="935.0" font-family='"Liberation Sans", sans-serif' font-size="14.69" fill="#5a6a5a" textLength="193.5" lengthAdjust="spacingAndGlyphs" fill-opacity="0.9">17.7% of the world population</text>
<text x="1878.5" y="687.5" font-family='"Liberation Sans", sans-serif' font-size="19.22" fill="#5088f8" textLength="109.0" lengthAdjust="spacingAndGlyphs" fill-opacity="0.9">Nepal 29.6m</text>
<text x="1955.0" y="731.0" font-family='"Liberation Sans", sans-serif' font-size="11.90" fill="#c0c040" textLength="67.5" lengthAdjust="spacingAndGlyphs" fill-opacity="0.7">Bhutan 0.8m</text>
<text x="2107.5" y="533.5" font-family='"Liberation Sans", sans-serif' font-size="11.35" fill="#40e050" textLength="65.0" lengthAdjust="spacingAndGlyphs" fill-opacity="0.8">Mongolia 3m</text>
<text x="2337.5" y="573.5" font-family='"Liberation Sans", sans-serif' font-size="10.85" fill="#a0b8cc" font-style="italic" textLength="120.0" lengthAdjust="spacingAndGlyphs" fill-opacity="0.9">Beijing metropolitan area</text>
<text x="2337.5" y="583.5" font-family='"Liberation Sans", sans-serif' font-size="11.69" fill="#a0b8cc" font-style="italic" textLength="32.5" lengthAdjust="spacingAndGlyphs" fill-opacity="0.9">24.5m</text>
<text x="1955.0" y="889.0" font-family='"Liberation Sans", sans-serif' font-size="21.58" fill="#e4f4ff" textLength="114.0" lengthAdjust="spacingAndGlyphs" fill-opacity="0.9">Bangladesh</text>
<text x="1955.0" y="911.0" font-family='"Liberation Sans", sans-serif' font-size="22.19" fill="#e4f4ff" textLength="74.0" lengthAdjust="spacingAndGlyphs" fill-opacity="0.9">166.4m</text>
<text x="2075.0" y="918.5" font-family='"Liberation Sans", sans-serif' font-size="15.60" fill="#dce4e8" textLength="65.0" lengthAdjust="spacingAndGlyphs" fill-opacity="0.9">Myanmar</text>
<text x="2075.0" y="935.0" font-family='"Liberation Sans", sans-serif' font-size="15.42" fill="#dce4e8" textLength="30.0" lengthAdjust="spacingAndGlyphs" fill-opacity="0.9">54m</text>
<text x="2191.0" y="941.5" font-family='"Liberation Sans", sans-serif' font-size="9.91" fill="#b4f0d4" textLength="21.5" lengthAdjust="spacingAndGlyphs" fill-opacity="0.9">Laos</text>
<text x="2200.0" y="952.5" font-family='"Liberation Sans", sans-serif' font-size="10.08" fill="#b4f0d4" textLength="14.0" lengthAdjust="spacingAndGlyphs" fill-opacity="0.9">7m</text>
<text x="2239.0" y="907.5" font-family='"Liberation Sans", sans-serif' font-size="25.61" fill="#20d8e8" textLength="93.5" lengthAdjust="spacingAndGlyphs" fill-opacity="0.9">Vietnam</text>
<text x="2239.0" y="935.0" font-family='"Liberation Sans", sans-serif' font-size="26.44" fill="#20d8e8" textLength="73.5" lengthAdjust="spacingAndGlyphs" fill-opacity="0.9">96.5m</text>
<text x="2060.0" y="1050.0" font-family='"Liberation Sans", sans-serif' font-size="20.20" fill="#d868d8" textLength="77.5" lengthAdjust="spacingAndGlyphs" fill-opacity="0.9">Thailand</text>
<text x="2095.0" y="1071.0" font-family='"Liberation Sans", sans-serif' font-size="21.85" fill="#d868d8" textLength="42.5" lengthAdjust="spacingAndGlyphs" fill-opacity="0.9">69m</text>
<text x="2150.0" y="1045.0" font-family='"Liberation Sans", sans-serif' font-size="12.07" fill="#f8a4a4" textLength="55.0" lengthAdjust="spacingAndGlyphs" fill-opacity="0.9">Cambodia</text>
<text x="2165.0" y="1057.5" font-family='"Liberation Sans", sans-serif' font-size="14.39" fill="#f8a4a4" textLength="40.0" lengthAdjust="spacingAndGlyphs" fill-opacity="0.9">16.2m</text>
<text x="2344.0" y="771.5" font-family='"Liberation Sans", sans-serif' font-size="13.46" fill="#f8a838" textLength="101.0" lengthAdjust="spacingAndGlyphs" fill-opacity="0.9">Hong Kong 7.4m</text>
<text x="2297.5" y="820.0" font-family='"Liberation Sans", sans-serif' font-size="11.36" fill="#90d040" textLength="62.5" lengthAdjust="spacingAndGlyphs" fill-opacity="0.8">Macao 0.6m</text>
<text x="2427.5" y="815.0" font-family='"Liberation Sans", sans-serif' font-size="14.94" fill="#20d0b0" textLength="46.5" lengthAdjust="spacingAndGlyphs" fill-opacity="0.8">Taiwan</text>
<text x="2427.5" y="831.5" font-family='"Liberation Sans", sans-serif' font-size="15.29" fill="#20d0b0" textLength="42.5" lengthAdjust="spacingAndGlyphs" fill-opacity="0.8">23.7m</text>
<text x="2502.5" y="494.0" font-family='"Liberation Sans", sans-serif' font-size="17.38" fill="#20b878" textLength="42.5" lengthAdjust="spacingAndGlyphs" fill-opacity="0.8">North</text>
<text x="2502.5" y="511.0" font-family='"Liberation Sans", sans-serif' font-size="16.86" fill="#20b878" textLength="45.0" lengthAdjust="spacingAndGlyphs" fill-opacity="0.8">Korea</text>
<text x="2502.5" y="527.5" font-family='"Liberation Sans", sans-serif' font-size="17.09" fill="#20b878" textLength="47.5" lengthAdjust="spacingAndGlyphs" fill-opacity="0.8">25.5m</text>
<text x="2547.5" y="584.0" font-family='"Liberation Sans", sans-serif' font-size="21.62" fill="#f8a868" textLength="56.5" lengthAdjust="spacingAndGlyphs" fill-opacity="0.9">South</text>
<text x="2547.5" y="606.0" font-family='"Liberation Sans", sans-serif' font-size="21.17" fill="#f8a868" textLength="56.5" lengthAdjust="spacingAndGlyphs" fill-opacity="0.9">Korea</text>
<text x="2547.5" y="625.0" font-family='"Liberation Sans", sans-serif' font-size="21.85" fill="#f8a868" textLength="42.5" lengthAdjust="spacingAndGlyphs" fill-opacity="0.9">51m</text>
<text x="2510.0" y="967.5" font-family='"Liberation Sans", sans-serif' font-size="23.26" fill="#c070f8" textLength="112.5" lengthAdjust="spacingAndGlyphs" fill-opacity="0.9">Philippines</text>
<text x="2512.5" y="992.5" font-family='"Liberation Sans", sans-serif' font-size="23.68" fill="#c070f8" textLength="79.0" lengthAdjust="spacingAndGlyphs" fill-opacity="0.9">106.5m</text>
<text x="1744.0" y="736.5" font-family='"Liberation Sans", sans-serif' font-size="11.90" fill="#8a7a28" font-style="italic" textLength="143.5" lengthAdjust="spacingAndGlyphs" fill-opacity="0.9">Uttar Pradesh – 220 million</text>
<text x="1744.0" y="748.5" font-family='"Liberation Sans", sans-serif' font-size="11.95" fill="#8a7a28" font-style="italic" textLength="144.5" lengthAdjust="spacingAndGlyphs" fill-opacity="0.9">India&#x27;s most populous state</text>
<text x="2675.0" y="585.5" font-family='"Liberation Sans", sans-serif' font-size="38.54" fill="#f06888" textLength="105.0" lengthAdjust="spacingAndGlyphs" fill-opacity="0.9">Japan</text>
<text x="2678.8" y="629.5" font-family='"Liberation Sans", sans-serif' font-size="37.48" fill="#f06888" textLength="93.8" lengthAdjust="spacingAndGlyphs" fill-opacity="0.9">127m</text>
<text x="2600.0" y="707.5" font-family='"Liberation Sans", sans-serif' font-size="11.99" fill="#a8bccc" font-style="italic" textLength="105.5" lengthAdjust="spacingAndGlyphs" fill-opacity="0.9">Tokyo – 38.3 million</text>
<text x="2600.0" y="718.8" font-family='"Liberation Sans", sans-serif' font-size="11.84" fill="#a8bccc" font-style="italic" textLength="190.5" lengthAdjust="spacingAndGlyphs" fill-opacity="0.9">the world&#x27;s largest metropolitan area</text>
<text x="2223.8" y="1120.5" font-family='"Liberation Sans", sans-serif' font-size="19.64" fill="#f8a858" textLength="77.5" lengthAdjust="spacingAndGlyphs" fill-opacity="0.9">Malaysia</text>
<text x="2242.0" y="1140.5" font-family='"Liberation Sans", sans-serif' font-size="20.56" fill="#f8a858" textLength="40.0" lengthAdjust="spacingAndGlyphs" fill-opacity="0.9">32m</text>
<text x="2239.5" y="1216.2" font-family='"Liberation Sans", sans-serif' font-size="28.60" fill="#18d868" textLength="203.5" lengthAdjust="spacingAndGlyphs" fill-opacity="0.85">Indonesia 267m</text>
<text x="2252.0" y="1260.5" font-family='"Liberation Sans", sans-serif' font-size="16.46" fill="#c4ffdc" font-style="italic" textLength="131.8" lengthAdjust="spacingAndGlyphs" fill-opacity="0.9">Java – 145 million</text>
<text x="2252.0" y="1278.8" font-family='"Liberation Sans", sans-serif' font-size="13.90" fill="#c4ffdc" font-style="italic" textLength="200.5" lengthAdjust="spacingAndGlyphs" fill-opacity="0.9">the world&#x27;s most populous island</text>
<text x="2287.5" y="1095.5" font-family='"Liberation Sans", sans-serif' font-size="11.36" fill="#f088c0" textLength="61.2" lengthAdjust="spacingAndGlyphs" fill-opacity="0.9">Brunei 0.4m</text>
<text x="2238.0" y="1165.5" font-family='"Liberation Sans", sans-serif' font-size="10.58" fill="#40a8e8" textLength="48.2" lengthAdjust="spacingAndGlyphs" fill-opacity="0.7">Singapore</text>
<text x="2238.0" y="1175.0" font-family='"Liberation Sans", sans-serif' font-size="11.02" fill="#40a8e8" textLength="24.5" lengthAdjust="spacingAndGlyphs" fill-opacity="0.7">5.8m</text>
<text x="2521.2" y="1226.2" font-family='"Liberation Sans", sans-serif' font-size="10.62" fill="#e068c8" textLength="26.8" lengthAdjust="spacingAndGlyphs" fill-opacity="0.9">Timor</text>
<text x="2521.2" y="1236.2" font-family='"Liberation Sans", sans-serif' font-size="11.25" fill="#e068c8" textLength="25.0" lengthAdjust="spacingAndGlyphs" fill-opacity="0.9">1.3m</text>
<text x="2555.8" y="1070.1" font-family='"Liberation Sans", sans-serif' font-size="21.73" fill="#c8d8e4" textLength="248.9" lengthAdjust="spacingAndGlyphs" fill-opacity="0.9">Oceania in total 41 million</text>
<text x="2555.8" y="1084.6" font-family='"Liberation Sans", sans-serif' font-size="14.50" fill="#c8d8e4" textLength="183.0" lengthAdjust="spacingAndGlyphs" fill-opacity="0.8">0.5% of the world population</text>
<text x="2583.3" y="1111.3" font-family='"Liberation Sans", sans-serif' font-size="11.53" fill="#28c0e0" textLength="76.3" lengthAdjust="spacingAndGlyphs" fill-opacity="0.7">Guam 163,000</text>
<text x="2568.2" y="1126.3" font-family='"Liberation Sans", sans-serif' font-size="11.58" fill="#20c0a8" textLength="68.2" lengthAdjust="spacingAndGlyphs" fill-opacity="0.7">Palau 21,500</text>
<text x="2557.8" y="1144.0" font-family='"Liberation Sans", sans-serif' font-size="11.08" fill="#e8608c" textLength="53.6" lengthAdjust="spacingAndGlyphs" fill-opacity="0.9">Micronesia</text>
<text x="2585.9" y="1155.4" font-family='"Liberation Sans", sans-serif' font-size="11.46" fill="#e8608c" textLength="25.5" lengthAdjust="spacingAndGlyphs" fill-opacity="0.9">0.1m</text>
<text x="2636.1" y="1155.4" font-family='"Liberation Sans", sans-serif' font-size="11.31" fill="#f59060" textLength="118.8" lengthAdjust="spacingAndGlyphs" fill-opacity="0.9">Marshall islands 53,000</text>
<text x="2591.9" y="1185.5" font-family='"Liberation Sans", sans-serif' font-size="11.39" fill="#e8c830" textLength="127.2" lengthAdjust="spacingAndGlyphs" fill-opacity="0.9">Papua New Guinea 8.4m</text>
<text x="2727.8" y="1200.6" font-family='"Liberation Sans", sans-serif' font-size="11.68" fill="#f0607e" textLength="80.3" lengthAdjust="spacingAndGlyphs" fill-opacity="0.9">Kiribati 114,000</text>
<text x="2570.2" y="1205.0" font-family='"Liberation Sans", sans-serif' font-size="11.59" fill="#28c0e0" textLength="45.8" lengthAdjust="spacingAndGlyphs" fill-opacity="0.7">Solomon</text>
<text x="2554.6" y="1215.6" font-family='"Liberation Sans", sans-serif' font-size="11.26" fill="#28c0e0" textLength="63.8" lengthAdjust="spacingAndGlyphs" fill-opacity="0.7">Islands 0.6m</text>
<text x="2556.6" y="1231.1" font-family='"Liberation Sans", sans-serif' font-size="11.35" fill="#f59060" textLength="69.8" lengthAdjust="spacingAndGlyphs" fill-opacity="0.9">Vanuatu 0.3m</text>
<text x="2675.0" y="1231.1" font-family='"Liberation Sans", sans-serif' font-size="11.47" fill="#d868d8" textLength="71.4" lengthAdjust="spacingAndGlyphs" fill-opacity="0.9">Tuvalu 11,000</text>
<text x="2558.6" y="1247.8" font-family='"Liberation Sans", sans-serif' font-size="11.33" fill="#f088b8" textLength="76.9" lengthAdjust="spacingAndGlyphs" fill-opacity="0.9">New Caledonia</text>
<text x="2610.0" y="1259.8" font-family='"Liberation Sans", sans-serif' font-size="11.46" fill="#f088b8" textLength="25.5" lengthAdjust="spacingAndGlyphs" fill-opacity="0.9">0.3m</text>
<text x="2681.6" y="1245.8" font-family='"Liberation Sans", sans-serif' font-size="11.33" fill="#20c0a8" textLength="64.2" lengthAdjust="spacingAndGlyphs" fill-opacity="0.7">Samoa 0.2m</text>
<text x="2749.9" y="1250.8" font-family='"Liberation Sans", sans-serif' font-size="10.96" fill="#28c0e0" textLength="34.1" lengthAdjust="spacingAndGlyphs" fill-opacity="0.7">French</text>
<text x="2750.9" y="1261.8" font-family='"Liberation Sans", sans-serif' font-size="10.88" fill="#28c0e0" textLength="47.2" lengthAdjust="spacingAndGlyphs" fill-opacity="0.7">Polynesia</text>
<text x="2750.9" y="1272.8" font-family='"Liberation Sans", sans-serif' font-size="11.28" fill="#28c0e0" textLength="25.1" lengthAdjust="spacingAndGlyphs" fill-opacity="0.7">0.3m</text>
<text x="2674.6" y="1265.2" font-family='"Liberation Sans", sans-serif' font-size="11.05" fill="#e84080" textLength="41.7" lengthAdjust="spacingAndGlyphs" fill-opacity="0.9">Fiji 0.9m</text>
<text x="2743.8" y="1283.3" font-family='"Liberation Sans", sans-serif' font-size="11.00" fill="#80d040" textLength="53.2" lengthAdjust="spacingAndGlyphs" fill-opacity="0.7">Niue 1,600</text>
<text x="2692.3" y="1298.5" font-family='"Liberation Sans", sans-serif' font-size="10.35" fill="#f0607e" textLength="94.3" lengthAdjust="spacingAndGlyphs" fill-opacity="0.9">Cook Islands 17,500</text>
<text x="2728.8" y="1313.4" font-family='"Liberation Sans", sans-serif' font-size="11.59" fill="#c868e8" textLength="76.7" lengthAdjust="spacingAndGlyphs" fill-opacity="0.9">Tonga 107,000</text>
<text x="2561.2" y="1326.0" font-family='"Liberation Sans", sans-serif' font-size="14.80" fill="#f8d878" textLength="57.6" lengthAdjust="spacingAndGlyphs" fill-opacity="0.9">Australia</text>
<text x="2575.9" y="1340.7" font-family='"Liberation Sans", sans-serif' font-size="15.45" fill="#f8d878" textLength="42.9" lengthAdjust="spacingAndGlyphs" fill-opacity="0.9">24.8m</text>
<text x="2644.1" y="1340.1" font-family='"Liberation Sans", sans-serif' font-size="12.91" fill="#f890c8" textLength="108.4" lengthAdjust="spacingAndGlyphs" fill-opacity="0.9">New Zealand 4.7m</text>
<text x="1811.2" y="1298.8" font-family='"Liberation Sans", sans-serif' font-size="13.30" fill="#e070a8" textLength="85.8" lengthAdjust="spacingAndGlyphs" fill-opacity="0.9">Sri Lanka 21m</text>
<text x="1567.5" y="1253.0" font-family='"Liberation Sans", sans-serif' font-size="11.32" fill="#f088c0" textLength="73.0" lengthAdjust="spacingAndGlyphs" fill-opacity="0.9">Maldives 0.4m</text>
<text x="87.8" y="201.2" font-family='"Liberation Sans", sans-serif' font-size="112.00" fill="#ffffff" font-weight="bold" textLength="1133.4" lengthAdjust="spacingAndGlyphs" stroke="#ffffff" stroke-width="5" stroke-linejoin="round">HARI PENDUDUK</text>
<text x="88.8" y="318.3" font-family='"Liberation Sans", sans-serif' font-size="112.00" fill="#ffffff" font-weight="bold" textLength="600.0" lengthAdjust="spacingAndGlyphs" stroke="#ffffff" stroke-width="5" stroke-linejoin="round">SEDUNIA</text>
<text x="87.8" y="435.8" font-family='"Liberation Sans", sans-serif' font-size="112.00" fill="#ffffff" font-weight="bold" textLength="300.8" lengthAdjust="spacingAndGlyphs" stroke="#ffffff" stroke-width="5" stroke-linejoin="round">2022</text>
<rect x="1299.2" y="62" width="14" height="224.3" fill="#ec4a82"/>
<text x="1388.5" y="152.2" font-family='"Liberation Sans", sans-serif' font-size="52.00" fill="#ffffff" font-weight="bold" textLength="1969.4" lengthAdjust="spacingAndGlyphs" stroke="#ffffff" stroke-width="1.2">Dunia Menuju 8 bilion Penduduk: Bagaimanakah pertumbuhan</text>
<text x="1388.5" y="223.8" font-family='"Liberation Sans", sans-serif' font-size="52.00" fill="#ffffff" font-weight="bold" textLength="1556.1" lengthAdjust="spacingAndGlyphs" stroke="#ffffff" stroke-width="1.2">penduduk dunia berubah dari semasa ke semasa?</text>
<circle cx="2834" cy="497.7" r="9" fill="#ffffff"/>
<circle cx="2834" cy="672" r="9" fill="#ffffff"/>
<circle cx="2834" cy="852.8" r="9" fill="#ffffff"/>
<circle cx="2834" cy="987.2" r="9" fill="#ffffff"/>
<text x="2867.2" y="500.8" font-family='"Liberation Sans", sans-serif' font-size="35.50" fill="#ec4a82" font-weight="bold" textLength="177.5" lengthAdjust="spacingAndGlyphs" stroke="#ec4a82" stroke-width="1.6">2.77 Juta</text>
<text x="3055.8" y="500.8" font-family='"Liberation Sans", sans-serif' font-size="35.50" fill="#ffffff" textLength="321.8" lengthAdjust="spacingAndGlyphs" stroke="#ffffff" stroke-width="0.7">- China dan India</text>
<text x="2867.2" y="545.2" font-family='"Liberation Sans", sans-serif' font-size="35.50" fill="#ffffff" textLength="548.5" lengthAdjust="spacingAndGlyphs" stroke="#ffffff" stroke-width="0.7">memiliki  lebih 1/3 penduduk</text>
<text x="2867.2" y="589.6" font-family='"Liberation Sans", sans-serif' font-size="35.50" fill="#ffffff" textLength="117.3" lengthAdjust="spacingAndGlyphs" stroke="#ffffff" stroke-width="0.7">dunia.</text>
<text x="2867.2" y="683.2" font-family='"Liberation Sans", sans-serif' font-size="35.50" fill="#ec4a82" font-weight="bold" textLength="263.1" lengthAdjust="spacingAndGlyphs" stroke="#ec4a82" stroke-width="1.6">6 daripada 10</text>
<text x="3141.4" y="683.2" font-family='"Liberation Sans", sans-serif' font-size="35.50" fill="#ffffff" textLength="225.1" lengthAdjust="spacingAndGlyphs" stroke="#ffffff" stroke-width="0.7">- Penduduk</text>
<text x="2867.2" y="727.5" font-family='"Liberation Sans", sans-serif' font-size="35.50" fill="#ffffff" textLength="470.8" lengthAdjust="spacingAndGlyphs" stroke="#ffffff" stroke-width="0.7">dunia tinggal di Asia dan</text>
<text x="2867.2" y="771.9" font-family='"Liberation Sans", sans-serif' font-size="35.50" fill="#ffffff" textLength="163.3" lengthAdjust="spacingAndGlyphs" stroke="#ffffff" stroke-width="0.7">Oceania.</text>
<text x="2867.2" y="863.9" font-family='"Liberation Sans", sans-serif' font-size="35.50" fill="#ec4a82" font-weight="bold" textLength="237.8" lengthAdjust="spacingAndGlyphs" stroke="#ec4a82" stroke-width="1.6">1 daripada 6</text>
<text x="3117.7" y="863.9" font-family='"Liberation Sans", sans-serif' font-size="35.50" fill="#ffffff" textLength="222.9" lengthAdjust="spacingAndGlyphs" stroke="#ffffff" stroke-width="0.7">- Penduduk</text>
<text x="2867.2" y="908.3" font-family='"Liberation Sans", sans-serif' font-size="35.50" fill="#ffffff" textLength="434.4" lengthAdjust="spacingAndGlyphs" stroke="#ffffff" stroke-width="0.7">dunia tinggal di Afrika.</text>
<text x="2867.2" y="996.7" font-family='"Liberation Sans", sans-serif' font-size="35.50" fill="#ec4a82" font-weight="bold" textLength="49.8" lengthAdjust="spacingAndGlyphs" stroke="#ec4a82" stroke-width="1.6">2X</text>
<text x="2929.0" y="996.7" font-family='"Liberation Sans", sans-serif' font-size="35.50" fill="#ffffff" textLength="390.0" lengthAdjust="spacingAndGlyphs" stroke="#ffffff" stroke-width="0.7">- Saiz populasi China</text>
<text x="2867.2" y="1041.1" font-family='"Liberation Sans", sans-serif' font-size="35.50" fill="#ffffff" textLength="380.5" lengthAdjust="spacingAndGlyphs" stroke="#ffffff" stroke-width="0.7">berbanding Eropah.</text>
<text x="2868.0" y="1274.0" font-family='"Liberation Serif", serif' font-size="33.00" fill="#96706c" font-weight="bold" textLength="115.0" lengthAdjust="spacingAndGlyphs" fill-opacity="0.8">Sumber :</text>
<text x="2868.0" y="1302.7" font-family='"Liberation Sans", sans-serif' font-size="27.00" fill="#96706c" font-style="italic" textLength="535.0" lengthAdjust="spacingAndGlyphs" fill-opacity="0.62">Population Data from the United Nations</text>
<text x="2868.0" y="1332.8" font-family='"Liberation Sans", sans-serif' font-size="27.00" fill="#96706c" font-style="italic" textLength="563.6" lengthAdjust="spacingAndGlyphs" fill-opacity="0.62">Population Division Version 3 (October 2018)</text>
<rect x="1232" y="1429.2" width="13" height="1013" fill="#cdcdcd"/>
<rect x="2374" y="1429.2" width="13.9" height="1013" fill="#cdcdcd"/>
<text x="48.6" y="1483.7" font-family='"Liberation Serif", serif' font-size="40.00" fill="#000" font-weight="bold" textLength="1134.2" lengthAdjust="spacingAndGlyphs" stroke="#000" stroke-width="0.9">Masa Diambil Penduduk Dunia untuk Meningkat Sebanyak 1 Bilion</text>
<rect x="178.2" y="1589.0" width="55.1" height="456.9" fill="#301cc4"/>
<rect x="268.4" y="1676.5" width="54.0" height="369.4" fill="#301cc4"/>
<rect x="358.1" y="1947.1" width="54.0" height="98.8" fill="#301cc4"/>
<rect x="447.2" y="2001.1" width="55.1" height="44.8" fill="#301cc4"/>
<rect x="536.8" y="2009.2" width="54.5" height="36.7" fill="#301cc4"/>
<rect x="626.5" y="2010.3" width="54.5" height="35.6" fill="#301cc4"/>
<rect x="716.1" y="2010.3" width="54.0" height="35.6" fill="#301cc4"/>
<rect x="805.8" y="2006.5" width="54.0" height="39.4" fill="#301cc4"/>
<rect x="895.4" y="2003.8" width="54.5" height="42.1" fill="#301cc4"/>
<rect x="985.1" y="1993.0" width="54.5" height="52.9" fill="#301cc4"/>
<rect x="1074.7" y="1952.0" width="54.5" height="94.0" fill="#301cc4"/>
<rect x="178.2" y="1600.4" width="55.1" height="1.1" fill="#c8c0f0"/>
<rect x="178.2" y="1603.6" width="55.1" height="1.1" fill="#c8c0f0"/>
<rect x="178.2" y="1606.8" width="55.1" height="1.1" fill="#c8c0f0"/>
<rect x="170.1" y="2044.8" width="972.1" height="3.2" fill="#000"/>
<text x="154.5" y="2051.6" font-family='"Liberation Sans", sans-serif' font-size="24.50" fill="#1a1a1a" text-anchor="end" textLength="69.1" lengthAdjust="spacingAndGlyphs">0 years</text>
<text x="154.5" y="2021.5" font-family='"Liberation Sans", sans-serif' font-size="24.50" fill="#1a1a1a" text-anchor="end" textLength="80.8" lengthAdjust="spacingAndGlyphs">10 years</text>
<text x="154.5" y="1991.4" font-family='"Liberation Sans", sans-serif' font-size="24.50" fill="#1a1a1a" text-anchor="end" textLength="80.8" lengthAdjust="spacingAndGlyphs">20 years</text>
<text x="154.5" y="1961.4" font-family='"Liberation Sans", sans-serif' font-size="24.50" fill="#1a1a1a" text-anchor="end" textLength="80.8" lengthAdjust="spacingAndGlyphs">30 years</text>
<text x="154.5" y="1931.3" font-family='"Liberation Sans", sans-serif' font-size="24.50" fill="#1a1a1a" text-anchor="end" textLength="80.8" lengthAdjust="spacingAndGlyphs">40 years</text>
<text x="154.5" y="1901.2" font-family='"Liberation Sans", sans-serif' font-size="24.50" fill="#1a1a1a" text-anchor="end" textLength="80.8" lengthAdjust="spacingAndGlyphs">50 years</text>
<text x="154.5" y="1871.1" font-family='"Liberation Sans", sans-serif' font-size="24.50" fill="#1a1a1a" text-anchor="end" textLength="80.8" lengthAdjust="spacingAndGlyphs">60 years</text>
<text x="154.5" y="1841.0" font-family='"Liberation Sans", sans-serif' font-size="24.50" fill="#1a1a1a" text-anchor="end" textLength="80.8" lengthAdjust="spacingAndGlyphs">70 years</text>
<text x="154.5" y="1810.9" font-family='"Liberation Sans", sans-serif' font-size="24.50" fill="#1a1a1a" text-anchor="end" textLength="80.8" lengthAdjust="spacingAndGlyphs">80 years</text>
<text x="154.5" y="1780.9" font-family='"Liberation Sans", sans-serif' font-size="24.50" fill="#1a1a1a" text-anchor="end" textLength="80.8" lengthAdjust="spacingAndGlyphs">90 years</text>
<text x="154.5" y="1750.8" font-family='"Liberation Sans", sans-serif' font-size="24.50" fill="#1a1a1a" text-anchor="end" textLength="92.5" lengthAdjust="spacingAndGlyphs">100 years</text>
<text x="154.5" y="1720.7" font-family='"Liberation Sans", sans-serif' font-size="24.50" fill="#1a1a1a" text-anchor="end" textLength="91.0" lengthAdjust="spacingAndGlyphs">110 years</text>
<text x="154.5" y="1690.6" font-family='"Liberation Sans", sans-serif' font-size="24.50" fill="#1a1a1a" text-anchor="end" textLength="92.5" lengthAdjust="spacingAndGlyphs">120 years</text>
<text x="154.5" y="1660.5" font-family='"Liberation Sans", sans-serif' font-size="24.50" fill="#1a1a1a" text-anchor="end" textLength="92.5" lengthAdjust="spacingAndGlyphs">130 years</text>
<text x="154.5" y="1630.4" font-family='"Liberation Sans", sans-serif' font-size="24.50" fill="#1a1a1a" text-anchor="end" textLength="92.5" lengthAdjust="spacingAndGlyphs">140 years</text>
<text x="168.5" y="2074.0" font-family='"Liberation Sans", sans-serif' font-size="24.50" fill="#1a1a1a" textLength="69.1" lengthAdjust="spacingAndGlyphs">1 billion</text>
<text x="258.2" y="2074.0" font-family='"Liberation Sans", sans-serif' font-size="24.50" fill="#1a1a1a" textLength="71.3" lengthAdjust="spacingAndGlyphs">2 billion</text>
<text x="350.0" y="2074.0" font-family='"Liberation Sans", sans-serif' font-size="24.50" fill="#1a1a1a" textLength="70.2" lengthAdjust="spacingAndGlyphs">3 billion</text>
<text x="438.5" y="2074.0" font-family='"Liberation Sans", sans-serif' font-size="24.50" fill="#1a1a1a" textLength="70.2" lengthAdjust="spacingAndGlyphs">4 billion</text>
<text x="528.2" y="2074.0" font-family='"Liberation Sans", sans-serif' font-size="24.50" fill="#1a1a1a" textLength="69.7" lengthAdjust="spacingAndGlyphs">5 billion</text>
<text x="620.0" y="2074.0" font-family='"Liberation Sans", sans-serif' font-size="24.50" fill="#1a1a1a" textLength="70.2" lengthAdjust="spacingAndGlyphs">6 billion</text>
<text x="706.4" y="2074.0" font-family='"Liberation Sans", sans-serif' font-size="24.50" fill="#1a1a1a" textLength="70.2" lengthAdjust="spacingAndGlyphs">7 billion</text>
<text x="798.2" y="2074.0" font-family='"Liberation Sans", sans-serif' font-size="24.50" fill="#1a1a1a" textLength="69.7" lengthAdjust="spacingAndGlyphs">8 billion</text>
<text x="884.6" y="2074.0" font-family='"Liberation Sans", sans-serif' font-size="24.50" fill="#1a1a1a" textLength="69.7" lengthAdjust="spacingAndGlyphs">9 billion</text>
<text x="967.8" y="2074.0" font-family='"Liberation Sans", sans-serif' font-size="24.50" fill="#1a1a1a" textLength="82.6" lengthAdjust="spacingAndGlyphs">10 billion</text>
<text x="1061.2" y="2074.0" font-family='"Liberation Sans", sans-serif' font-size="24.50" fill="#1a1a1a" textLength="79.4" lengthAdjust="spacingAndGlyphs">11 billion</text>
<text transform="translate(292.7,1670.0) rotate(-90)" font-family='"Liberation Sans", sans-serif' font-size="24.5" fill="#1a1a1a" textLength="91.8" lengthAdjust="spacingAndGlyphs">124 years</text>
<text transform="translate(317.6,1670.0) rotate(-90)" font-family='"Liberation Sans", sans-serif' font-size="24.5" fill="#1a1a1a" textLength="97.2" lengthAdjust="spacingAndGlyphs">1803-1927</text>
<text transform="translate(382.4,1940.6) rotate(-90)" font-family='"Liberation Sans", sans-serif' font-size="24.5" fill="#1a1a1a" textLength="81.0" lengthAdjust="spacingAndGlyphs">33 years</text>
<text transform="translate(407.2,1940.6) rotate(-90)" font-family='"Liberation Sans", sans-serif' font-size="24.5" fill="#1a1a1a" textLength="97.2" lengthAdjust="spacingAndGlyphs">1927-1960</text>
<text transform="translate(472.0,1994.6) rotate(-90)" font-family='"Liberation Sans", sans-serif' font-size="24.5" fill="#1a1a1a" textLength="81.0" lengthAdjust="spacingAndGlyphs">15 years</text>
<text transform="translate(496.9,1994.6) rotate(-90)" font-family='"Liberation Sans", sans-serif' font-size="24.5" fill="#1a1a1a" textLength="97.2" lengthAdjust="spacingAndGlyphs">1960-1975</text>
<text transform="translate(561.4,2002.7) rotate(-90)" font-family='"Liberation Sans", sans-serif' font-size="24.5" fill="#1a1a1a" textLength="81.0" lengthAdjust="spacingAndGlyphs">12 years</text>
<text transform="translate(586.2,2002.7) rotate(-90)" font-family='"Liberation Sans", sans-serif' font-size="24.5" fill="#1a1a1a" textLength="97.2" lengthAdjust="spacingAndGlyphs">1975-1987</text>
<text transform="translate(651.1,2003.8) rotate(-90)" font-family='"Liberation Sans", sans-serif' font-size="24.5" fill="#1a1a1a" textLength="81.0" lengthAdjust="spacingAndGlyphs">12 years</text>
<text transform="translate(675.9,2003.8) rotate(-90)" font-family='"Liberation Sans", sans-serif' font-size="24.5" fill="#1a1a1a" textLength="97.2" lengthAdjust="spacingAndGlyphs">1987-1999</text>
<text transform="translate(740.4,2003.8) rotate(-90)" font-family='"Liberation Sans", sans-serif' font-size="24.5" fill="#1a1a1a" textLength="81.0" lengthAdjust="spacingAndGlyphs">12 years</text>
<text transform="translate(765.3,2003.8) rotate(-90)" font-family='"Liberation Sans", sans-serif' font-size="24.5" fill="#1a1a1a" textLength="97.2" lengthAdjust="spacingAndGlyphs">1999-2011</text>
<text transform="translate(830.1,2000.0) rotate(-90)" font-family='"Liberation Sans", sans-serif' font-size="24.5" fill="#1a1a1a" textLength="81.0" lengthAdjust="spacingAndGlyphs">13 years</text>
<text transform="translate(854.9,2000.0) rotate(-90)" font-family='"Liberation Sans", sans-serif' font-size="24.5" fill="#1a1a1a" textLength="97.2" lengthAdjust="spacingAndGlyphs">2011-2024</text>
<text transform="translate(920.0,1997.3) rotate(-90)" font-family='"Liberation Sans", sans-serif' font-size="24.5" fill="#1a1a1a" textLength="81.0" lengthAdjust="spacingAndGlyphs">14 years</text>
<text transform="translate(944.9,1997.3) rotate(-90)" font-family='"Liberation Sans", sans-serif' font-size="24.5" fill="#1a1a1a" textLength="97.2" lengthAdjust="spacingAndGlyphs">2024-2038</text>
<text transform="translate(1009.7,1986.5) rotate(-90)" font-family='"Liberation Sans", sans-serif' font-size="24.5" fill="#1a1a1a" textLength="81.0" lengthAdjust="spacingAndGlyphs">18 years</text>
<text transform="translate(1034.5,1986.5) rotate(-90)" font-family='"Liberation Sans", sans-serif' font-size="24.5" fill="#1a1a1a" textLength="97.2" lengthAdjust="spacingAndGlyphs">2038-2056</text>
<text transform="translate(1099.3,1945.5) rotate(-90)" font-family='"Liberation Sans", sans-serif' font-size="24.5" fill="#1a1a1a" textLength="81.0" lengthAdjust="spacingAndGlyphs">32 years</text>
<text transform="translate(1124.2,1945.5) rotate(-90)" font-family='"Liberation Sans", sans-serif' font-size="24.5" fill="#1a1a1a" textLength="97.2" lengthAdjust="spacingAndGlyphs">2056-2088</text>
<text transform="translate(161.5,1583.6) rotate(-90)" font-family='"Liberation Sans", sans-serif' font-size="24.5" fill="#1a1a1a" textLength="49.7" lengthAdjust="spacingAndGlyphs">All of</text>
<text transform="translate(185.8,1583.6) rotate(-90)" font-family='"Liberation Sans", sans-serif' font-size="24.5" fill="#1a1a1a" textLength="60.5" lengthAdjust="spacingAndGlyphs">human</text>
<text transform="translate(211.2,1583.6) rotate(-90)" font-family='"Liberation Sans", sans-serif' font-size="24.5" fill="#1a1a1a" textLength="63.7" lengthAdjust="spacingAndGlyphs">history</text>
<text transform="translate(235.5,1583.6) rotate(-90)" font-family='"Liberation Sans", sans-serif' font-size="24.5" fill="#1a1a1a" textLength="45.9" lengthAdjust="spacingAndGlyphs">up to</text>
<text transform="translate(259.8,1583.6) rotate(-90)" font-family='"Liberation Sans", sans-serif' font-size="24.5" fill="#1a1a1a" textLength="47.5" lengthAdjust="spacingAndGlyphs">1803</text>
<text x="1135.2" y="1559.9" font-family='"Liberation Sans", sans-serif' font-size="24.50" fill="#1a1a1a" text-anchor="end" textLength="633.0" lengthAdjust="spacingAndGlyphs">Data Source : History Database of the Global Environment (HYDE):</text>
<text x="1135.2" y="1589.9" font-family='"Liberation Sans", sans-serif' font-size="24.50" fill="#1a1a1a" text-anchor="end" textLength="457.4" lengthAdjust="spacingAndGlyphs">UN World Population Prospects (2015 Revision):</text>
<text x="1135.2" y="1619.9" font-family='"Liberation Sans", sans-serif' font-size="24.50" fill="#1a1a1a" text-anchor="end" textLength="365.6" lengthAdjust="spacingAndGlyphs">UN Medium Projection (2015 Revision)</text>
<text x="1135.2" y="1649.9" font-family='"Liberation Sans", sans-serif' font-size="24.50" fill="#1a1a1a" text-anchor="end" textLength="449.3" lengthAdjust="spacingAndGlyphs">This is a visualization from OurWorldinData.org.</text>
<text x="1135.2" y="1680.0" font-family='"Liberation Sans", sans-serif' font-size="24.50" fill="#1a1a1a" text-anchor="end" textLength="604.3" lengthAdjust="spacingAndGlyphs">Where you find data and reserach on how the world is changing.</text>
<text x="1135.2" y="1710.0" font-family='"Liberation Sans", sans-serif' font-size="24.50" fill="#1a1a1a" text-anchor="end" textLength="685.4" lengthAdjust="spacingAndGlyphs">Licensed under CC-BY-SA by the author Max Roser and Hannah Ritchie.</text>
<text x="707.5" y="2103.7" font-family='"Liberation Sans", sans-serif' font-size="24.50" fill="#1a1a1a" textLength="143.1" lengthAdjust="spacingAndGlyphs">UN Projections</text>
<polyline points="699.4,2083.2 699.4,2114.5 1120.7,2114.5" fill="none" stroke="#000" stroke-width="2.6"/>
<polygon points="1116.9,2103.2 1138.5,2114.5 1116.9,2125.9" fill="#000"/>
<circle cx="113.4" cy="2195.9" r="9" fill="#2a2a2a"/>
<circle cx="113.4" cy="2299.0" r="9" fill="#2a2a2a"/>
<circle cx="113.4" cy="2374.1" r="9" fill="#2a2a2a"/>
<text x="149.6" y="2199.1" font-family='"Liberation Sans", sans-serif' font-size="27.00" fill="#ec4a82" font-weight="bold" textLength="148.5" lengthAdjust="spacingAndGlyphs" stroke="#ec4a82" stroke-width="1.1">124 tahun</text>
<text x="307.8" y="2199.1" font-family='"Liberation Sans", sans-serif' font-size="27.00" fill="#222222" textLength="655.1" lengthAdjust="spacingAndGlyphs" stroke="#222222" stroke-width="0.45">- Tempoh masa penduduk dunia meningkat</text>
<text x="149.6" y="2234.2" font-family='"Liberation Sans", sans-serif' font-size="27.00" fill="#222222" textLength="239.3" lengthAdjust="spacingAndGlyphs" stroke="#222222" stroke-width="0.45">dari 1 ke 2 bilion.</text>
<text x="149.6" y="2304.4" font-family='"Liberation Sans", sans-serif' font-size="27.00" fill="#ec4a82" font-weight="bold" textLength="133.4" lengthAdjust="spacingAndGlyphs" stroke="#ec4a82" stroke-width="1.1">33 tahun</text>
<text x="292.7" y="2304.4" font-family='"Liberation Sans", sans-serif' font-size="27.00" fill="#222222" textLength="792.8" lengthAdjust="spacingAndGlyphs" stroke="#222222" stroke-width="0.45">- Masa diambil manusia untuk meningkat ke 3 billion.</text>
<text x="149.6" y="2380.1" font-family='"Liberation Sans", sans-serif' font-size="27.00" fill="#ec4a82" font-weight="bold" textLength="128.5" lengthAdjust="spacingAndGlyphs" stroke="#ec4a82" stroke-width="1.1">12 tahun</text>
<text x="287.9" y="2380.1" font-family='"Liberation Sans", sans-serif' font-size="27.00" fill="#222222" textLength="629.2" lengthAdjust="spacingAndGlyphs" stroke="#222222" stroke-width="0.45">- Pertambahan penduduk dunia terpantas</text>
<text x="149.6" y="2415.2" font-family='"Liberation Sans", sans-serif' font-size="27.00" fill="#222222" textLength="451.0" lengthAdjust="spacingAndGlyphs" stroke="#222222" stroke-width="0.45">dari  6, 7 ke 8 bilion penduduk.</text>
<text x="1447.0" y="1482.0" font-family='"Liberation Serif", serif' font-size="40.00" fill="#000" font-weight="bold" textLength="687.0" lengthAdjust="spacingAndGlyphs" stroke="#000" stroke-width="0.9">Pertumbuhan Tahunan Penduduk Dunia</text>
<path d="M1388.0,2025.5 H2172.1" stroke="#9e9e9e" stroke-width="1" stroke-dasharray="3 2" fill="none"/>
<text x="1373.9" y="2033.3" font-family='"Liberation Sans", sans-serif' font-size="21.50" fill="#1a1a1a" text-anchor="end" textLength="39.4" lengthAdjust="spacingAndGlyphs">0.00</text>
<path d="M1388.0,1984.9 H2172.1" stroke="#9e9e9e" stroke-width="1" stroke-dasharray="3 2" fill="none"/>
<text x="1373.9" y="1992.7" font-family='"Liberation Sans", sans-serif' font-size="21.50" fill="#1a1a1a" text-anchor="end" textLength="39.4" lengthAdjust="spacingAndGlyphs">0.20</text>
<path d="M1388.0,1944.4 H2172.1" stroke="#9e9e9e" stroke-width="1" stroke-dasharray="3 2" fill="none"/>
<text x="1373.9" y="1952.2" font-family='"Liberation Sans", sans-serif' font-size="21.50" fill="#1a1a1a" text-anchor="end" textLength="39.4" lengthAdjust="spacingAndGlyphs">0.40</text>
<path d="M1388.0,1903.8 H2172.1" stroke="#9e9e9e" stroke-width="1" stroke-dasharray="3 2" fill="none"/>
<text x="1373.9" y="1911.6" font-family='"Liberation Sans", sans-serif' font-size="21.50" fill="#1a1a1a" text-anchor="end" textLength="39.4" lengthAdjust="spacingAndGlyphs">0.60</text>
<path d="M1388.0,1863.3 H2172.1" stroke="#9e9e9e" stroke-width="1" stroke-dasharray="3 2" fill="none"/>
<text x="1373.9" y="1871.1" font-family='"Liberation Sans", sans-serif' font-size="21.50" fill="#1a1a1a" text-anchor="end" textLength="39.4" lengthAdjust="spacingAndGlyphs">0.80</text>
<path d="M1388.0,1822.7 H2172.1" stroke="#9e9e9e" stroke-width="1" stroke-dasharray="3 2" fill="none"/>
<text x="1373.9" y="1830.5" font-family='"Liberation Sans", sans-serif' font-size="21.50" fill="#1a1a1a" text-anchor="end" textLength="39.4" lengthAdjust="spacingAndGlyphs">1.00</text>
<path d="M1388.0,1782.1 H2172.1" stroke="#9e9e9e" stroke-width="1" stroke-dasharray="3 2" fill="none"/>
<text x="1373.9" y="1790.0" font-family='"Liberation Sans", sans-serif' font-size="21.50" fill="#1a1a1a" text-anchor="end" textLength="39.4" lengthAdjust="spacingAndGlyphs">1.20</text>
<path d="M1388.0,1741.6 H2172.1" stroke="#9e9e9e" stroke-width="1" stroke-dasharray="3 2" fill="none"/>
<text x="1373.9" y="1749.4" font-family='"Liberation Sans", sans-serif' font-size="21.50" fill="#1a1a1a" text-anchor="end" textLength="39.4" lengthAdjust="spacingAndGlyphs">1.40</text>
<path d="M1388.0,1701.0 H2172.1" stroke="#9e9e9e" stroke-width="1" stroke-dasharray="3 2" fill="none"/>
<text x="1373.9" y="1708.9" font-family='"Liberation Sans", sans-serif' font-size="21.50" fill="#1a1a1a" text-anchor="end" textLength="39.4" lengthAdjust="spacingAndGlyphs">1.60</text>
<path d="M1388.0,1660.5 H2172.1" stroke="#9e9e9e" stroke-width="1" stroke-dasharray="3 2" fill="none"/>
<text x="1373.9" y="1668.3" font-family='"Liberation Sans", sans-serif' font-size="21.50" fill="#1a1a1a" text-anchor="end" textLength="39.4" lengthAdjust="spacingAndGlyphs">1.80</text>
<path d="M1388.0,1619.9 H2172.1" stroke="#9e9e9e" stroke-width="1" stroke-dasharray="3 2" fill="none"/>
<text x="1373.9" y="1627.8" font-family='"Liberation Sans", sans-serif' font-size="21.50" fill="#1a1a1a" text-anchor="end" textLength="39.4" lengthAdjust="spacingAndGlyphs">2.00</text>
<path d="M1388.0,1579.4 H2172.1" stroke="#9e9e9e" stroke-width="1" stroke-dasharray="3 2" fill="none"/>
<text x="1373.9" y="1587.2" font-family='"Liberation Sans", sans-serif' font-size="21.50" fill="#1a1a1a" text-anchor="end" textLength="39.4" lengthAdjust="spacingAndGlyphs">2.20</text>
<path d="M1388.0,1575.8 V2025.5" stroke="#9e9e9e" stroke-width="1" stroke-dasharray="3 2" fill="none"/>
<path d="M1440.7,1575.8 V2025.5" stroke="#9e9e9e" stroke-width="1" stroke-dasharray="3 2" fill="none"/>
<path d="M1545.9,1575.8 V2025.5" stroke="#9e9e9e" stroke-width="1" stroke-dasharray="3 2" fill="none"/>
<path d="M1651.2,1575.8 V2025.5" stroke="#9e9e9e" stroke-width="1" stroke-dasharray="3 2" fill="none"/>
<path d="M1703.8,1575.8 V2025.5" stroke="#9e9e9e" stroke-width="1" stroke-dasharray="3 2" fill="none"/>
<path d="M1756.4,1575.8 V2025.5" stroke="#9e9e9e" stroke-width="1" stroke-dasharray="3 2" fill="none"/>
<path d="M1861.7,1575.8 V2025.5" stroke="#9e9e9e" stroke-width="1" stroke-dasharray="3 2" fill="none"/>
<path d="M1966.9,1575.8 V2025.5" stroke="#9e9e9e" stroke-width="1" stroke-dasharray="3 2" fill="none"/>
<path d="M2072.2,1575.8 V2025.5" stroke="#9e9e9e" stroke-width="1" stroke-dasharray="3 2" fill="none"/>
<path d="M1388.0,2025.5 H2172.1" stroke="#888" stroke-width="1" fill="none"/>
<path d="M1388.0,1575.8 V2025.5" stroke="#888" stroke-width="1" fill="none"/>
<text x="1371.4" y="2055.3" font-family='"Liberation Sans", sans-serif' font-size="21.50" fill="#1a1a1a" textLength="42.9" lengthAdjust="spacingAndGlyphs">1950</text>
<text x="1421.9" y="2055.3" font-family='"Liberation Sans", sans-serif' font-size="21.50" fill="#1a1a1a" textLength="42.9" lengthAdjust="spacingAndGlyphs">1960</text>
<text x="1524.4" y="2055.3" font-family='"Liberation Sans", sans-serif' font-size="21.50" fill="#1a1a1a" textLength="44.0" lengthAdjust="spacingAndGlyphs">1980</text>
<text x="1629.0" y="2055.3" font-family='"Liberation Sans", sans-serif' font-size="21.50" fill="#1a1a1a" textLength="44.5" lengthAdjust="spacingAndGlyphs">2000</text>
<text x="1683.6" y="2055.3" font-family='"Liberation Sans", sans-serif' font-size="21.50" fill="#1a1a1a" textLength="44.0" lengthAdjust="spacingAndGlyphs">2010</text>
<text x="1735.1" y="2055.3" font-family='"Liberation Sans", sans-serif' font-size="21.50" fill="#1a1a1a" textLength="44.5" lengthAdjust="spacingAndGlyphs">2020</text>
<text x="1841.2" y="2055.3" font-family='"Liberation Sans", sans-serif' font-size="21.50" fill="#1a1a1a" textLength="44.5" lengthAdjust="spacingAndGlyphs">2040</text>
<text x="1946.3" y="2055.3" font-family='"Liberation Sans", sans-serif' font-size="21.50" fill="#1a1a1a" textLength="44.0" lengthAdjust="spacingAndGlyphs">2060</text>
<text x="2050.9" y="2055.3" font-family='"Liberation Sans", sans-serif' font-size="21.50" fill="#1a1a1a" textLength="44.0" lengthAdjust="spacingAndGlyphs">2080</text>
<text x="2143.3" y="2055.3" font-family='"Liberation Sans", sans-serif' font-size="21.50" fill="#1a1a1a" textLength="44.5" lengthAdjust="spacingAndGlyphs">2100</text>
<polyline points="1388.0,1730.9 1409.3,1645.0 1414.3,1642.5 1420.4,1625.8 1425.9,1632.4 1429.5,1662.7 1436.0,1743.6 1441.1,1758.7 1444.6,1703.1 1451.2,1579.4 1458.3,1579.4 1462.3,1602.1 1467.4,1607.1 1472.4,1617.2 1480.0,1609.7 1484.0,1602.1 1487.6,1607.1 1494.1,1605.6 1497.7,1612.2 1519.4,1675.3 1530.5,1682.9 1537.1,1675.3 1541.6,1698.1 1545.7,1647.6 1550.7,1670.3 1557.3,1673.8 1562.3,1690.5 1570.9,1676.9 1577.5,1674.3 1583.6,1676.9 1588.6,1685.5 1593.7,1688.0 1600.2,1710.7 1604.8,1706.7 1613.9,1730.9 1624.0,1739.5 1636.6,1760.2 1651.8,1772.9 1661.9,1776.4 1670.5,1785.0 1677.0,1781.4 1689.7,1786.5 1702.3,1800.1 1719.0,1805.2" fill="none" stroke="#8c1212" stroke-width="4.6" stroke-linejoin="round"/>
<polyline points="1724.0,1804.2 1745.2,1824.4 1770.5,1847.1 1816.0,1877.4 1862.4,1901.7 1896.8,1920.4 1937.2,1941.6 1967.5,1954.2 1997.8,1965.9 2038.3,1977.0 2073.6,1986.1 2124.2,1998.2 2169.6,2007.8" fill="none" stroke="#3c9ae8" stroke-width="4.8" stroke-linejoin="round"/>
<text x="1447.1" y="1549.0" font-family='"Liberation Sans", sans-serif' font-size="22.50" fill="#1a1a1a" textLength="386.5" lengthAdjust="spacingAndGlyphs">The world population growth rate peaked</text>
<text x="1447.1" y="1570.3" font-family='"Liberation Sans", sans-serif' font-size="22.50" fill="#1a1a1a" textLength="262.7" lengthAdjust="spacingAndGlyphs">in 1962 and 1963 with 2.2%</text>
<text x="2288.9" y="1628.9" font-family='"Liberation Sans", sans-serif' font-size="22.50" fill="#1a1a1a" text-anchor="end" textLength="591.6" lengthAdjust="spacingAndGlyphs">Data sources: Observations: US Census Bureau &amp; Projections:</text>
<text x="2288.9" y="1654.0" font-family='"Liberation Sans", sans-serif' font-size="22.50" fill="#1a1a1a" text-anchor="end" textLength="637.1" lengthAdjust="spacingAndGlyphs">United Nations Population Division (Medium Variant (2015 revision).</text>
<text x="2288.9" y="1679.1" font-family='"Liberation Sans", sans-serif' font-size="22.50" fill="#1a1a1a" text-anchor="end" textLength="642.1" lengthAdjust="spacingAndGlyphs">The interactive data visualization is available at OurWorldinData.org.</text>
<text x="2288.9" y="1704.2" font-family='"Liberation Sans", sans-serif' font-size="22.50" fill="#1a1a1a" text-anchor="end" textLength="616.9" lengthAdjust="spacingAndGlyphs">There you find the raw data and more visualizations on this topic. </text>
<text x="2288.9" y="1729.3" font-family='"Liberation Sans", sans-serif' font-size="22.50" fill="#1a1a1a" text-anchor="end" textLength="491.6" lengthAdjust="spacingAndGlyphs">Licensed under CC-BY-SA by the author Max Roser.</text>
<text x="1437.0" y="1815.3" font-family='"Liberation Sans", sans-serif' font-size="22.50" fill="#1a1a1a" textLength="242.5" lengthAdjust="spacingAndGlyphs">The ‘Great Leap Forward’</text>
<text x="1437.0" y="1835.9" font-family='"Liberation Sans", sans-serif' font-size="22.50" fill="#1a1a1a" textLength="275.3" lengthAdjust="spacingAndGlyphs">famine in China under Mao is</text>
<text x="1437.0" y="1856.5" font-family='"Liberation Sans", sans-serif' font-size="22.50" fill="#1a1a1a" textLength="295.6" lengthAdjust="spacingAndGlyphs">killing around 30 million people.</text>
<text x="1437.0" y="1877.1" font-family='"Liberation Sans", sans-serif' font-size="22.50" fill="#1a1a1a" textLength="295.6" lengthAdjust="spacingAndGlyphs">Its is reducing global population</text>
<text x="1437.0" y="1897.8" font-family='"Liberation Sans", sans-serif' font-size="22.50" fill="#1a1a1a" textLength="302.1" lengthAdjust="spacingAndGlyphs">growth between 1958 and 1961.</text>
<text x="1877.6" y="2088.1" font-family='"Liberation Sans", sans-serif' font-size="22.50" fill="#1a1a1a" textLength="93.5" lengthAdjust="spacingAndGlyphs">Projection</text>
<text x="1788.2" y="2113.4" font-family='"Liberation Sans", sans-serif' font-size="22.50" fill="#1a1a1a" textLength="272.8" lengthAdjust="spacingAndGlyphs">(UN Medium Fertility Variant)</text>
<polyline points="1730.1,2074.5 1730.1,2126.0 2164.6,2126.0" fill="none" stroke="#000" stroke-width="2.6"/>
<polygon points="2162.0,2114.9 2181.7,2126.0 2162.0,2137.1" fill="#000"/>
<circle cx="1363.8" cy="2189.6" r="9" fill="#2a2a2a"/>
<circle cx="1363.8" cy="2258.8" r="9" fill="#2a2a2a"/>
<circle cx="1363.8" cy="2362.4" r="9" fill="#2a2a2a"/>
<text x="1399.1" y="2193.2" font-family='"Liberation Sans", sans-serif' font-size="27.00" fill="#ec4a82" font-weight="bold" textLength="66.7" lengthAdjust="spacingAndGlyphs" stroke="#ec4a82" stroke-width="1.1">1962</text>
<text x="1474.9" y="2193.2" font-family='"Liberation Sans", sans-serif' font-size="27.00" fill="#222222" textLength="755.3" lengthAdjust="spacingAndGlyphs" stroke="#222222" stroke-width="0.45">- Tahun kemuncak pertumbuhan penduduk dunia.</text>
<text x="1399.1" y="2262.9" font-family='"Liberation Sans", sans-serif' font-size="27.00" fill="#ec4a82" font-weight="bold" textLength="69.2" lengthAdjust="spacingAndGlyphs" stroke="#ec4a82" stroke-width="1.1">2.2%</text>
<text x="1478.5" y="2262.9" font-family='"Liberation Sans", sans-serif' font-size="27.00" fill="#222222" textLength="682.6" lengthAdjust="spacingAndGlyphs" stroke="#222222" stroke-width="0.45">- Pertumbuhan penduduk tertinggi pada 1962</text>
<text x="1399.1" y="2297.7" font-family='"Liberation Sans", sans-serif' font-size="27.00" fill="#222222" textLength="592.1" lengthAdjust="spacingAndGlyphs" stroke="#222222" stroke-width="0.45">sebelum jatuh kepada 1/2 sehingga kini.</text>
<text x="1399.1" y="2367.5" font-family='"Liberation Sans", sans-serif' font-size="27.00" fill="#ec4a82" font-weight="bold" textLength="66.7" lengthAdjust="spacingAndGlyphs" stroke="#ec4a82" stroke-width="1.1">2017</text>
<text x="1476.4" y="2367.5" font-family='"Liberation Sans", sans-serif' font-size="27.00" fill="#222222" textLength="695.7" lengthAdjust="spacingAndGlyphs" stroke="#222222" stroke-width="0.45">- Pertambahan tahunan penduduk dunia mula</text>
<text x="1399.1" y="2402.8" font-family='"Liberation Sans", sans-serif' font-size="27.00" fill="#222222" textLength="362.2" lengthAdjust="spacingAndGlyphs" stroke="#222222" stroke-width="0.45">jatuh 1 juta setiap tahun.</text>
<text x="2499.4" y="1482.5" font-family='"Liberation Serif", serif' font-size="40.00" fill="#000" font-weight="bold" textLength="880.3" lengthAdjust="spacingAndGlyphs" stroke="#000" stroke-width="0.9">Pertumbuhan Penduduk Mengikut Tahap Kemajuan</text>
<text x="2511.7" y="1528.7" font-family='"Liberation Sans", sans-serif' font-size="29.00" fill="#444" textLength="852.4" lengthAdjust="spacingAndGlyphs">Historic population growth rates by the level of development of the</text>
<text x="2511.7" y="1562.1" font-family='"Liberation Sans", sans-serif' font-size="29.00" fill="#444" textLength="816.5" lengthAdjust="spacingAndGlyphs">region, with projections to 2099 using the UN medium scenario.</text>
<path d="M2599.6,1932.1 H3188.2" stroke="#9bb9c4" stroke-width="0.9" fill="none"/>
<text x="2585.4" y="1935.7" font-family='"Liberation Sans", sans-serif' font-size="21.00" fill="#333" text-anchor="end" textLength="28.8" lengthAdjust="spacingAndGlyphs">0%</text>
<path d="M2599.6,1870.1 H3188.2" stroke="#9bb9c4" stroke-width="0.9" fill="none"/>
<text x="2585.4" y="1873.7" font-family='"Liberation Sans", sans-serif' font-size="21.00" fill="#333" text-anchor="end" textLength="45.5" lengthAdjust="spacingAndGlyphs">0.5%</text>
<path d="M2599.6,1808.1 H3188.2" stroke="#9bb9c4" stroke-width="0.9" fill="none"/>
<text x="2585.4" y="1811.7" font-family='"Liberation Sans", sans-serif' font-size="21.00" fill="#333" text-anchor="end" textLength="28.8" lengthAdjust="spacingAndGlyphs">1%</text>
<path d="M2599.6,1746.1 H3188.2" stroke="#9bb9c4" stroke-width="0.9" fill="none"/>
<text x="2585.4" y="1749.7" font-family='"Liberation Sans", sans-serif' font-size="21.00" fill="#333" text-anchor="end" textLength="45.5" lengthAdjust="spacingAndGlyphs">1.5%</text>
<path d="M2599.6,1684.1 H3188.2" stroke="#9bb9c4" stroke-width="0.9" fill="none"/>
<text x="2585.4" y="1687.7" font-family='"Liberation Sans", sans-serif' font-size="21.00" fill="#333" text-anchor="end" textLength="28.8" lengthAdjust="spacingAndGlyphs">2%</text>
<path d="M2599.6,1622.1 H3188.2" stroke="#9bb9c4" stroke-width="0.9" fill="none"/>
<text x="2585.4" y="1625.7" font-family='"Liberation Sans", sans-serif' font-size="21.00" fill="#333" text-anchor="end" textLength="45.5" lengthAdjust="spacingAndGlyphs">2.5%</text>
<path d="M2599.6,1944.3 v6" stroke="#a9c4d0" stroke-width="1.2"/>
<path d="M2718.0,1944.3 v6" stroke="#a9c4d0" stroke-width="1.2"/>
<path d="M2797.1,1944.3 v6" stroke="#a9c4d0" stroke-width="1.2"/>
<path d="M2877.2,1944.3 v6" stroke="#a9c4d0" stroke-width="1.2"/>
<path d="M2955.8,1944.3 v6" stroke="#a9c4d0" stroke-width="1.2"/>
<path d="M3034.9,1944.3 v6" stroke="#a9c4d0" stroke-width="1.2"/>
<path d="M3113.5,1944.3 v6" stroke="#a9c4d0" stroke-width="1.2"/>
<path d="M3188.2,1944.3 v6" stroke="#a9c4d0" stroke-width="1.2"/>
<text x="2600.1" y="1972.8" font-family='"Liberation Sans", sans-serif' font-size="20.00" fill="#333" textLength="41.3" lengthAdjust="spacingAndGlyphs">1950</text>
<text x="2696.9" y="1972.8" font-family='"Liberation Sans", sans-serif' font-size="20.00" fill="#333" textLength="40.8" lengthAdjust="spacingAndGlyphs">1980</text>
<text x="2775.5" y="1972.8" font-family='"Liberation Sans", sans-serif' font-size="20.00" fill="#333" textLength="40.8" lengthAdjust="spacingAndGlyphs">2000</text>
<text x="2858.0" y="1972.8" font-family='"Liberation Sans", sans-serif' font-size="20.00" fill="#333" textLength="41.8" lengthAdjust="spacingAndGlyphs">2020</text>
<text x="2933.7" y="1972.8" font-family='"Liberation Sans", sans-serif' font-size="20.00" fill="#333" textLength="40.8" lengthAdjust="spacingAndGlyphs">2040</text>
<text x="3016.2" y="1972.8" font-family='"Liberation Sans", sans-serif' font-size="20.00" fill="#333" textLength="41.8" lengthAdjust="spacingAndGlyphs">2060</text>
<text x="3094.8" y="1972.8" font-family='"Liberation Sans", sans-serif' font-size="20.00" fill="#333" textLength="41.8" lengthAdjust="spacingAndGlyphs">2080</text>
<text x="3152.3" y="1972.8" font-family='"Liberation Sans", sans-serif' font-size="20.00" fill="#333" textLength="41.8" lengthAdjust="spacingAndGlyphs">2099</text>
<polyline points="2599.6,1696.2 2606.0,1694.8 2615.8,1684.9 2625.6,1667.7 2635.5,1653.0 2647.7,1643.2 2657.6,1628.4 2664.9,1617.1 2672.3,1616.2 2679.7,1628.4 2687.0,1640.7 2694.4,1640.7 2704.2,1628.4 2714.1,1623.5 2726.4,1619.6 2738.6,1611.3 2753.4,1599.0 2763.2,1591.6 2770.6,1593.1 2777.9,1606.3 2787.8,1623.5 2795.1,1623.5 2802.5,1620.1 2809.9,1623.5 2817.2,1633.4 2827.1,1643.2 2839.3,1640.7 2851.6,1639.3 2863.9,1641.7 2877.2,1647.1" fill="none" stroke="#2c4a80" stroke-width="2.6" stroke-linejoin="round"/>
<polyline points="2877.2,1647.1 2920.4,1682.5 2969.5,1724.2 3018.7,1763.5 3067.8,1797.9 3116.9,1829.9 3156.2,1853.0 3188.2,1870.2" fill="none" stroke="#2c4a80" stroke-width="1.2" stroke-linejoin="round" stroke-dasharray="2 2"/>
<polyline points="2599.6,1656.4 2610.9,1684.0 2620.7,1677.6 2635.5,1665.3 2647.7,1653.0 2657.6,1630.9 2664.9,1616.2 2670.8,1614.7 2679.7,1626.0 2694.4,1645.6 2709.2,1666.8 2723.9,1668.7 2736.2,1662.8 2743.5,1657.9 2750.9,1665.3 2758.3,1684.9 2765.7,1704.6 2773.0,1719.3 2787.8,1736.5 2802.5,1748.8 2822.2,1756.2 2841.8,1762.6 2861.5,1773.4 2877.2,1783.2" fill="none" stroke="#b83222" stroke-width="2.6" stroke-linejoin="round"/>
<polyline points="2877.2,1783.2 2920.4,1817.6 2969.5,1848.0 3018.7,1874.1 3067.8,1893.7 3116.9,1910.9 3156.2,1920.8 3188.2,1928.1" fill="none" stroke="#b83222" stroke-width="1.2" stroke-linejoin="round" stroke-dasharray="2 2"/>
<polyline points="2599.6,1793.0 2606.0,1785.7 2615.8,1781.7 2625.6,1785.7 2635.5,1789.6 2645.3,1793.0 2652.7,1800.4 2660.0,1815.1 2669.9,1831.3 2679.7,1833.3 2689.5,1836.3 2699.3,1844.6 2714.1,1855.9 2728.8,1862.8 2743.5,1863.3 2753.4,1869.2 2768.1,1883.9 2782.8,1892.8 2792.7,1894.7 2805.0,1891.3 2817.2,1883.9 2827.1,1879.0 2836.9,1883.9 2851.6,1891.3 2866.4,1900.1 2877.2,1909.9" fill="none" stroke="#22b484" stroke-width="2.6" stroke-linejoin="round"/>
<polyline points="2877.2,1909.9 2900.8,1920.8 2935.1,1932.1 2969.5,1940.4 3008.8,1946.3 3038.3,1947.3 3067.8,1944.3 3107.1,1938.0 3146.4,1933.0 3188.2,1931.6" fill="none" stroke="#22b484" stroke-width="1.2" stroke-linejoin="round" stroke-dasharray="2 2"/>
<text x="3211.7" y="1849.5" font-family='"Liberation Sans", sans-serif' font-size="22.50" fill="#2c4a80" textLength="168.0" lengthAdjust="spacingAndGlyphs">Least Developed</text>
<text x="3211.7" y="1871.6" font-family='"Liberation Sans", sans-serif' font-size="22.50" fill="#2c4a80" textLength="96.8" lengthAdjust="spacingAndGlyphs">Countries</text>
<text x="3211.7" y="1901.1" font-family='"Liberation Sans", sans-serif' font-size="22.50" fill="#b83222" textLength="160.6" lengthAdjust="spacingAndGlyphs">Less Developed</text>
<text x="3211.7" y="1922.2" font-family='"Liberation Sans", sans-serif' font-size="22.50" fill="#b83222" textLength="83.0" lengthAdjust="spacingAndGlyphs">Regions</text>
<text x="3211.7" y="1950.2" font-family='"Liberation Sans", sans-serif' font-size="22.50" fill="#22b484" textLength="164.1" lengthAdjust="spacingAndGlyphs">More Developed</text>
<text x="3211.7" y="1972.3" font-family='"Liberation Sans", sans-serif' font-size="22.50" fill="#22b484" textLength="83.0" lengthAdjust="spacingAndGlyphs">Regions</text>
<text x="2443.9" y="2020.0" font-family='"Liberation Sans", sans-serif' font-size="20.00" fill="#7a97a8" textLength="493.7" lengthAdjust="spacingAndGlyphs">Source: United Nations – Population Division (2019 Revision)</text>
<text x="3015.2" y="2020.0" font-family='"Liberation Sans", sans-serif' font-size="20.00" fill="#7a97a8" textLength="433.3" lengthAdjust="spacingAndGlyphs">OurWorldInData.org/world-population-growth/• CC BY</text>
<text x="2443.9" y="2043.6" font-family='"Liberation Sans", sans-serif' font-size="20.00" fill="#7a97a8" textLength="949.6" lengthAdjust="spacingAndGlyphs">Note: More developed regions comprise Europe, Northern America, Australia/New Zealand and Japan; less developed</text>
<text x="2443.9" y="2066.7" font-family='"Liberation Sans", sans-serif' font-size="20.00" fill="#7a97a8" textLength="987.5" lengthAdjust="spacingAndGlyphs">regions comprise all regions of Africa, Asia (excluding Japan), Latin America and the Caribbean plus Melanesia, Micronesia</text>
<text x="2443.9" y="2090.2" font-family='"Liberation Sans", sans-serif' font-size="20.00" fill="#7a97a8" textLength="963.9" lengthAdjust="spacingAndGlyphs">and Polynesia; least developed countries are 48 countries, 33 in Africa, 9 in Asia, 5 in Oceania plus one in Latin America</text>
<text x="2443.9" y="2113.3" font-family='"Liberation Sans", sans-serif' font-size="20.00" fill="#7a97a8" textLength="154.8" lengthAdjust="spacingAndGlyphs">and the Caribbean.</text>
<circle cx="2561.8" cy="2178.1" r="9" fill="#2a2a2a"/>
<circle cx="2561.8" cy="2281.3" r="9" fill="#2a2a2a"/>
<circle cx="2561.8" cy="2385.5" r="9" fill="#2a2a2a"/>
<text x="2597.6" y="2181.6" font-family='"Liberation Sans", sans-serif' font-size="27.00" fill="#ec4a82" font-weight="bold" textLength="36.8" lengthAdjust="spacingAndGlyphs" stroke="#ec4a82" stroke-width="1.1">1%</text>
<text x="2645.3" y="2181.6" font-family='"Liberation Sans", sans-serif' font-size="27.00" fill="#222222" textLength="594.4" lengthAdjust="spacingAndGlyphs" stroke="#222222" stroke-width="0.45">- Pertumbuhan tertinggi pernah dicapai</text>
<text x="2597.6" y="2216.0" font-family='"Liberation Sans", sans-serif' font-size="27.00" fill="#222222" textLength="502.1" lengthAdjust="spacingAndGlyphs" stroke="#222222" stroke-width="0.45">negara-negara maju pada 1950an.</text>
<text x="2597.6" y="2286.2" font-family='"Liberation Sans", sans-serif' font-size="27.00" fill="#ec4a82" font-weight="bold" textLength="86.0" lengthAdjust="spacingAndGlyphs" stroke="#ec4a82" stroke-width="1.1">2.55%</text>
<text x="2693.4" y="2286.2" font-family='"Liberation Sans", sans-serif' font-size="27.00" fill="#222222" textLength="595.4" lengthAdjust="spacingAndGlyphs" stroke="#222222" stroke-width="0.45">- Pertumbuhan tertinggi pernah dicapai</text>
<text x="2597.6" y="2320.6" font-family='"Liberation Sans", sans-serif' font-size="27.00" fill="#222222" textLength="584.6" lengthAdjust="spacingAndGlyphs" stroke="#222222" stroke-width="0.45">negara-negara membangun pada 1968.</text>
<text x="2597.6" y="2390.4" font-family='"Liberation Sans", sans-serif' font-size="27.00" fill="#ec4a82" font-weight="bold" textLength="86.0" lengthAdjust="spacingAndGlyphs" stroke="#ec4a82" stroke-width="1.1">2.74%</text>
<text x="2693.4" y="2390.4" font-family='"Liberation Sans", sans-serif' font-size="27.00" fill="#222222" textLength="595.4" lengthAdjust="spacingAndGlyphs" stroke="#222222" stroke-width="0.45">- Pertumbuhan tertinggi pernah dicapai</text>
<text x="2597.6" y="2425.8" font-family='"Liberation Sans", sans-serif' font-size="27.00" fill="#222222" textLength="698.6" lengthAdjust="spacingAndGlyphs" stroke="#222222" stroke-width="0.45">negara-negara kurang membangun pada 1992.</text>
</svg></body></html>
